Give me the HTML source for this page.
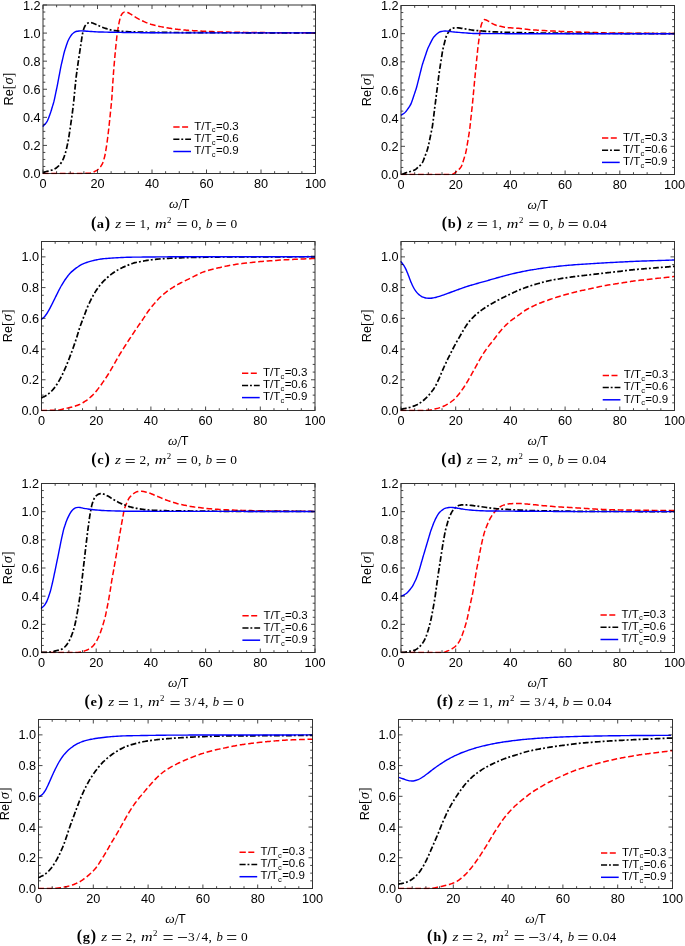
<!DOCTYPE html>
<html><head><meta charset="utf-8"><style>
html,body{margin:0;padding:0;background:#fff;}
body{width:685px;height:946px;overflow:hidden;}
svg{display:block;}
.t{font-family:"Liberation Sans",sans-serif;font-size:12.7px;fill:#000;}
.l{font-family:"Liberation Sans",sans-serif;font-size:11.5px;fill:#000;}
.cr{font-family:"Liberation Serif",serif;fill:#000;}
.ci{font-family:"Liberation Serif",serif;font-style:italic;fill:#000;}
.cb{font-family:"Liberation Serif",serif;font-weight:bold;fill:#000;}
</style></head><body>
<svg width="685" height="946" viewBox="0 0 685 946">
<text x="43" y="187.8" text-anchor="middle" class="t">0</text>
<text x="97.5" y="187.8" text-anchor="middle" class="t">20</text>
<text x="152" y="187.8" text-anchor="middle" class="t">40</text>
<text x="206.5" y="187.8" text-anchor="middle" class="t">60</text>
<text x="261" y="187.8" text-anchor="middle" class="t">80</text>
<text x="315.5" y="187.8" text-anchor="middle" class="t">100</text>
<text x="40.6" y="178" text-anchor="end" class="t">0.0</text>
<text x="40.6" y="149.92" text-anchor="end" class="t">0.2</text>
<text x="40.6" y="121.83" text-anchor="end" class="t">0.4</text>
<text x="40.6" y="93.75" text-anchor="end" class="t">0.6</text>
<text x="40.6" y="65.67" text-anchor="end" class="t">0.8</text>
<text x="40.6" y="37.58" text-anchor="end" class="t">1.0</text>
<text x="40.6" y="9.5" text-anchor="end" class="t">1.2</text>
<text x="179.25" y="208.1" text-anchor="middle" class="t"><tspan font-style="italic" font-family="Liberation Serif" font-size="13.4">ω</tspan><tspan font-family="Liberation Serif" font-size="14.5" dy="1.6" dx="-0.3">/</tspan><tspan dy="-1.6" dx="-0.6">T</tspan></text>
<text transform="translate(13.3 89.05) rotate(-90)" text-anchor="middle" class="t">Re<tspan font-family="Liberation Serif" font-size="14">[</tspan><tspan font-style="italic" font-family="Liberation Serif" font-size="14.5">σ</tspan><tspan font-family="Liberation Serif" font-size="14">]</tspan></text>
<clipPath id="cpa"><rect x="42.2" y="4.2" width="274.1" height="170.1"/></clipPath>
<g clip-path="url(#cpa)" fill="none">
<path d="M42.80,173.50C43.13,173.50 44.14,173.50 44.80,173.50C45.47,173.50 46.14,173.49 46.81,173.49C47.47,173.49 48.14,173.49 48.81,173.49C49.48,173.49 50.14,173.49 50.81,173.49C51.48,173.48 52.15,173.48 52.82,173.48C53.48,173.48 54.15,173.48 54.82,173.48C55.49,173.47 56.15,173.47 56.82,173.47C57.49,173.47 58.16,173.47 58.82,173.47C59.49,173.46 60.16,173.46 60.83,173.46C61.50,173.46 62.16,173.46 62.83,173.45C63.50,173.45 64.17,173.45 64.83,173.45C65.50,173.45 66.17,173.44 66.84,173.44C67.50,173.44 68.17,173.44 68.84,173.44C69.51,173.43 70.18,173.43 70.84,173.43C71.51,173.43 72.18,173.42 72.85,173.42C73.51,173.42 74.18,173.42 74.85,173.41C75.52,173.41 76.18,173.41 76.85,173.41C77.52,173.40 78.19,173.40 78.86,173.40C79.52,173.40 80.19,173.39 80.86,173.39C81.53,173.39 82.19,173.39 82.86,173.38C83.53,173.38 84.20,173.38 84.86,173.37C85.53,173.37 86.20,173.37 86.87,173.36C87.53,173.34 88.20,173.34 88.86,173.29C89.52,173.24 90.18,173.20 90.83,173.03C91.49,172.87 92.14,172.57 92.77,172.31C93.40,172.05 94.03,171.77 94.64,171.49C95.24,171.21 95.84,170.94 96.41,170.61C96.98,170.28 97.54,169.93 98.05,169.52C98.56,169.12 99.04,168.67 99.48,168.19C99.91,167.71 100.30,167.17 100.68,166.63C101.05,166.09 101.41,165.52 101.73,164.94C102.06,164.37 102.36,163.78 102.62,163.17C102.89,162.57 103.10,161.94 103.31,161.31C103.52,160.68 103.70,160.04 103.89,159.40C104.07,158.76 104.25,158.12 104.42,157.47C104.59,156.82 104.76,156.18 104.90,155.53C105.05,154.88 105.17,154.22 105.30,153.57C105.42,152.91 105.53,152.25 105.64,151.59C105.75,150.94 105.85,150.28 105.96,149.62C106.07,148.96 106.18,148.30 106.28,147.64C106.39,146.98 106.50,146.32 106.60,145.66C106.70,145.00 106.80,144.34 106.89,143.68C106.98,143.02 107.07,142.36 107.16,141.70C107.25,141.03 107.33,140.37 107.42,139.71C107.50,139.05 107.59,138.39 107.67,137.72C107.75,137.06 107.84,136.40 107.92,135.74C108.01,135.07 108.09,134.41 108.17,133.75C108.25,133.08 108.32,132.42 108.40,131.76C108.48,131.09 108.55,130.43 108.62,129.77C108.70,129.10 108.77,128.44 108.84,127.78C108.91,127.11 108.99,126.45 109.06,125.79C109.13,125.12 109.21,124.46 109.28,123.79C109.35,123.13 109.42,122.47 109.49,121.80C109.56,121.14 109.63,120.47 109.70,119.81C109.77,119.15 109.84,118.48 109.90,117.82C109.97,117.15 110.04,116.49 110.11,115.82C110.18,115.16 110.24,114.50 110.31,113.83C110.38,113.17 110.45,112.50 110.51,111.84C110.58,111.17 110.65,110.51 110.71,109.85C110.78,109.18 110.85,108.52 110.92,107.85C110.98,107.19 111.05,106.52 111.12,105.86C111.18,105.20 111.25,104.53 111.32,103.87C111.39,103.20 111.45,102.54 111.52,101.87C111.58,101.21 111.65,100.54 111.70,99.88C111.76,99.21 111.81,98.55 111.86,97.88C111.91,97.22 111.95,96.55 112.00,95.88C112.04,95.22 112.08,94.55 112.12,93.89C112.16,93.22 112.20,92.55 112.24,91.89C112.29,91.22 112.33,90.55 112.37,89.89C112.41,89.22 112.45,88.55 112.49,87.89C112.53,87.22 112.57,86.55 112.62,85.89C112.66,85.22 112.70,84.56 112.75,83.89C112.79,83.22 112.84,82.56 112.88,81.89C112.93,81.23 112.97,80.56 113.02,79.89C113.07,79.23 113.11,78.56 113.16,77.89C113.21,77.23 113.25,76.56 113.30,75.90C113.35,75.23 113.39,74.56 113.44,73.90C113.48,73.23 113.53,72.57 113.58,71.90C113.63,71.23 113.67,70.57 113.72,69.90C113.77,69.24 113.83,68.57 113.88,67.91C113.93,67.24 113.99,66.57 114.05,65.91C114.11,65.24 114.17,64.58 114.23,63.91C114.28,63.25 114.34,62.58 114.40,61.92C114.46,61.25 114.52,60.59 114.58,59.92C114.64,59.26 114.70,58.59 114.76,57.93C114.82,57.26 114.88,56.60 114.93,55.93C114.99,55.27 115.05,54.60 115.11,53.94C115.17,53.27 115.23,52.61 115.29,51.94C115.36,51.28 115.42,50.61 115.48,49.95C115.55,49.28 115.61,48.62 115.68,47.96C115.75,47.29 115.81,46.63 115.88,45.96C115.95,45.30 116.01,44.63 116.08,43.97C116.15,43.31 116.22,42.64 116.28,41.98C116.35,41.31 116.42,40.65 116.49,39.98C116.56,39.32 116.62,38.66 116.70,37.99C116.77,37.33 116.84,36.66 116.93,36.00C117.01,35.34 117.10,34.68 117.20,34.02C117.29,33.36 117.39,32.70 117.49,32.04C117.59,31.38 117.69,30.72 117.79,30.06C117.89,29.40 117.99,28.74 118.10,28.08C118.20,27.42 118.31,26.76 118.43,26.10C118.54,25.44 118.67,24.79 118.80,24.13C118.93,23.48 119.07,22.83 119.21,22.17C119.35,21.52 119.49,20.87 119.64,20.22C119.79,19.57 119.92,18.91 120.10,18.28C120.27,17.64 120.45,17.00 120.69,16.39C120.93,15.78 121.21,15.18 121.54,14.63C121.88,14.09 122.26,13.54 122.69,13.13C123.13,12.72 123.63,12.35 124.16,12.15C124.70,11.96 125.30,11.91 125.89,11.96C126.47,12.02 127.09,12.25 127.67,12.49C128.26,12.73 128.85,13.07 129.43,13.39C130.00,13.71 130.57,14.07 131.13,14.43C131.70,14.78 132.25,15.16 132.81,15.52C133.37,15.89 133.92,16.26 134.48,16.62C135.04,16.99 135.60,17.35 136.18,17.68C136.75,18.02 137.33,18.35 137.92,18.66C138.51,18.97 139.11,19.27 139.70,19.57C140.30,19.87 140.90,20.16 141.50,20.44C142.11,20.73 142.71,21.01 143.32,21.28C143.93,21.55 144.55,21.82 145.16,22.08C145.77,22.34 146.39,22.60 147.01,22.85C147.63,23.10 148.25,23.35 148.87,23.58C149.50,23.81 150.13,24.02 150.76,24.22C151.40,24.41 152.04,24.59 152.69,24.76C153.33,24.93 153.98,25.09 154.63,25.26C155.28,25.42 155.92,25.58 156.57,25.74C157.22,25.90 157.87,26.06 158.52,26.20C159.17,26.35 159.82,26.49 160.48,26.62C161.13,26.75 161.79,26.86 162.45,26.98C163.10,27.10 163.76,27.21 164.42,27.33C165.08,27.44 165.74,27.55 166.39,27.66C167.05,27.78 167.71,27.89 168.37,28.00C169.03,28.11 169.68,28.23 170.34,28.34C171.00,28.45 171.66,28.56 172.32,28.66C172.98,28.77 173.64,28.87 174.30,28.95C174.96,29.04 175.62,29.12 176.29,29.19C176.95,29.26 177.62,29.32 178.28,29.39C178.95,29.46 179.61,29.52 180.27,29.58C180.94,29.65 181.60,29.71 182.27,29.77C182.93,29.84 183.60,29.90 184.26,29.96C184.93,30.03 185.59,30.09 186.26,30.15C186.92,30.21 187.59,30.27 188.25,30.32C188.92,30.38 189.58,30.42 190.25,30.47C190.92,30.51 191.58,30.55 192.25,30.59C192.92,30.63 193.58,30.66 194.25,30.70C194.92,30.74 195.58,30.77 196.25,30.81C196.92,30.84 197.58,30.88 198.25,30.92C198.92,30.95 199.58,30.99 200.25,31.03C200.92,31.06 201.58,31.10 202.25,31.13C202.92,31.17 203.58,31.20 204.25,31.24C204.92,31.27 205.58,31.30 206.25,31.34C206.92,31.37 207.58,31.40 208.25,31.43C208.92,31.46 209.59,31.50 210.25,31.53C210.92,31.56 211.59,31.59 212.25,31.62C212.92,31.66 213.59,31.69 214.25,31.72C214.92,31.75 215.59,31.78 216.26,31.81C216.92,31.84 217.59,31.86 218.26,31.88C218.92,31.91 219.59,31.92 220.26,31.94C220.93,31.95 221.59,31.97 222.26,31.98C222.93,31.99 223.60,32.00 224.26,32.02C224.93,32.03 225.60,32.04 226.27,32.05C226.93,32.07 227.60,32.08 228.27,32.09C228.94,32.10 229.61,32.11 230.27,32.13C230.94,32.14 231.61,32.15 232.28,32.16C232.94,32.18 233.61,32.19 234.28,32.20C234.95,32.21 235.61,32.23 236.28,32.24C236.95,32.25 237.62,32.26 238.28,32.28C238.95,32.29 239.62,32.30 240.29,32.31C240.95,32.32 241.62,32.34 242.29,32.35C242.96,32.36 243.62,32.37 244.29,32.38C244.96,32.39 245.63,32.40 246.29,32.41C246.96,32.42 247.63,32.43 248.30,32.44C248.97,32.45 249.63,32.45 250.30,32.46C250.97,32.47 251.64,32.48 252.30,32.48C252.97,32.49 253.64,32.50 254.31,32.51C254.97,32.51 255.64,32.52 256.31,32.53C256.98,32.54 257.65,32.54 258.31,32.55C258.98,32.56 259.65,32.57 260.32,32.58C260.98,32.58 261.65,32.59 262.32,32.60C262.99,32.61 263.65,32.61 264.32,32.62C264.99,32.63 265.66,32.64 266.32,32.64C266.99,32.65 267.66,32.66 268.33,32.67C269.00,32.67 269.66,32.68 270.33,32.69C271.00,32.70 271.67,32.70 272.33,32.71C273.00,32.72 273.67,32.73 274.34,32.74C275.00,32.74 275.67,32.75 276.34,32.76C277.01,32.77 277.67,32.77 278.34,32.78C279.01,32.79 279.68,32.79 280.35,32.80C281.01,32.80 281.68,32.80 282.35,32.81C283.02,32.81 283.68,32.81 284.35,32.81C285.02,32.81 285.69,32.82 286.35,32.82C287.02,32.82 287.69,32.82 288.36,32.82C289.03,32.83 289.69,32.83 290.36,32.83C291.03,32.83 291.70,32.83 292.36,32.83C293.03,32.84 293.70,32.84 294.37,32.84C295.04,32.84 295.70,32.84 296.37,32.85C297.04,32.85 297.71,32.85 298.37,32.85C299.04,32.85 299.71,32.86 300.38,32.86C301.04,32.86 301.71,32.86 302.38,32.86C303.05,32.87 303.72,32.87 304.38,32.87C305.05,32.87 305.72,32.87 306.39,32.87C307.05,32.88 307.72,32.88 308.39,32.88C309.06,32.88 309.72,32.88 310.39,32.89C311.06,32.89 311.73,32.89 312.40,32.89C313.06,32.89 313.90,32.90 314.40,32.90C314.90,32.90 315.23,32.90 315.40,32.90" stroke="#f00" stroke-width="1.5" stroke-dasharray="5.8 2.7"/>
<path d="M43.10,172.60C43.43,172.48 44.40,172.05 45.05,171.85C45.70,171.65 46.35,171.55 47.00,171.40C47.65,171.24 48.30,171.08 48.94,170.91C49.59,170.74 50.23,170.56 50.87,170.37C51.51,170.18 52.15,170.00 52.77,169.77C53.39,169.54 54.00,169.30 54.58,169.00C55.16,168.69 55.71,168.34 56.25,167.96C56.78,167.58 57.30,167.15 57.80,166.71C58.29,166.28 58.79,165.83 59.24,165.36C59.69,164.88 60.11,164.37 60.50,163.84C60.89,163.31 61.24,162.74 61.58,162.17C61.93,161.61 62.26,161.02 62.56,160.43C62.87,159.85 63.17,159.25 63.43,158.64C63.70,158.03 63.93,157.41 64.15,156.78C64.37,156.16 64.57,155.52 64.77,154.88C64.97,154.25 65.16,153.61 65.35,152.97C65.55,152.33 65.74,151.69 65.92,151.05C66.09,150.40 66.26,149.76 66.42,149.11C66.58,148.46 66.72,147.81 66.87,147.16C67.01,146.51 67.15,145.85 67.28,145.20C67.42,144.55 67.56,143.89 67.69,143.24C67.83,142.59 67.97,141.93 68.10,141.28C68.23,140.62 68.35,139.97 68.47,139.31C68.59,138.65 68.69,137.99 68.80,137.34C68.90,136.68 69.00,136.02 69.10,135.36C69.20,134.70 69.30,134.03 69.40,133.37C69.50,132.71 69.60,132.05 69.69,131.39C69.79,130.73 69.89,130.07 69.99,129.41C70.09,128.75 70.19,128.09 70.28,127.43C70.38,126.77 70.48,126.11 70.58,125.45C70.67,124.79 70.77,124.13 70.87,123.47C70.97,122.81 71.06,122.15 71.16,121.49C71.26,120.83 71.36,120.17 71.45,119.51C71.55,118.84 71.65,118.18 71.74,117.52C71.83,116.86 71.93,116.20 72.01,115.54C72.10,114.88 72.19,114.22 72.27,113.55C72.35,112.89 72.43,112.23 72.51,111.57C72.59,110.90 72.68,110.24 72.76,109.58C72.84,108.91 72.92,108.25 73.00,107.59C73.08,106.93 73.16,106.26 73.24,105.60C73.32,104.94 73.40,104.27 73.48,103.61C73.55,102.95 73.63,102.28 73.70,101.62C73.77,100.96 73.84,100.29 73.91,99.63C73.97,98.96 74.04,98.30 74.10,97.64C74.17,96.97 74.23,96.31 74.30,95.64C74.36,94.98 74.43,94.31 74.49,93.65C74.56,92.98 74.62,92.32 74.68,91.66C74.75,90.99 74.81,90.33 74.88,89.66C74.94,89.00 75.01,88.33 75.07,87.67C75.14,87.00 75.20,86.34 75.26,85.67C75.33,85.01 75.39,84.35 75.46,83.68C75.52,83.02 75.59,82.35 75.65,81.69C75.72,81.02 75.78,80.36 75.86,79.70C75.93,79.03 76.00,78.37 76.08,77.71C76.16,77.04 76.25,76.38 76.33,75.72C76.42,75.06 76.51,74.40 76.60,73.73C76.69,73.07 76.78,72.41 76.88,71.75C76.97,71.09 77.06,70.43 77.15,69.77C77.24,69.10 77.33,68.44 77.42,67.78C77.51,67.12 77.61,66.46 77.70,65.80C77.79,65.14 77.88,64.47 77.97,63.81C78.06,63.15 78.15,62.49 78.25,61.83C78.34,61.17 78.44,60.51 78.54,59.85C78.63,59.19 78.73,58.53 78.83,57.87C78.93,57.21 79.03,56.55 79.13,55.89C79.23,55.23 79.33,54.57 79.43,53.91C79.54,53.25 79.64,52.59 79.74,51.93C79.84,51.27 79.94,50.61 80.04,49.95C80.14,49.29 80.24,48.63 80.34,47.97C80.44,47.31 80.54,46.65 80.64,45.99C80.74,45.33 80.83,44.67 80.93,44.00C81.03,43.34 81.13,42.68 81.22,42.02C81.32,41.36 81.42,40.70 81.51,40.04C81.61,39.38 81.71,38.72 81.81,38.06C81.91,37.40 82.00,36.74 82.11,36.08C82.22,35.42 82.33,34.77 82.46,34.11C82.59,33.46 82.74,32.81 82.89,32.16C83.05,31.51 83.21,30.86 83.39,30.22C83.57,29.58 83.74,28.94 83.97,28.32C84.19,27.70 84.44,27.08 84.74,26.51C85.05,25.93 85.39,25.36 85.80,24.87C86.20,24.38 86.65,23.90 87.16,23.55C87.66,23.20 88.24,22.91 88.82,22.75C89.41,22.60 90.05,22.56 90.67,22.61C91.29,22.65 91.92,22.84 92.54,23.03C93.16,23.22 93.77,23.49 94.38,23.75C95.00,24.01 95.60,24.29 96.21,24.56C96.82,24.84 97.43,25.11 98.04,25.39C98.65,25.66 99.25,25.94 99.86,26.21C100.47,26.48 101.08,26.75 101.70,27.01C102.32,27.26 102.94,27.51 103.56,27.74C104.18,27.97 104.82,28.19 105.45,28.41C106.08,28.62 106.71,28.83 107.35,29.02C107.99,29.21 108.63,29.39 109.28,29.56C109.92,29.72 110.57,29.86 111.23,30.00C111.88,30.13 112.54,30.26 113.19,30.37C113.85,30.49 114.51,30.60 115.17,30.69C115.83,30.79 116.49,30.87 117.15,30.95C117.82,31.02 118.48,31.09 119.14,31.15C119.81,31.21 120.47,31.27 121.14,31.32C121.81,31.37 122.47,31.41 123.14,31.45C123.80,31.49 124.47,31.53 125.14,31.56C125.80,31.59 126.47,31.62 127.14,31.66C127.80,31.69 128.47,31.72 129.14,31.75C129.81,31.78 130.47,31.81 131.14,31.84C131.81,31.86 132.47,31.89 133.14,31.91C133.81,31.93 134.48,31.95 135.14,31.96C135.81,31.98 136.48,31.99 137.15,32.01C137.81,32.02 138.48,32.04 139.15,32.05C139.82,32.07 140.48,32.08 141.15,32.10C141.82,32.12 142.49,32.13 143.15,32.15C143.82,32.16 144.49,32.18 145.16,32.19C145.82,32.21 146.49,32.22 147.16,32.23C147.82,32.25 148.49,32.26 149.16,32.27C149.83,32.29 150.50,32.30 151.16,32.30C151.83,32.31 152.50,32.32 153.17,32.32C153.83,32.33 154.50,32.34 155.17,32.34C155.84,32.35 156.50,32.35 157.17,32.36C157.84,32.36 158.51,32.37 159.17,32.37C159.84,32.38 160.51,32.38 161.18,32.39C161.84,32.39 162.51,32.40 163.18,32.41C163.85,32.41 164.51,32.42 165.18,32.42C165.85,32.43 166.52,32.43 167.19,32.44C167.85,32.44 168.52,32.45 169.19,32.45C169.86,32.46 170.52,32.46 171.19,32.47C171.86,32.47 172.53,32.48 173.19,32.49C173.86,32.49 174.53,32.50 175.20,32.50C175.86,32.51 176.53,32.51 177.20,32.52C177.87,32.52 178.53,32.53 179.20,32.53C179.87,32.54 180.54,32.54 181.21,32.55C181.87,32.55 182.54,32.56 183.21,32.57C183.88,32.57 184.54,32.58 185.21,32.58C185.88,32.59 186.55,32.59 187.21,32.60C187.88,32.60 188.55,32.61 189.22,32.61C189.88,32.62 190.55,32.62 191.22,32.63C191.89,32.64 192.55,32.64 193.22,32.65C193.89,32.65 194.56,32.66 195.23,32.66C195.89,32.67 196.56,32.67 197.23,32.68C197.90,32.68 198.56,32.69 199.23,32.69C199.90,32.69 200.57,32.70 201.23,32.70C201.90,32.70 202.57,32.70 203.24,32.71C203.90,32.71 204.57,32.71 205.24,32.71C205.91,32.71 206.57,32.71 207.24,32.71C207.91,32.71 208.58,32.71 209.25,32.72C209.91,32.72 210.58,32.72 211.25,32.72C211.92,32.72 212.58,32.72 213.25,32.72C213.92,32.72 214.59,32.73 215.25,32.73C215.92,32.73 216.59,32.73 217.26,32.73C217.92,32.73 218.59,32.73 219.26,32.73C219.93,32.73 220.60,32.74 221.26,32.74C221.93,32.74 222.60,32.74 223.27,32.74C223.93,32.74 224.60,32.74 225.27,32.74C225.94,32.74 226.60,32.75 227.27,32.75C227.94,32.75 228.61,32.75 229.27,32.75C229.94,32.75 230.61,32.75 231.28,32.75C231.95,32.76 232.61,32.76 233.28,32.76C233.95,32.76 234.62,32.76 235.28,32.76C235.95,32.76 236.62,32.76 237.29,32.76C237.95,32.77 238.62,32.77 239.29,32.77C239.96,32.77 240.62,32.77 241.29,32.77C241.96,32.77 242.63,32.77 243.30,32.78C243.96,32.78 244.63,32.78 245.30,32.78C245.97,32.78 246.63,32.78 247.30,32.78C247.97,32.78 248.64,32.78 249.30,32.79C249.97,32.79 250.64,32.79 251.31,32.79C251.97,32.79 252.64,32.79 253.31,32.79C253.98,32.79 254.64,32.79 255.31,32.80C255.98,32.80 256.65,32.80 257.32,32.80C257.98,32.80 258.65,32.80 259.32,32.80C259.99,32.80 260.65,32.81 261.32,32.81C261.99,32.81 262.66,32.81 263.32,32.81C263.99,32.81 264.66,32.81 265.33,32.81C265.99,32.81 266.66,32.82 267.33,32.82C268.00,32.82 268.67,32.82 269.33,32.82C270.00,32.82 270.67,32.82 271.34,32.82C272.00,32.82 272.67,32.83 273.34,32.83C274.01,32.83 274.67,32.83 275.34,32.83C276.01,32.83 276.68,32.83 277.34,32.83C278.01,32.84 278.68,32.84 279.35,32.84C280.02,32.84 280.68,32.84 281.35,32.84C282.02,32.84 282.69,32.84 283.35,32.84C284.02,32.85 284.69,32.85 285.36,32.85C286.02,32.85 286.69,32.85 287.36,32.85C288.03,32.85 288.69,32.85 289.36,32.85C290.03,32.86 290.70,32.86 291.37,32.86C292.03,32.86 292.70,32.86 293.37,32.86C294.04,32.86 294.70,32.86 295.37,32.87C296.04,32.87 296.71,32.87 297.37,32.87C298.04,32.87 298.71,32.87 299.38,32.87C300.04,32.87 300.71,32.87 301.38,32.88C302.05,32.88 302.71,32.88 303.38,32.88C304.05,32.88 304.72,32.88 305.39,32.88C306.05,32.88 306.72,32.88 307.39,32.89C308.06,32.89 308.72,32.89 309.39,32.89C310.06,32.89 310.73,32.89 311.39,32.89C312.06,32.89 312.73,32.90 313.40,32.90C314.06,32.90 315.07,32.90 315.40,32.90" stroke="#000" stroke-width="1.7" stroke-dasharray="5.8 2.1 1.9 2.2"/>
<path d="M42.60,126.60C42.84,126.37 43.56,125.67 44.03,125.20C44.50,124.72 44.98,124.26 45.42,123.76C45.85,123.27 46.28,122.77 46.64,122.22C47.00,121.68 47.30,121.10 47.59,120.51C47.88,119.92 48.11,119.29 48.36,118.67C48.60,118.05 48.83,117.42 49.07,116.80C49.30,116.17 49.54,115.55 49.77,114.92C49.99,114.29 50.22,113.66 50.43,113.03C50.65,112.40 50.85,111.76 51.05,111.13C51.26,110.49 51.45,109.85 51.64,109.21C51.84,108.57 52.03,107.93 52.22,107.29C52.42,106.65 52.61,106.01 52.80,105.37C52.99,104.73 53.19,104.09 53.37,103.45C53.55,102.81 53.73,102.16 53.90,101.52C54.06,100.87 54.22,100.22 54.37,99.57C54.51,98.92 54.65,98.26 54.79,97.61C54.93,96.96 55.06,96.30 55.20,95.65C55.34,94.99 55.47,94.34 55.61,93.68C55.75,93.03 55.88,92.38 56.02,91.72C56.16,91.07 56.29,90.41 56.43,89.76C56.56,89.11 56.70,88.45 56.84,87.80C56.97,87.14 57.11,86.49 57.24,85.83C57.37,85.18 57.50,84.52 57.63,83.87C57.75,83.21 57.88,82.55 58.00,81.90C58.13,81.24 58.25,80.58 58.37,79.93C58.50,79.27 58.62,78.61 58.74,77.96C58.87,77.30 58.99,76.64 59.12,75.99C59.24,75.33 59.36,74.67 59.49,74.02C59.61,73.36 59.73,72.70 59.86,72.05C59.98,71.39 60.10,70.73 60.23,70.08C60.35,69.42 60.48,68.76 60.61,68.11C60.74,67.45 60.87,66.80 61.01,66.14C61.15,65.49 61.29,64.84 61.44,64.19C61.59,63.53 61.74,62.88 61.89,62.23C62.04,61.58 62.19,60.93 62.34,60.28C62.49,59.63 62.64,58.98 62.79,58.33C62.95,57.67 63.10,57.02 63.25,56.37C63.40,55.72 63.55,55.07 63.70,54.42C63.86,53.77 64.02,53.12 64.19,52.48C64.36,51.83 64.54,51.19 64.73,50.55C64.92,49.91 65.12,49.27 65.33,48.64C65.53,48.00 65.75,47.37 65.96,46.73C66.17,46.10 66.38,45.46 66.59,44.83C66.81,44.20 67.02,43.56 67.25,42.94C67.48,42.31 67.71,41.69 67.98,41.08C68.24,40.47 68.53,39.87 68.83,39.27C69.13,38.68 69.44,38.09 69.77,37.51C70.10,36.93 70.43,36.35 70.81,35.81C71.18,35.27 71.57,34.74 72.02,34.26C72.46,33.78 72.95,33.33 73.46,32.94C73.98,32.55 74.54,32.21 75.12,31.93C75.70,31.66 76.33,31.46 76.96,31.30C77.59,31.13 78.25,31.03 78.90,30.96C79.56,30.89 80.22,30.87 80.89,30.86C81.55,30.86 82.22,30.90 82.88,30.93C83.55,30.96 84.21,31.01 84.88,31.06C85.55,31.10 86.21,31.15 86.88,31.20C87.55,31.25 88.21,31.30 88.88,31.35C89.55,31.39 90.21,31.44 90.88,31.49C91.55,31.53 92.21,31.58 92.88,31.62C93.55,31.66 94.21,31.70 94.88,31.73C95.55,31.77 96.22,31.80 96.88,31.84C97.55,31.87 98.22,31.90 98.89,31.93C99.55,31.96 100.22,31.98 100.89,32.00C101.56,32.03 102.23,32.04 102.89,32.06C103.56,32.07 104.23,32.08 104.90,32.10C105.57,32.11 106.23,32.12 106.90,32.14C107.57,32.15 108.24,32.16 108.91,32.18C109.57,32.19 110.24,32.20 110.91,32.22C111.58,32.23 112.25,32.24 112.92,32.26C113.58,32.27 114.25,32.29 114.92,32.30C115.59,32.31 116.26,32.33 116.92,32.34C117.59,32.35 118.26,32.36 118.93,32.38C119.60,32.39 120.27,32.40 120.93,32.41C121.60,32.42 122.27,32.43 122.94,32.44C123.61,32.45 124.27,32.46 124.94,32.47C125.61,32.47 126.28,32.48 126.95,32.49C127.62,32.50 128.28,32.51 128.95,32.52C129.62,32.53 130.29,32.54 130.96,32.55C131.63,32.56 132.29,32.56 132.96,32.57C133.63,32.58 134.30,32.59 134.97,32.60C135.63,32.61 136.30,32.62 136.97,32.63C137.64,32.64 138.31,32.64 138.98,32.65C139.64,32.66 140.31,32.67 140.98,32.68C141.65,32.69 142.32,32.70 142.98,32.71C143.65,32.72 144.32,32.72 144.99,32.73C145.66,32.74 146.33,32.75 146.99,32.76C147.66,32.77 148.33,32.78 149.00,32.78C149.67,32.79 150.34,32.79 151.00,32.80C151.67,32.80 152.34,32.80 153.01,32.81C153.68,32.81 154.34,32.81 155.01,32.81C155.68,32.81 156.35,32.81 157.02,32.81C157.69,32.82 158.35,32.82 159.02,32.82C159.69,32.82 160.36,32.82 161.03,32.82C161.70,32.82 162.36,32.82 163.03,32.83C163.70,32.83 164.37,32.83 165.04,32.83C165.71,32.83 166.37,32.83 167.04,32.83C167.71,32.84 168.38,32.84 169.05,32.84C169.72,32.84 170.38,32.84 171.05,32.84C171.72,32.84 172.39,32.84 173.06,32.85C173.72,32.85 174.39,32.85 175.06,32.85C175.73,32.85 176.40,32.85 177.07,32.85C177.73,32.86 178.40,32.86 179.07,32.86C179.74,32.86 180.41,32.86 181.08,32.86C181.74,32.86 182.41,32.86 183.08,32.87C183.75,32.87 184.42,32.87 185.09,32.87C185.75,32.87 186.42,32.87 187.09,32.87C187.76,32.88 188.43,32.88 189.10,32.88C189.76,32.88 190.43,32.88 191.10,32.88C191.77,32.88 192.44,32.88 193.10,32.89C193.77,32.89 194.44,32.89 195.11,32.89C195.78,32.89 196.45,32.89 197.11,32.89C197.78,32.90 198.45,32.90 199.12,32.90C199.79,32.90 200.46,32.90 201.12,32.90C201.79,32.90 202.46,32.90 203.13,32.90C203.80,32.90 204.47,32.90 205.13,32.90C205.80,32.90 206.47,32.90 207.14,32.90C207.81,32.90 208.48,32.90 209.14,32.90C209.81,32.90 210.48,32.90 211.15,32.90C211.82,32.90 212.49,32.90 213.15,32.90C213.82,32.90 214.49,32.90 215.16,32.90C215.83,32.90 216.49,32.90 217.16,32.90C217.83,32.90 218.50,32.90 219.17,32.90C219.84,32.90 220.50,32.90 221.17,32.90C221.84,32.90 222.51,32.90 223.18,32.90C223.85,32.90 224.51,32.90 225.18,32.90C225.85,32.90 226.52,32.90 227.19,32.90C227.86,32.90 228.52,32.90 229.19,32.90C229.86,32.90 230.53,32.90 231.20,32.90C231.87,32.90 232.53,32.90 233.20,32.90C233.87,32.90 234.54,32.90 235.21,32.90C235.87,32.90 236.54,32.90 237.21,32.90C237.88,32.90 238.55,32.90 239.22,32.90C239.88,32.90 240.55,32.90 241.22,32.90C241.89,32.90 242.56,32.90 243.23,32.90C243.89,32.90 244.56,32.90 245.23,32.90C245.90,32.90 246.57,32.90 247.24,32.90C247.90,32.90 248.57,32.90 249.24,32.90C249.91,32.90 250.58,32.90 251.25,32.90C251.91,32.90 252.58,32.90 253.25,32.90C253.92,32.90 254.59,32.90 255.25,32.90C255.92,32.90 256.59,32.90 257.26,32.90C257.93,32.90 258.60,32.90 259.26,32.90C259.93,32.90 260.60,32.90 261.27,32.90C261.94,32.90 262.61,32.90 263.27,32.90C263.94,32.90 264.61,32.90 265.28,32.90C265.95,32.90 266.62,32.90 267.28,32.90C267.95,32.90 268.62,32.90 269.29,32.90C269.96,32.90 270.63,32.90 271.29,32.90C271.96,32.90 272.63,32.90 273.30,32.90C273.97,32.90 274.63,32.90 275.30,32.90C275.97,32.90 276.64,32.90 277.31,32.90C277.98,32.90 278.64,32.90 279.31,32.90C279.98,32.90 280.65,32.90 281.32,32.90C281.99,32.90 282.65,32.90 283.32,32.90C283.99,32.90 284.66,32.90 285.33,32.90C286.00,32.90 286.66,32.90 287.33,32.90C288.00,32.90 288.67,32.90 289.34,32.90C290.01,32.90 290.67,32.90 291.34,32.90C292.01,32.90 292.68,32.90 293.35,32.90C294.02,32.90 294.68,32.90 295.35,32.90C296.02,32.90 296.69,32.90 297.36,32.90C298.02,32.90 298.69,32.90 299.36,32.90C300.03,32.90 300.70,32.90 301.37,32.90C302.03,32.90 302.70,32.90 303.37,32.90C304.04,32.90 304.71,32.90 305.38,32.90C306.04,32.90 306.71,32.90 307.38,32.90C308.05,32.90 308.72,32.90 309.39,32.90C310.05,32.90 310.72,32.90 311.39,32.90C312.06,32.90 312.73,32.90 313.40,32.90C314.06,32.90 315.07,32.90 315.40,32.90" stroke="#00f" stroke-width="1.4" stroke-dasharray="none"/>
</g>
<g style="mix-blend-mode:multiply"><path d="M43 173.5v-4.0M43 5v4.0M56.62 173.5v-2.3M56.62 5v2.3M70.25 173.5v-2.3M70.25 5v2.3M83.88 173.5v-2.3M83.88 5v2.3M97.5 173.5v-4.0M97.5 5v4.0M111.12 173.5v-2.3M111.12 5v2.3M124.75 173.5v-2.3M124.75 5v2.3M138.38 173.5v-2.3M138.38 5v2.3M152 173.5v-4.0M152 5v4.0M165.62 173.5v-2.3M165.62 5v2.3M179.25 173.5v-2.3M179.25 5v2.3M192.88 173.5v-2.3M192.88 5v2.3M206.5 173.5v-4.0M206.5 5v4.0M220.12 173.5v-2.3M220.12 5v2.3M233.75 173.5v-2.3M233.75 5v2.3M247.38 173.5v-2.3M247.38 5v2.3M261 173.5v-4.0M261 5v4.0M274.62 173.5v-2.3M274.62 5v2.3M288.25 173.5v-2.3M288.25 5v2.3M301.88 173.5v-2.3M301.88 5v2.3M315.5 173.5v-4.0M315.5 5v4.0M43 173.5h4.0M315.5 173.5h-4.0M43 166.48h2.3M315.5 166.48h-2.3M43 159.46h2.3M315.5 159.46h-2.3M43 152.44h2.3M315.5 152.44h-2.3M43 145.42h4.0M315.5 145.42h-4.0M43 138.4h2.3M315.5 138.4h-2.3M43 131.38h2.3M315.5 131.38h-2.3M43 124.35h2.3M315.5 124.35h-2.3M43 117.33h4.0M315.5 117.33h-4.0M43 110.31h2.3M315.5 110.31h-2.3M43 103.29h2.3M315.5 103.29h-2.3M43 96.27h2.3M315.5 96.27h-2.3M43 89.25h4.0M315.5 89.25h-4.0M43 82.23h2.3M315.5 82.23h-2.3M43 75.21h2.3M315.5 75.21h-2.3M43 68.19h2.3M315.5 68.19h-2.3M43 61.17h4.0M315.5 61.17h-4.0M43 54.15h2.3M315.5 54.15h-2.3M43 47.12h2.3M315.5 47.12h-2.3M43 40.1h2.3M315.5 40.1h-2.3M43 33.08h4.0M315.5 33.08h-4.0M43 26.06h2.3M315.5 26.06h-2.3M43 19.04h2.3M315.5 19.04h-2.3M43 12.02h2.3M315.5 12.02h-2.3M43 5h4.0M315.5 5h-4.0" stroke="#333" stroke-width="0.9" fill="none"/>
<rect x="43" y="5" width="272.5" height="168.5" stroke="#333" stroke-width="1" fill="none"/></g>
<path d="M173.3 127.1h17.7" stroke="#f00" stroke-width="1.5" stroke-dasharray="6.3 2.5 6 20"/>
<text x="194.3" y="129.8" class="l">T/T<tspan font-size="7.6" dy="2.6" dx="0.3">c</tspan><tspan dy="-2.6" dx="0.3">=0.3</tspan></text>
<path d="M173.3 139.3h17.7" stroke="#000" stroke-width="1.5" stroke-dasharray="6.1 1.9 1.9 2"/>
<text x="194.3" y="142" class="l">T/T<tspan font-size="7.6" dy="2.6" dx="0.3">c</tspan><tspan dy="-2.6" dx="0.3">=0.6</tspan></text>
<path d="M173.3 151.5h17.7" stroke="#00f" stroke-width="1.5" stroke-dasharray="none"/>
<text x="194.3" y="154.2" class="l">T/T<tspan font-size="7.6" dy="2.6" dx="0.3">c</tspan><tspan dy="-2.6" dx="0.3">=0.9</tspan></text>
<text x="90.91" y="227.8" class="cb" font-size="16">(</text>
<text transform="translate(96.84 227.8) scale(1.08 1)" class="cb" font-size="13.4">a</text>
<text x="104.67" y="227.8" class="cb" font-size="16">)</text>
<text transform="translate(115.13 227.8) scale(1.15 1)" class="ci" font-size="13.4">z</text>
<path d="M125.88 222.5H134.99M125.88 225.5H134.99" stroke="#000" stroke-width="0.85"/>
<text x="139.62" y="227.8" class="cr" font-size="13.4">1</text>
<text x="146.62" y="227.8" class="cr" font-size="13.4">,</text>
<text transform="translate(154.95 227.8) scale(1.2 1)" class="ci" font-size="13.4">m</text>
<text x="166.98" y="222.5" class="cr" font-size="8.8">2</text>
<path d="M177.46 222.5H186.57M177.46 225.5H186.57" stroke="#000" stroke-width="0.85"/>
<text x="191.2" y="227.8" class="cr" font-size="13.4">0</text>
<text x="198.2" y="227.8" class="cr" font-size="13.4">,</text>
<text transform="translate(206.08 227.8) scale(0.95 1)" class="ci" font-size="13.4">b</text>
<path d="M216.77 222.5H225.88M216.77 225.5H225.88" stroke="#000" stroke-width="0.85"/>
<text x="230.51" y="227.8" class="cr" font-size="13.4">0</text>
<text x="401" y="188.8" text-anchor="middle" class="t">0</text>
<text x="455.7" y="188.8" text-anchor="middle" class="t">20</text>
<text x="510.4" y="188.8" text-anchor="middle" class="t">40</text>
<text x="565.1" y="188.8" text-anchor="middle" class="t">60</text>
<text x="619.8" y="188.8" text-anchor="middle" class="t">80</text>
<text x="674.5" y="188.8" text-anchor="middle" class="t">100</text>
<text x="398.6" y="179" text-anchor="end" class="t">0.0</text>
<text x="398.6" y="150.83" text-anchor="end" class="t">0.2</text>
<text x="398.6" y="122.67" text-anchor="end" class="t">0.4</text>
<text x="398.6" y="94.5" text-anchor="end" class="t">0.6</text>
<text x="398.6" y="66.33" text-anchor="end" class="t">0.8</text>
<text x="398.6" y="38.17" text-anchor="end" class="t">1.0</text>
<text x="398.6" y="10" text-anchor="end" class="t">1.2</text>
<text x="537.75" y="209.1" text-anchor="middle" class="t"><tspan font-style="italic" font-family="Liberation Serif" font-size="13.4">ω</tspan><tspan font-family="Liberation Serif" font-size="14.5" dy="1.6" dx="-0.3">/</tspan><tspan dy="-1.6" dx="-0.6">T</tspan></text>
<text transform="translate(371.3 89.8) rotate(-90)" text-anchor="middle" class="t">Re<tspan font-family="Liberation Serif" font-size="14">[</tspan><tspan font-style="italic" font-family="Liberation Serif" font-size="14.5">σ</tspan><tspan font-family="Liberation Serif" font-size="14">]</tspan></text>
<clipPath id="cpb"><rect x="400.2" y="4.7" width="275.1" height="170.6"/></clipPath>
<g clip-path="url(#cpb)" fill="none">
<path d="M401.00,174.50C401.33,174.50 402.34,174.50 403.00,174.50C403.67,174.50 404.34,174.50 405.01,174.50C405.68,174.50 406.34,174.50 407.01,174.50C407.68,174.50 408.35,174.50 409.02,174.50C409.68,174.50 410.35,174.50 411.02,174.50C411.69,174.50 412.36,174.50 413.02,174.50C413.69,174.50 414.36,174.50 415.03,174.50C415.70,174.50 416.36,174.50 417.03,174.50C417.70,174.50 418.37,174.50 419.04,174.50C419.70,174.50 420.37,174.50 421.04,174.50C421.71,174.50 422.38,174.50 423.04,174.50C423.71,174.50 424.38,174.50 425.05,174.50C425.72,174.50 426.38,174.50 427.05,174.50C427.72,174.50 428.39,174.50 429.06,174.50C429.72,174.50 430.39,174.50 431.06,174.50C431.73,174.50 432.40,174.50 433.06,174.50C433.73,174.50 434.40,174.50 435.07,174.50C435.74,174.50 436.40,174.50 437.07,174.50C437.74,174.50 438.41,174.50 439.08,174.50C439.74,174.50 440.41,174.50 441.08,174.50C441.75,174.50 442.42,174.50 443.08,174.50C443.75,174.50 444.42,174.50 445.09,174.50C445.76,174.50 446.42,174.50 447.09,174.50C447.76,174.50 448.43,174.49 449.09,174.48C449.76,174.47 450.43,174.48 451.07,174.42C451.72,174.37 452.37,174.39 452.98,174.14C453.58,173.89 454.15,173.31 454.70,172.91C455.26,172.51 455.77,172.17 456.28,171.76C456.80,171.35 457.30,170.90 457.79,170.46C458.29,170.02 458.80,169.58 459.26,169.12C459.73,168.65 460.19,168.18 460.57,167.67C460.95,167.15 461.27,166.59 461.55,166.00C461.83,165.42 462.04,164.79 462.26,164.16C462.48,163.54 462.67,162.90 462.87,162.26C463.08,161.63 463.27,160.99 463.47,160.35C463.67,159.71 463.87,159.07 464.07,158.44C464.27,157.80 464.47,157.16 464.67,156.52C464.86,155.89 465.06,155.25 465.25,154.61C465.43,153.97 465.61,153.32 465.77,152.68C465.92,152.03 466.06,151.37 466.19,150.72C466.32,150.07 466.43,149.41 466.54,148.75C466.65,148.09 466.76,147.43 466.87,146.77C466.98,146.11 467.09,145.45 467.20,144.80C467.31,144.14 467.42,143.48 467.53,142.82C467.64,142.16 467.75,141.50 467.86,140.84C467.97,140.18 468.08,139.52 468.19,138.87C468.30,138.21 468.41,137.55 468.52,136.89C468.63,136.23 468.74,135.57 468.85,134.91C468.96,134.25 469.07,133.59 469.17,132.94C469.28,132.28 469.38,131.62 469.48,130.96C469.57,130.29 469.66,129.63 469.74,128.97C469.83,128.31 469.90,127.64 469.97,126.98C470.05,126.32 470.12,125.65 470.19,124.99C470.26,124.32 470.33,123.66 470.40,122.99C470.47,122.33 470.55,121.67 470.62,121.00C470.69,120.34 470.76,119.67 470.83,119.01C470.90,118.35 470.97,117.68 471.04,117.02C471.12,116.35 471.19,115.69 471.26,115.02C471.33,114.36 471.40,113.70 471.47,113.03C471.54,112.37 471.61,111.70 471.68,111.04C471.76,110.37 471.83,109.71 471.90,109.05C471.97,108.38 472.04,107.72 472.11,107.05C472.18,106.39 472.25,105.72 472.32,105.06C472.39,104.40 472.45,103.73 472.52,103.07C472.58,102.40 472.65,101.74 472.71,101.07C472.77,100.41 472.84,99.74 472.90,99.08C472.96,98.41 473.02,97.75 473.08,97.08C473.15,96.42 473.21,95.75 473.27,95.09C473.33,94.42 473.40,93.76 473.46,93.09C473.52,92.43 473.58,91.76 473.65,91.10C473.71,90.43 473.77,89.77 473.83,89.10C473.90,88.44 473.96,87.77 474.02,87.10C474.08,86.44 474.14,85.77 474.21,85.11C474.27,84.44 474.33,83.78 474.39,83.11C474.46,82.45 474.52,81.78 474.58,81.12C474.64,80.45 474.71,79.79 474.77,79.12C474.83,78.46 474.89,77.79 474.96,77.13C475.02,76.46 475.08,75.80 475.15,75.13C475.21,74.47 475.27,73.80 475.34,73.14C475.40,72.47 475.47,71.81 475.54,71.14C475.60,70.48 475.67,69.82 475.74,69.15C475.80,68.49 475.87,67.82 475.94,67.16C476.00,66.49 476.07,65.83 476.13,65.16C476.20,64.50 476.27,63.83 476.33,63.17C476.40,62.50 476.47,61.84 476.53,61.17C476.60,60.51 476.67,59.85 476.73,59.18C476.80,58.52 476.87,57.85 476.93,57.19C477.00,56.52 477.07,55.86 477.13,55.19C477.20,54.53 477.26,53.86 477.33,53.20C477.40,52.53 477.46,51.87 477.53,51.20C477.60,50.54 477.66,49.88 477.73,49.21C477.80,48.55 477.87,47.88 477.95,47.22C478.02,46.55 478.10,45.89 478.19,45.23C478.27,44.57 478.36,43.90 478.45,43.24C478.54,42.58 478.63,41.92 478.72,41.26C478.81,40.59 478.90,39.93 478.99,39.27C479.08,38.61 479.17,37.95 479.26,37.29C479.35,36.62 479.44,35.96 479.53,35.30C479.62,34.64 479.71,33.98 479.80,33.31C479.89,32.65 479.98,31.99 480.07,31.33C480.16,30.67 480.25,30.00 480.35,29.34C480.45,28.69 480.55,28.03 480.68,27.37C480.81,26.72 480.96,26.08 481.14,25.44C481.32,24.80 481.53,24.16 481.75,23.54C481.97,22.92 482.20,22.27 482.46,21.72C482.72,21.16 482.98,20.58 483.32,20.23C483.66,19.88 484.05,19.65 484.51,19.61C484.97,19.57 485.53,19.77 486.07,19.97C486.62,20.17 487.22,20.52 487.79,20.83C488.36,21.15 488.93,21.51 489.50,21.85C490.07,22.20 490.64,22.56 491.21,22.90C491.78,23.25 492.34,23.61 492.92,23.92C493.51,24.24 494.09,24.55 494.70,24.80C495.31,25.06 495.93,25.26 496.57,25.44C497.20,25.63 497.86,25.77 498.51,25.92C499.15,26.08 499.81,26.21 500.46,26.35C501.11,26.50 501.77,26.64 502.42,26.77C503.07,26.91 503.73,27.05 504.38,27.17C505.04,27.28 505.70,27.39 506.36,27.47C507.02,27.55 507.68,27.61 508.35,27.67C509.01,27.72 509.68,27.76 510.35,27.81C511.01,27.85 511.68,27.89 512.35,27.93C513.01,27.97 513.68,28.01 514.35,28.06C515.01,28.10 515.68,28.14 516.35,28.19C517.01,28.24 517.68,28.29 518.34,28.36C519.01,28.42 519.67,28.49 520.33,28.56C521.00,28.63 521.66,28.71 522.33,28.79C522.99,28.87 523.65,28.95 524.32,29.02C524.98,29.10 525.64,29.18 526.31,29.26C526.97,29.33 527.63,29.41 528.30,29.47C528.96,29.54 529.63,29.60 530.29,29.66C530.96,29.71 531.62,29.76 532.29,29.81C532.96,29.86 533.62,29.90 534.29,29.95C534.96,29.99 535.62,30.04 536.29,30.09C536.96,30.13 537.62,30.18 538.29,30.22C538.96,30.27 539.62,30.31 540.29,30.36C540.95,30.40 541.62,30.45 542.29,30.49C542.95,30.53 543.62,30.57 544.29,30.61C544.95,30.65 545.62,30.68 546.29,30.72C546.96,30.75 547.62,30.78 548.29,30.82C548.96,30.85 549.63,30.88 550.29,30.91C550.96,30.94 551.63,30.98 552.29,31.01C552.96,31.04 553.63,31.07 554.30,31.10C554.96,31.13 555.63,31.17 556.30,31.20C556.96,31.23 557.63,31.26 558.30,31.29C558.97,31.32 559.63,31.35 560.30,31.38C560.97,31.41 561.64,31.43 562.30,31.46C562.97,31.49 563.64,31.52 564.31,31.54C564.97,31.57 565.64,31.60 566.31,31.63C566.98,31.65 567.64,31.68 568.31,31.71C568.98,31.73 569.65,31.76 570.31,31.79C570.98,31.81 571.65,31.84 572.32,31.86C572.98,31.89 573.65,31.91 574.32,31.93C574.99,31.95 575.65,31.97 576.32,31.99C576.99,32.01 577.66,32.03 578.32,32.05C578.99,32.06 579.66,32.08 580.33,32.10C581.00,32.12 581.66,32.14 582.33,32.16C583.00,32.17 583.67,32.19 584.33,32.21C585.00,32.23 585.67,32.25 586.34,32.27C587.01,32.29 587.67,32.31 588.34,32.33C589.01,32.35 589.68,32.37 590.34,32.40C591.01,32.42 591.68,32.44 592.35,32.46C593.01,32.49 593.68,32.51 594.35,32.53C595.02,32.56 595.68,32.58 596.35,32.60C597.02,32.62 597.69,32.65 598.35,32.67C599.02,32.69 599.69,32.72 600.36,32.74C601.03,32.76 601.69,32.79 602.36,32.81C603.03,32.83 603.70,32.85 604.36,32.87C605.03,32.88 605.70,32.90 606.37,32.91C607.03,32.92 607.70,32.93 608.37,32.94C609.04,32.95 609.71,32.95 610.37,32.96C611.04,32.97 611.71,32.98 612.38,32.98C613.05,32.99 613.71,33.00 614.38,33.01C615.05,33.01 615.72,33.02 616.39,33.03C617.05,33.04 617.72,33.05 618.39,33.05C619.06,33.06 619.73,33.07 620.39,33.08C621.06,33.08 621.73,33.09 622.40,33.10C623.07,33.11 623.73,33.11 624.40,33.12C625.07,33.13 625.74,33.14 626.41,33.14C627.07,33.15 627.74,33.16 628.41,33.17C629.08,33.18 629.75,33.18 630.41,33.19C631.08,33.20 631.75,33.21 632.42,33.21C633.09,33.22 633.75,33.23 634.42,33.24C635.09,33.24 635.76,33.25 636.42,33.26C637.09,33.27 637.76,33.27 638.43,33.28C639.10,33.29 639.76,33.29 640.43,33.30C641.10,33.30 641.77,33.31 642.44,33.31C643.10,33.32 643.77,33.32 644.44,33.33C645.11,33.33 645.78,33.33 646.44,33.34C647.11,33.34 647.78,33.35 648.45,33.35C649.12,33.35 649.78,33.36 650.45,33.36C651.12,33.36 651.79,33.37 652.46,33.37C653.12,33.38 653.79,33.38 654.46,33.38C655.13,33.39 655.80,33.39 656.46,33.40C657.13,33.40 657.80,33.40 658.47,33.41C659.14,33.41 659.80,33.41 660.47,33.42C661.14,33.42 661.81,33.43 662.48,33.43C663.14,33.43 663.81,33.44 664.48,33.44C665.15,33.45 665.82,33.45 666.48,33.45C667.15,33.46 667.82,33.46 668.49,33.47C669.16,33.47 669.82,33.47 670.49,33.48C671.16,33.48 671.83,33.48 672.50,33.49C673.16,33.49 674.17,33.50 674.50,33.50" stroke="#f00" stroke-width="1.5" stroke-dasharray="5.8 2.7"/>
<path d="M401.72,174.39C402.04,174.29 403.01,174.03 403.65,173.77C404.29,173.52 404.93,173.10 405.57,172.85C406.22,172.61 406.86,172.49 407.50,172.30C408.14,172.12 408.79,171.94 409.43,171.75C410.07,171.57 410.71,171.39 411.35,171.19C411.98,170.99 412.62,170.80 413.23,170.55C413.83,170.30 414.42,170.02 414.98,169.69C415.55,169.36 416.07,168.96 416.59,168.55C417.12,168.15 417.62,167.71 418.12,167.27C418.62,166.84 419.13,166.40 419.62,165.95C420.10,165.49 420.59,165.05 421.02,164.55C421.45,164.06 421.84,163.55 422.19,163.00C422.53,162.45 422.80,161.85 423.07,161.24C423.34,160.64 423.56,160.01 423.81,159.39C424.05,158.77 424.28,158.14 424.51,157.52C424.75,156.89 424.98,156.27 425.22,155.64C425.45,155.02 425.69,154.39 425.92,153.77C426.15,153.14 426.39,152.51 426.62,151.89C426.84,151.26 427.07,150.63 427.28,150.00C427.48,149.37 427.68,148.73 427.85,148.08C428.02,147.44 428.17,146.79 428.32,146.14C428.47,145.49 428.60,144.83 428.74,144.18C428.87,143.53 429.01,142.87 429.15,142.22C429.28,141.57 429.42,140.91 429.55,140.26C429.69,139.60 429.83,138.95 429.96,138.30C430.10,137.64 430.24,136.99 430.37,136.33C430.51,135.68 430.64,135.03 430.78,134.37C430.92,133.72 431.05,133.06 431.19,132.41C431.33,131.76 431.46,131.10 431.60,130.45C431.73,129.79 431.87,129.14 431.99,128.49C432.12,127.83 432.24,127.17 432.35,126.52C432.46,125.86 432.56,125.20 432.65,124.54C432.75,123.87 432.83,123.21 432.91,122.55C433.00,121.89 433.08,121.22 433.16,120.56C433.25,119.90 433.33,119.24 433.41,118.57C433.49,117.91 433.58,117.25 433.66,116.58C433.74,115.92 433.83,115.26 433.91,114.60C433.99,113.93 434.07,113.27 434.16,112.61C434.24,111.94 434.32,111.28 434.41,110.62C434.49,109.96 434.57,109.29 434.65,108.63C434.74,107.97 434.82,107.30 434.90,106.64C434.99,105.98 435.07,105.32 435.15,104.65C435.23,103.99 435.32,103.33 435.40,102.67C435.48,102.00 435.57,101.34 435.65,100.68C435.73,100.01 435.81,99.35 435.90,98.69C435.98,98.03 436.06,97.36 436.15,96.70C436.23,96.04 436.31,95.37 436.39,94.71C436.48,94.05 436.56,93.39 436.64,92.72C436.72,92.06 436.81,91.40 436.89,90.74C436.97,90.07 437.06,89.41 437.14,88.75C437.22,88.08 437.30,87.42 437.39,86.76C437.47,86.10 437.55,85.43 437.64,84.77C437.72,84.11 437.80,83.44 437.88,82.78C437.97,82.12 438.05,81.46 438.13,80.79C438.22,80.13 438.30,79.47 438.38,78.80C438.47,78.14 438.55,77.48 438.63,76.82C438.72,76.15 438.81,75.49 438.90,74.83C438.99,74.17 439.08,73.51 439.18,72.85C439.28,72.19 439.38,71.53 439.48,70.87C439.58,70.21 439.68,69.54 439.78,68.88C439.88,68.22 439.98,67.56 440.09,66.90C440.19,66.24 440.29,65.58 440.39,64.92C440.49,64.26 440.59,63.60 440.70,62.94C440.80,62.28 440.90,61.62 441.00,60.96C441.10,60.30 441.20,59.64 441.31,58.98C441.41,58.32 441.51,57.66 441.61,57.00C441.71,56.34 441.81,55.68 441.91,55.02C442.02,54.36 442.12,53.70 442.23,53.04C442.33,52.38 442.44,51.72 442.56,51.07C442.69,50.41 442.82,49.76 442.97,49.11C443.11,48.46 443.27,47.81 443.42,47.16C443.58,46.51 443.75,45.86 443.91,45.21C444.07,44.56 444.23,43.92 444.39,43.27C444.55,42.62 444.72,41.97 444.88,41.32C445.04,40.68 445.20,40.03 445.37,39.38C445.54,38.74 445.70,38.09 445.89,37.46C446.09,36.82 446.30,36.19 446.56,35.59C446.82,34.98 447.13,34.40 447.45,33.82C447.77,33.25 448.14,32.68 448.50,32.13C448.87,31.58 449.23,31.01 449.64,30.52C450.04,30.03 450.45,29.53 450.94,29.17C451.42,28.80 451.97,28.54 452.55,28.33C453.13,28.12 453.79,28.03 454.43,27.93C455.07,27.84 455.74,27.79 456.40,27.77C457.06,27.75 457.72,27.76 458.38,27.81C459.04,27.86 459.70,27.95 460.36,28.05C461.02,28.14 461.68,28.26 462.34,28.38C462.99,28.49 463.65,28.61 464.31,28.72C464.97,28.84 465.63,28.95 466.28,29.07C466.94,29.18 467.60,29.30 468.26,29.41C468.92,29.52 469.57,29.64 470.23,29.75C470.89,29.85 471.55,29.95 472.21,30.04C472.87,30.13 473.54,30.21 474.20,30.28C474.87,30.35 475.53,30.41 476.20,30.47C476.86,30.53 477.53,30.58 478.19,30.64C478.86,30.70 479.52,30.76 480.19,30.82C480.85,30.88 481.52,30.93 482.18,30.99C482.85,31.05 483.51,31.11 484.18,31.17C484.85,31.22 485.51,31.28 486.18,31.34C486.84,31.40 487.51,31.46 488.17,31.51C488.84,31.56 489.50,31.61 490.17,31.65C490.84,31.70 491.50,31.73 492.17,31.77C492.84,31.80 493.51,31.82 494.17,31.85C494.84,31.88 495.51,31.91 496.18,31.93C496.84,31.96 497.51,31.99 498.18,32.01C498.85,32.04 499.51,32.06 500.18,32.09C500.85,32.12 501.52,32.14 502.18,32.17C502.85,32.20 503.52,32.22 504.18,32.25C504.85,32.27 505.52,32.30 506.19,32.32C506.85,32.35 507.52,32.37 508.19,32.39C508.86,32.41 509.53,32.43 510.19,32.45C510.86,32.46 511.53,32.48 512.20,32.49C512.86,32.51 513.53,32.52 514.20,32.54C514.87,32.55 515.54,32.56 516.20,32.58C516.87,32.59 517.54,32.61 518.21,32.62C518.87,32.64 519.54,32.65 520.21,32.67C520.88,32.68 521.55,32.70 522.21,32.71C522.88,32.73 523.55,32.74 524.22,32.75C524.88,32.77 525.55,32.78 526.22,32.80C526.89,32.81 527.56,32.83 528.22,32.84C528.89,32.86 529.56,32.87 530.23,32.89C530.89,32.90 531.56,32.92 532.23,32.93C532.90,32.94 533.57,32.96 534.23,32.97C534.90,32.99 535.57,33.00 536.24,33.02C536.90,33.03 537.57,33.05 538.24,33.06C538.91,33.07 539.58,33.08 540.24,33.09C540.91,33.10 541.58,33.11 542.25,33.11C542.92,33.12 543.58,33.12 544.25,33.13C544.92,33.13 545.59,33.14 546.25,33.14C546.92,33.15 547.59,33.15 548.26,33.16C548.93,33.16 549.59,33.16 550.26,33.17C550.93,33.17 551.60,33.18 552.27,33.18C552.93,33.19 553.60,33.19 554.27,33.20C554.94,33.20 555.61,33.20 556.27,33.21C556.94,33.21 557.61,33.22 558.28,33.22C558.95,33.23 559.61,33.23 560.28,33.24C560.95,33.24 561.62,33.24 562.29,33.25C562.95,33.25 563.62,33.26 564.29,33.26C564.96,33.27 565.62,33.27 566.29,33.28C566.96,33.28 567.63,33.28 568.30,33.29C568.96,33.29 569.63,33.30 570.30,33.30C570.97,33.31 571.64,33.31 572.30,33.32C572.97,33.32 573.64,33.32 574.31,33.33C574.98,33.33 575.64,33.34 576.31,33.34C576.98,33.35 577.65,33.35 578.32,33.36C578.98,33.36 579.65,33.36 580.32,33.37C580.99,33.37 581.66,33.38 582.32,33.38C582.99,33.39 583.66,33.39 584.33,33.40C585.00,33.40 585.66,33.40 586.33,33.41C587.00,33.41 587.67,33.42 588.33,33.42C589.00,33.43 589.67,33.43 590.34,33.44C591.01,33.44 591.67,33.44 592.34,33.45C593.01,33.45 593.68,33.46 594.35,33.46C595.01,33.47 595.68,33.47 596.35,33.48C597.02,33.48 597.69,33.48 598.35,33.49C599.02,33.49 599.69,33.49 600.36,33.50C601.03,33.50 601.69,33.50 602.36,33.50C603.03,33.50 603.70,33.50 604.37,33.51C605.03,33.51 605.70,33.51 606.37,33.51C607.04,33.51 607.71,33.51 608.37,33.51C609.04,33.51 609.71,33.51 610.38,33.51C611.04,33.51 611.71,33.52 612.38,33.52C613.05,33.52 613.72,33.52 614.38,33.52C615.05,33.52 615.72,33.52 616.39,33.52C617.06,33.52 617.72,33.52 618.39,33.52C619.06,33.53 619.73,33.53 620.40,33.53C621.06,33.53 621.73,33.53 622.40,33.53C623.07,33.53 623.74,33.53 624.40,33.53C625.07,33.53 625.74,33.53 626.41,33.54C627.08,33.54 627.74,33.54 628.41,33.54C629.08,33.54 629.75,33.54 630.42,33.54C631.08,33.54 631.75,33.54 632.42,33.54C633.09,33.54 633.76,33.55 634.42,33.55C635.09,33.55 635.76,33.55 636.43,33.55C637.09,33.55 637.76,33.55 638.43,33.55C639.10,33.55 639.77,33.55 640.43,33.55C641.10,33.56 641.77,33.56 642.44,33.56C643.11,33.56 643.77,33.56 644.44,33.56C645.11,33.56 645.78,33.56 646.45,33.56C647.11,33.56 647.78,33.56 648.45,33.57C649.12,33.57 649.79,33.57 650.45,33.57C651.12,33.57 651.79,33.57 652.46,33.57C653.13,33.57 653.79,33.57 654.46,33.57C655.13,33.57 655.80,33.57 656.47,33.58C657.13,33.58 657.80,33.58 658.47,33.58C659.14,33.58 659.81,33.58 660.47,33.58C661.14,33.58 661.81,33.58 662.48,33.58C663.14,33.58 663.81,33.59 664.48,33.59C665.15,33.59 665.82,33.59 666.48,33.59C667.15,33.59 667.82,33.59 668.49,33.59C669.16,33.59 669.82,33.59 670.49,33.59C671.16,33.60 671.83,33.60 672.50,33.60C673.16,33.60 674.17,33.60 674.50,33.60" stroke="#000" stroke-width="1.7" stroke-dasharray="5.8 2.1 1.9 2.2"/>
<path d="M400.79,115.35C401.08,115.17 401.94,114.66 402.50,114.31C403.06,113.95 403.62,113.60 404.14,113.19C404.66,112.79 405.15,112.36 405.60,111.89C406.06,111.42 406.45,110.90 406.85,110.37C407.25,109.84 407.62,109.28 407.99,108.73C408.36,108.18 408.74,107.62 409.10,107.06C409.46,106.50 409.82,105.94 410.15,105.36C410.48,104.79 410.79,104.20 411.06,103.60C411.34,102.99 411.57,102.37 411.81,101.75C412.04,101.13 412.25,100.49 412.46,99.86C412.68,99.23 412.89,98.59 413.10,97.96C413.31,97.32 413.52,96.69 413.73,96.05C413.94,95.42 414.16,94.79 414.37,94.15C414.58,93.52 414.79,92.89 415.00,92.25C415.21,91.62 415.42,90.98 415.63,90.35C415.84,89.71 416.05,89.08 416.24,88.44C416.44,87.80 416.63,87.16 416.80,86.52C416.98,85.87 417.15,85.23 417.32,84.58C417.48,83.93 417.64,83.28 417.81,82.64C417.97,81.99 418.13,81.34 418.29,80.69C418.45,80.04 418.62,79.39 418.78,78.75C418.94,78.10 419.10,77.45 419.26,76.80C419.43,76.15 419.59,75.50 419.75,74.86C419.91,74.21 420.08,73.56 420.24,72.91C420.40,72.26 420.56,71.61 420.72,70.97C420.89,70.32 421.05,69.67 421.21,69.02C421.37,68.37 421.54,67.72 421.71,67.08C421.88,66.43 422.05,65.79 422.24,65.15C422.43,64.51 422.63,63.87 422.83,63.23C423.03,62.60 423.24,61.96 423.45,61.33C423.66,60.69 423.87,60.06 424.08,59.43C424.29,58.79 424.51,58.16 424.72,57.52C424.93,56.89 425.14,56.26 425.35,55.62C425.56,54.99 425.77,54.35 425.99,53.72C426.20,53.09 426.41,52.45 426.62,51.82C426.84,51.19 427.05,50.55 427.28,49.93C427.52,49.30 427.76,48.68 428.02,48.07C428.28,47.45 428.56,46.85 428.85,46.25C429.13,45.64 429.43,45.05 429.73,44.45C430.03,43.85 430.33,43.25 430.63,42.65C430.93,42.06 431.22,41.46 431.53,40.86C431.83,40.27 432.13,39.67 432.46,39.10C432.80,38.53 433.14,37.96 433.53,37.44C433.92,36.91 434.36,36.41 434.81,35.93C435.26,35.45 435.75,34.98 436.24,34.54C436.73,34.09 437.22,33.64 437.75,33.26C438.27,32.87 438.81,32.52 439.39,32.23C439.97,31.94 440.59,31.73 441.22,31.54C441.84,31.36 442.50,31.22 443.14,31.13C443.79,31.04 444.45,30.99 445.11,30.98C445.77,30.97 446.43,31.03 447.09,31.09C447.75,31.15 448.41,31.25 449.07,31.34C449.73,31.42 450.39,31.52 451.06,31.61C451.72,31.70 452.38,31.79 453.04,31.86C453.71,31.94 454.37,32.01 455.04,32.08C455.70,32.14 456.37,32.20 457.03,32.25C457.70,32.31 458.36,32.36 459.03,32.42C459.70,32.47 460.36,32.52 461.03,32.58C461.70,32.63 462.36,32.68 463.03,32.74C463.69,32.79 464.36,32.84 465.03,32.90C465.69,32.95 466.36,33.00 467.02,33.06C467.69,33.11 468.36,33.16 469.02,33.21C469.69,33.26 470.36,33.32 471.02,33.36C471.69,33.39 472.36,33.43 473.02,33.45C473.69,33.48 474.36,33.49 475.03,33.50C475.69,33.51 476.36,33.51 477.03,33.52C477.70,33.52 478.37,33.52 479.04,33.53C479.70,33.53 480.37,33.54 481.04,33.54C481.71,33.54 482.38,33.55 483.05,33.55C483.71,33.56 484.38,33.56 485.05,33.56C485.72,33.57 486.39,33.57 487.05,33.58C487.72,33.58 488.39,33.58 489.06,33.59C489.73,33.59 490.40,33.60 491.06,33.60C491.73,33.60 492.40,33.61 493.07,33.61C493.74,33.62 494.41,33.62 495.07,33.62C495.74,33.63 496.41,33.63 497.08,33.64C497.75,33.64 498.41,33.64 499.08,33.65C499.75,33.65 500.42,33.65 501.09,33.66C501.76,33.66 502.42,33.67 503.09,33.67C503.76,33.67 504.43,33.68 505.10,33.68C505.77,33.69 506.43,33.69 507.10,33.69C507.77,33.69 508.44,33.70 509.11,33.70C509.77,33.70 510.44,33.70 511.11,33.70C511.78,33.70 512.45,33.70 513.12,33.70C513.78,33.70 514.45,33.70 515.12,33.70C515.79,33.70 516.46,33.70 517.13,33.70C517.79,33.70 518.46,33.70 519.13,33.70C519.80,33.70 520.47,33.70 521.14,33.70C521.80,33.70 522.47,33.70 523.14,33.70C523.81,33.70 524.48,33.70 525.14,33.70C525.81,33.70 526.48,33.70 527.15,33.70C527.82,33.70 528.49,33.70 529.15,33.70C529.82,33.70 530.49,33.70 531.16,33.70C531.83,33.70 532.50,33.70 533.16,33.70C533.83,33.70 534.50,33.70 535.17,33.70C535.84,33.70 536.51,33.70 537.17,33.70C537.84,33.70 538.51,33.70 539.18,33.70C539.85,33.70 540.51,33.70 541.18,33.70C541.85,33.70 542.52,33.70 543.19,33.70C543.86,33.70 544.52,33.70 545.19,33.70C545.86,33.70 546.53,33.70 547.20,33.70C547.87,33.70 548.53,33.70 549.20,33.70C549.87,33.70 550.54,33.70 551.21,33.70C551.88,33.70 552.54,33.70 553.21,33.70C553.88,33.70 554.55,33.70 555.22,33.70C555.88,33.70 556.55,33.70 557.22,33.70C557.89,33.70 558.56,33.70 559.23,33.70C559.89,33.70 560.56,33.70 561.23,33.70C561.90,33.70 562.57,33.70 563.24,33.70C563.90,33.70 564.57,33.70 565.24,33.70C565.91,33.70 566.58,33.70 567.24,33.70C567.91,33.70 568.58,33.70 569.25,33.70C569.92,33.70 570.59,33.70 571.25,33.70C571.92,33.70 572.59,33.70 573.26,33.70C573.93,33.70 574.60,33.70 575.26,33.70C575.93,33.70 576.60,33.70 577.27,33.70C577.94,33.70 578.61,33.70 579.27,33.70C579.94,33.70 580.61,33.70 581.28,33.70C581.95,33.70 582.61,33.70 583.28,33.70C583.95,33.70 584.62,33.70 585.29,33.70C585.96,33.70 586.62,33.70 587.29,33.70C587.96,33.70 588.63,33.70 589.30,33.70C589.97,33.70 590.63,33.70 591.30,33.70C591.97,33.70 592.64,33.70 593.31,33.70C593.98,33.70 594.64,33.70 595.31,33.70C595.98,33.70 596.65,33.70 597.32,33.70C597.98,33.70 598.65,33.70 599.32,33.70C599.99,33.70 600.66,33.70 601.33,33.70C601.99,33.70 602.66,33.70 603.33,33.70C604.00,33.70 604.67,33.70 605.34,33.70C606.00,33.70 606.67,33.70 607.34,33.70C608.01,33.70 608.68,33.70 609.35,33.70C610.01,33.70 610.68,33.70 611.35,33.70C612.02,33.70 612.69,33.70 613.35,33.70C614.02,33.70 614.69,33.70 615.36,33.70C616.03,33.70 616.70,33.70 617.36,33.70C618.03,33.70 618.70,33.70 619.37,33.70C620.04,33.70 620.71,33.70 621.37,33.70C622.04,33.70 622.71,33.70 623.38,33.70C624.05,33.70 624.71,33.70 625.38,33.70C626.05,33.70 626.72,33.70 627.39,33.70C628.06,33.70 628.72,33.70 629.39,33.70C630.06,33.70 630.73,33.70 631.40,33.70C632.07,33.70 632.73,33.70 633.40,33.70C634.07,33.70 634.74,33.70 635.41,33.70C636.08,33.70 636.74,33.70 637.41,33.70C638.08,33.70 638.75,33.70 639.42,33.70C640.08,33.70 640.75,33.70 641.42,33.70C642.09,33.70 642.76,33.70 643.43,33.70C644.09,33.70 644.76,33.70 645.43,33.70C646.10,33.70 646.77,33.70 647.44,33.70C648.10,33.70 648.77,33.70 649.44,33.70C650.11,33.70 650.78,33.70 651.45,33.70C652.11,33.70 652.78,33.70 653.45,33.70C654.12,33.70 654.79,33.70 655.45,33.70C656.12,33.70 656.79,33.70 657.46,33.70C658.13,33.70 658.80,33.70 659.46,33.70C660.13,33.70 660.80,33.70 661.47,33.70C662.14,33.70 662.81,33.70 663.47,33.70C664.14,33.70 664.81,33.70 665.48,33.70C666.15,33.70 666.82,33.70 667.48,33.70C668.15,33.70 668.82,33.70 669.49,33.70C670.16,33.70 670.82,33.70 671.49,33.70C672.16,33.70 673.00,33.70 673.50,33.70C674.00,33.70 674.33,33.70 674.50,33.70" stroke="#00f" stroke-width="1.4" stroke-dasharray="none"/>
</g>
<g style="mix-blend-mode:multiply"><path d="M401 174.5v-4.0M401 5.5v4.0M414.68 174.5v-2.3M414.68 5.5v2.3M428.35 174.5v-2.3M428.35 5.5v2.3M442.02 174.5v-2.3M442.02 5.5v2.3M455.7 174.5v-4.0M455.7 5.5v4.0M469.38 174.5v-2.3M469.38 5.5v2.3M483.05 174.5v-2.3M483.05 5.5v2.3M496.73 174.5v-2.3M496.73 5.5v2.3M510.4 174.5v-4.0M510.4 5.5v4.0M524.08 174.5v-2.3M524.08 5.5v2.3M537.75 174.5v-2.3M537.75 5.5v2.3M551.42 174.5v-2.3M551.42 5.5v2.3M565.1 174.5v-4.0M565.1 5.5v4.0M578.77 174.5v-2.3M578.77 5.5v2.3M592.45 174.5v-2.3M592.45 5.5v2.3M606.12 174.5v-2.3M606.12 5.5v2.3M619.8 174.5v-4.0M619.8 5.5v4.0M633.48 174.5v-2.3M633.48 5.5v2.3M647.15 174.5v-2.3M647.15 5.5v2.3M660.83 174.5v-2.3M660.83 5.5v2.3M674.5 174.5v-4.0M674.5 5.5v4.0M401 174.5h4.0M674.5 174.5h-4.0M401 167.46h2.3M674.5 167.46h-2.3M401 160.42h2.3M674.5 160.42h-2.3M401 153.38h2.3M674.5 153.38h-2.3M401 146.33h4.0M674.5 146.33h-4.0M401 139.29h2.3M674.5 139.29h-2.3M401 132.25h2.3M674.5 132.25h-2.3M401 125.21h2.3M674.5 125.21h-2.3M401 118.17h4.0M674.5 118.17h-4.0M401 111.12h2.3M674.5 111.12h-2.3M401 104.08h2.3M674.5 104.08h-2.3M401 97.04h2.3M674.5 97.04h-2.3M401 90h4.0M674.5 90h-4.0M401 82.96h2.3M674.5 82.96h-2.3M401 75.92h2.3M674.5 75.92h-2.3M401 68.88h2.3M674.5 68.88h-2.3M401 61.83h4.0M674.5 61.83h-4.0M401 54.79h2.3M674.5 54.79h-2.3M401 47.75h2.3M674.5 47.75h-2.3M401 40.71h2.3M674.5 40.71h-2.3M401 33.67h4.0M674.5 33.67h-4.0M401 26.62h2.3M674.5 26.62h-2.3M401 19.58h2.3M674.5 19.58h-2.3M401 12.54h2.3M674.5 12.54h-2.3M401 5.5h4.0M674.5 5.5h-4.0" stroke="#333" stroke-width="0.9" fill="none"/>
<rect x="401" y="5.5" width="273.5" height="169" stroke="#333" stroke-width="1" fill="none"/></g>
<path d="M602 138h17.7" stroke="#f00" stroke-width="1.5" stroke-dasharray="6.3 2.5 6 20"/>
<text x="623" y="140.7" class="l">T/T<tspan font-size="7.6" dy="2.6" dx="0.3">c</tspan><tspan dy="-2.6" dx="0.3">=0.3</tspan></text>
<path d="M602 150.2h17.7" stroke="#000" stroke-width="1.5" stroke-dasharray="6.1 1.9 1.9 2"/>
<text x="623" y="152.9" class="l">T/T<tspan font-size="7.6" dy="2.6" dx="0.3">c</tspan><tspan dy="-2.6" dx="0.3">=0.6</tspan></text>
<path d="M602 162.4h17.7" stroke="#00f" stroke-width="1.5" stroke-dasharray="none"/>
<text x="623" y="165.1" class="l">T/T<tspan font-size="7.6" dy="2.6" dx="0.3">c</tspan><tspan dy="-2.6" dx="0.3">=0.9</tspan></text>
<text x="441.72" y="227.8" class="cb" font-size="16">(</text>
<text transform="translate(447.79 227.8) scale(1.08 1)" class="cb" font-size="13.4">b</text>
<text x="456.58" y="227.8" class="cb" font-size="16">)</text>
<text transform="translate(467.04 227.8) scale(1.15 1)" class="ci" font-size="13.4">z</text>
<path d="M477.78 222.5H486.89M477.78 225.5H486.89" stroke="#000" stroke-width="0.85"/>
<text x="491.53" y="227.8" class="cr" font-size="13.4">1</text>
<text x="498.52" y="227.8" class="cr" font-size="13.4">,</text>
<text transform="translate(506.86 227.8) scale(1.2 1)" class="ci" font-size="13.4">m</text>
<text x="518.89" y="222.5" class="cr" font-size="8.8">2</text>
<path d="M529.36 222.5H538.47M529.36 225.5H538.47" stroke="#000" stroke-width="0.85"/>
<text x="543.11" y="227.8" class="cr" font-size="13.4">0</text>
<text x="550.11" y="227.8" class="cr" font-size="13.4">,</text>
<text transform="translate(557.99 227.8) scale(0.95 1)" class="ci" font-size="13.4">b</text>
<path d="M568.67 222.5H577.78M568.67 225.5H577.78" stroke="#000" stroke-width="0.85"/>
<text x="582.42" y="227.8" class="cr" font-size="13.4">0</text>
<text x="589.42" y="227.8" class="cr" font-size="13.4">.</text>
<text x="593.06" y="227.8" class="cr" font-size="13.4">0</text>
<text x="599.9" y="227.8" class="cr" font-size="13.4">4</text>
<text x="41.5" y="424.8" text-anchor="middle" class="t">0</text>
<text x="96.2" y="424.8" text-anchor="middle" class="t">20</text>
<text x="150.9" y="424.8" text-anchor="middle" class="t">40</text>
<text x="205.6" y="424.8" text-anchor="middle" class="t">60</text>
<text x="260.3" y="424.8" text-anchor="middle" class="t">80</text>
<text x="315" y="424.8" text-anchor="middle" class="t">100</text>
<text x="39.1" y="415" text-anchor="end" class="t">0.0</text>
<text x="39.1" y="384.27" text-anchor="end" class="t">0.2</text>
<text x="39.1" y="353.55" text-anchor="end" class="t">0.4</text>
<text x="39.1" y="322.82" text-anchor="end" class="t">0.6</text>
<text x="39.1" y="292.09" text-anchor="end" class="t">0.8</text>
<text x="39.1" y="261.36" text-anchor="end" class="t">1.0</text>
<text x="178.25" y="445.1" text-anchor="middle" class="t"><tspan font-style="italic" font-family="Liberation Serif" font-size="13.4">ω</tspan><tspan font-family="Liberation Serif" font-size="14.5" dy="1.6" dx="-0.3">/</tspan><tspan dy="-1.6" dx="-0.6">T</tspan></text>
<text transform="translate(11.8 325.8) rotate(-90)" text-anchor="middle" class="t">Re<tspan font-family="Liberation Serif" font-size="14">[</tspan><tspan font-style="italic" font-family="Liberation Serif" font-size="14.5">σ</tspan><tspan font-family="Liberation Serif" font-size="14">]</tspan></text>
<clipPath id="cpc"><rect x="40.7" y="240.7" width="275.1" height="170.6"/></clipPath>
<g clip-path="url(#cpc)" fill="none">
<path d="M41.30,410.47C41.63,410.46 42.64,410.45 43.30,410.45C43.97,410.44 44.64,410.43 45.31,410.43C45.97,410.42 46.64,410.41 47.31,410.40C47.98,410.39 48.64,410.38 49.31,410.37C49.98,410.36 50.65,410.35 51.32,410.33C51.98,410.32 52.65,410.30 53.32,410.28C53.98,410.26 54.65,410.24 55.32,410.21C55.99,410.18 56.65,410.15 57.32,410.10C57.98,410.04 58.65,409.99 59.31,409.88C59.97,409.78 60.63,409.64 61.29,409.48C61.95,409.32 62.61,409.07 63.26,408.91C63.92,408.75 64.57,408.67 65.23,408.54C65.88,408.41 66.54,408.28 67.19,408.14C67.85,408.00 68.50,407.87 69.15,407.73C69.80,407.58 70.46,407.44 71.10,407.29C71.75,407.13 72.40,406.98 73.04,406.80C73.68,406.62 74.32,406.43 74.95,406.23C75.58,406.02 76.21,405.79 76.82,405.55C77.44,405.31 78.06,405.05 78.67,404.78C79.27,404.51 79.88,404.22 80.47,403.93C81.07,403.63 81.66,403.32 82.24,403.00C82.83,402.68 83.40,402.35 83.97,402.00C84.54,401.65 85.10,401.30 85.65,400.93C86.21,400.56 86.75,400.17 87.29,399.78C87.82,399.39 88.35,398.98 88.87,398.56C89.38,398.14 89.89,397.71 90.39,397.26C90.89,396.82 91.37,396.37 91.85,395.91C92.33,395.44 92.80,394.97 93.26,394.49C93.72,394.01 94.17,393.52 94.61,393.02C95.06,392.52 95.49,392.01 95.92,391.50C96.35,390.99 96.77,390.47 97.19,389.95C97.60,389.43 98.02,388.91 98.43,388.38C98.84,387.85 99.24,387.32 99.65,386.79C100.05,386.26 100.45,385.72 100.85,385.19C101.24,384.65 101.63,384.11 102.02,383.56C102.41,383.02 102.79,382.48 103.17,381.93C103.55,381.38 103.93,380.83 104.30,380.27C104.68,379.72 105.05,379.17 105.42,378.61C105.79,378.05 106.15,377.49 106.52,376.93C106.88,376.37 107.24,375.81 107.59,375.24C107.95,374.68 108.30,374.11 108.65,373.55C109.01,372.98 109.36,372.41 109.70,371.84C110.05,371.27 110.39,370.69 110.73,370.12C111.07,369.55 111.41,368.97 111.74,368.39C112.08,367.81 112.41,367.23 112.74,366.65C113.07,366.07 113.40,365.49 113.73,364.91C114.06,364.33 114.38,363.75 114.71,363.17C115.04,362.58 115.37,362.00 115.70,361.42C116.02,360.84 116.35,360.26 116.68,359.68C117.01,359.09 117.34,358.51 117.67,357.93C118.00,357.35 118.33,356.77 118.67,356.20C119.01,355.62 119.35,355.05 119.69,354.47C120.03,353.90 120.38,353.33 120.73,352.76C121.08,352.20 121.44,351.63 121.79,351.06C122.15,350.50 122.51,349.94 122.87,349.37C123.22,348.81 123.58,348.25 123.94,347.68C124.30,347.12 124.66,346.56 125.02,346.00C125.39,345.43 125.75,344.87 126.11,344.31C126.47,343.75 126.83,343.19 127.20,342.63C127.56,342.07 127.92,341.51 128.28,340.95C128.65,340.38 129.01,339.82 129.37,339.26C129.74,338.70 130.10,338.15 130.47,337.59C130.83,337.03 131.20,336.47 131.57,335.91C131.94,335.36 132.31,334.80 132.67,334.24C133.04,333.69 133.41,333.13 133.79,332.57C134.16,332.02 134.53,331.46 134.90,330.91C135.27,330.36 135.64,329.80 136.02,329.25C136.39,328.70 136.77,328.14 137.15,327.59C137.52,327.04 137.90,326.49 138.28,325.94C138.66,325.39 139.04,324.84 139.42,324.30C139.80,323.75 140.19,323.20 140.57,322.65C140.95,322.10 141.33,321.55 141.70,321.00C142.08,320.45 142.46,319.90 142.83,319.34C143.20,318.79 143.57,318.23 143.94,317.67C144.30,317.12 144.66,316.55 145.02,315.99C145.39,315.43 145.74,314.87 146.11,314.31C146.48,313.75 146.84,313.20 147.22,312.65C147.60,312.10 147.99,311.55 148.38,311.02C148.77,310.48 149.17,309.95 149.58,309.42C149.99,308.89 150.40,308.36 150.81,307.84C151.23,307.31 151.64,306.79 152.06,306.27C152.48,305.75 152.90,305.24 153.33,304.73C153.76,304.21 154.19,303.71 154.63,303.20C155.07,302.70 155.51,302.20 155.96,301.70C156.41,301.21 156.86,300.71 157.31,300.22C157.76,299.73 158.22,299.25 158.68,298.77C159.14,298.28 159.61,297.81 160.08,297.34C160.56,296.88 161.04,296.42 161.54,295.97C162.03,295.53 162.54,295.10 163.05,294.67C163.56,294.24 164.08,293.82 164.60,293.41C165.13,292.99 165.65,292.58 166.18,292.18C166.71,291.77 167.24,291.37 167.78,290.97C168.32,290.57 168.86,290.18 169.40,289.80C169.95,289.42 170.50,289.04 171.06,288.67C171.61,288.30 172.17,287.94 172.73,287.57C173.29,287.21 173.86,286.85 174.42,286.50C174.99,286.14 175.55,285.79 176.12,285.45C176.70,285.10 177.27,284.76 177.85,284.43C178.43,284.10 179.01,283.78 179.60,283.47C180.19,283.16 180.79,282.86 181.38,282.56C181.98,282.26 182.58,281.97 183.18,281.68C183.78,281.39 184.38,281.10 184.99,280.81C185.59,280.52 186.19,280.23 186.79,279.94C187.39,279.65 187.99,279.36 188.59,279.07C189.19,278.77 189.79,278.48 190.39,278.18C190.99,277.88 191.59,277.58 192.18,277.29C192.78,276.99 193.38,276.68 193.97,276.38C194.57,276.08 195.16,275.78 195.76,275.48C196.36,275.18 196.95,274.88 197.55,274.59C198.15,274.29 198.75,273.99 199.35,273.71C199.96,273.43 200.56,273.15 201.17,272.89C201.79,272.63 202.40,272.38 203.03,272.15C203.65,271.92 204.28,271.70 204.91,271.50C205.55,271.29 206.18,271.09 206.82,270.90C207.46,270.70 208.10,270.52 208.74,270.33C209.39,270.15 210.03,269.97 210.67,269.80C211.32,269.63 211.97,269.46 212.61,269.29C213.26,269.12 213.91,268.96 214.55,268.80C215.20,268.63 215.85,268.47 216.50,268.32C217.15,268.16 217.80,268.00 218.45,267.85C219.10,267.70 219.75,267.54 220.40,267.40C221.05,267.25 221.70,267.10 222.35,266.96C223.00,266.81 223.66,266.67 224.31,266.53C224.96,266.39 225.62,266.25 226.27,266.12C226.92,265.98 227.58,265.85 228.23,265.72C228.89,265.59 229.55,265.47 230.20,265.35C230.86,265.23 231.52,265.11 232.17,264.99C232.83,264.87 233.49,264.76 234.15,264.65C234.81,264.54 235.46,264.44 236.12,264.34C236.79,264.24 237.45,264.15 238.11,264.06C238.77,263.97 239.43,263.88 240.09,263.80C240.76,263.72 241.42,263.64 242.08,263.56C242.75,263.48 243.41,263.40 244.07,263.32C244.74,263.24 245.40,263.16 246.06,263.09C246.73,263.01 247.39,262.94 248.05,262.86C248.72,262.78 249.38,262.71 250.04,262.63C250.71,262.56 251.37,262.49 252.03,262.41C252.70,262.34 253.36,262.27 254.03,262.20C254.69,262.13 255.35,262.06 256.02,261.99C256.68,261.92 257.35,261.86 258.01,261.79C258.68,261.73 259.34,261.67 260.01,261.61C260.67,261.54 261.34,261.48 262.00,261.42C262.67,261.37 263.33,261.31 264.00,261.25C264.66,261.20 265.33,261.15 266.00,261.10C266.66,261.05 267.33,261.00 267.99,260.95C268.66,260.90 269.33,260.85 269.99,260.81C270.66,260.76 271.32,260.71 271.99,260.67C272.66,260.62 273.32,260.57 273.99,260.53C274.66,260.48 275.32,260.43 275.99,260.39C276.65,260.34 277.32,260.29 277.99,260.25C278.65,260.20 279.32,260.16 279.99,260.11C280.65,260.07 281.32,260.03 281.99,259.99C282.65,259.95 283.32,259.91 283.99,259.87C284.65,259.84 285.32,259.80 285.99,259.77C286.65,259.73 287.32,259.70 287.99,259.66C288.65,259.63 289.32,259.60 289.99,259.56C290.66,259.53 291.32,259.50 291.99,259.46C292.66,259.43 293.32,259.40 293.99,259.36C294.66,259.33 295.32,259.30 295.99,259.26C296.66,259.23 297.33,259.20 297.99,259.17C298.66,259.14 299.33,259.11 299.99,259.08C300.66,259.06 301.33,259.03 302.00,259.01C302.66,258.98 303.33,258.96 304.00,258.94C304.67,258.91 305.33,258.89 306.00,258.87C306.67,258.85 307.34,258.83 308.00,258.80C308.67,258.78 309.34,258.75 310.00,258.72C310.67,258.69 311.34,258.65 312.00,258.61C312.67,258.57 313.50,258.51 314.00,258.48C314.50,258.44 314.83,258.41 315.00,258.40" stroke="#f00" stroke-width="1.5" stroke-dasharray="5.8 2.7"/>
<path d="M41.30,397.90C41.60,397.76 42.52,397.36 43.12,397.08C43.72,396.80 44.32,396.51 44.90,396.20C45.48,395.88 46.06,395.55 46.61,395.20C47.17,394.84 47.71,394.46 48.24,394.07C48.77,393.67 49.29,393.25 49.79,392.82C50.29,392.38 50.77,391.93 51.24,391.46C51.70,390.99 52.15,390.50 52.59,390.00C53.03,389.51 53.46,388.99 53.88,388.48C54.30,387.96 54.70,387.43 55.10,386.90C55.50,386.37 55.89,385.82 56.26,385.28C56.64,384.73 57.00,384.17 57.36,383.60C57.71,383.04 58.05,382.47 58.40,381.90C58.74,381.32 59.07,380.74 59.40,380.17C59.73,379.59 60.06,379.01 60.38,378.42C60.70,377.84 61.02,377.25 61.32,376.66C61.63,376.06 61.92,375.47 62.21,374.87C62.51,374.27 62.79,373.66 63.06,373.05C63.34,372.45 63.61,371.84 63.89,371.23C64.16,370.62 64.43,370.01 64.70,369.40C64.96,368.79 65.23,368.17 65.50,367.56C65.76,366.95 66.03,366.34 66.29,365.72C66.55,365.11 66.81,364.49 67.06,363.88C67.31,363.26 67.56,362.64 67.81,362.02C68.06,361.40 68.31,360.78 68.55,360.16C68.79,359.54 69.04,358.91 69.28,358.29C69.52,357.67 69.76,357.05 70.00,356.43C70.24,355.80 70.48,355.18 70.72,354.56C70.96,353.93 71.19,353.31 71.43,352.68C71.66,352.06 71.89,351.43 72.11,350.80C72.34,350.17 72.57,349.54 72.79,348.92C73.01,348.29 73.23,347.66 73.46,347.03C73.68,346.40 73.90,345.77 74.12,345.14C74.34,344.51 74.56,343.88 74.78,343.25C75.00,342.62 75.21,341.98 75.43,341.35C75.64,340.72 75.85,340.09 76.06,339.45C76.26,338.82 76.47,338.18 76.67,337.54C76.87,336.91 77.06,336.27 77.26,335.63C77.45,334.99 77.64,334.35 77.84,333.71C78.03,333.07 78.22,332.43 78.41,331.80C78.61,331.16 78.80,330.52 79.00,329.88C79.20,329.24 79.40,328.61 79.61,327.97C79.82,327.34 80.03,326.71 80.25,326.08C80.47,325.45 80.70,324.82 80.93,324.20C81.17,323.57 81.41,322.95 81.64,322.33C81.88,321.70 82.13,321.08 82.37,320.46C82.61,319.84 82.85,319.22 83.09,318.59C83.34,317.97 83.58,317.35 83.81,316.72C84.05,316.10 84.29,315.48 84.53,314.85C84.76,314.23 85.00,313.60 85.23,312.98C85.47,312.35 85.70,311.73 85.93,311.10C86.17,310.48 86.40,309.85 86.65,309.23C86.89,308.61 87.13,307.99 87.38,307.37C87.64,306.75 87.90,306.14 88.16,305.53C88.43,304.92 88.71,304.32 89.00,303.71C89.28,303.11 89.58,302.51 89.87,301.91C90.17,301.32 90.47,300.72 90.77,300.12C91.07,299.53 91.38,298.93 91.68,298.34C91.99,297.75 92.30,297.16 92.62,296.57C92.93,295.98 93.25,295.40 93.58,294.82C93.91,294.24 94.25,293.66 94.59,293.09C94.93,292.51 95.27,291.94 95.62,291.37C95.97,290.80 96.32,290.24 96.68,289.68C97.04,289.12 97.41,288.56 97.79,288.01C98.17,287.47 98.56,286.93 98.96,286.40C99.37,285.87 99.78,285.35 100.21,284.84C100.63,284.33 101.07,283.83 101.51,283.33C101.96,282.83 102.41,282.34 102.87,281.86C103.33,281.38 103.80,280.90 104.27,280.43C104.74,279.97 105.23,279.51 105.71,279.05C106.20,278.60 106.70,278.15 107.19,277.70C107.69,277.26 108.19,276.82 108.70,276.39C109.21,275.96 109.72,275.53 110.25,275.12C110.77,274.70 111.29,274.29 111.83,273.89C112.36,273.49 112.90,273.10 113.44,272.72C113.99,272.33 114.54,271.96 115.09,271.59C115.65,271.23 116.21,270.87 116.78,270.53C117.35,270.19 117.93,269.86 118.52,269.54C119.10,269.22 119.69,268.91 120.29,268.61C120.88,268.31 121.48,268.01 122.08,267.72C122.68,267.44 123.29,267.15 123.90,266.88C124.50,266.60 125.11,266.34 125.73,266.08C126.34,265.82 126.96,265.57 127.58,265.32C128.20,265.07 128.82,264.83 129.44,264.59C130.07,264.35 130.69,264.12 131.32,263.90C131.95,263.67 132.58,263.45 133.21,263.25C133.84,263.05 134.48,262.87 135.12,262.69C135.77,262.52 136.41,262.37 137.06,262.23C137.71,262.08 138.37,261.96 139.02,261.83C139.68,261.70 140.33,261.58 140.99,261.47C141.65,261.35 142.30,261.23 142.96,261.11C143.62,261.00 144.28,260.88 144.93,260.77C145.59,260.65 146.25,260.54 146.91,260.44C147.57,260.33 148.23,260.23 148.89,260.13C149.55,260.04 150.21,259.95 150.87,259.87C151.53,259.79 152.20,259.71 152.86,259.64C153.52,259.56 154.19,259.49 154.85,259.42C155.51,259.35 156.18,259.28 156.84,259.22C157.51,259.15 158.17,259.08 158.84,259.01C159.50,258.95 160.16,258.88 160.83,258.82C161.49,258.76 162.16,258.70 162.82,258.65C163.49,258.59 164.15,258.55 164.82,258.50C165.49,258.46 166.15,258.43 166.82,258.39C167.48,258.36 168.15,258.33 168.82,258.30C169.49,258.27 170.15,258.24 170.82,258.21C171.49,258.18 172.15,258.16 172.82,258.13C173.49,258.10 174.15,258.07 174.82,258.05C175.49,258.02 176.16,257.99 176.82,257.96C177.49,257.94 178.16,257.91 178.82,257.88C179.49,257.86 180.16,257.83 180.82,257.80C181.49,257.78 182.16,257.75 182.83,257.72C183.49,257.70 184.16,257.68 184.83,257.65C185.49,257.63 186.16,257.61 186.83,257.60C187.50,257.58 188.16,257.56 188.83,257.55C189.50,257.54 190.17,257.52 190.83,257.51C191.50,257.50 192.17,257.49 192.84,257.48C193.50,257.46 194.17,257.45 194.84,257.44C195.51,257.43 196.17,257.42 196.84,257.41C197.51,257.39 198.18,257.38 198.84,257.37C199.51,257.36 200.18,257.35 200.85,257.34C201.51,257.32 202.18,257.31 202.85,257.30C203.52,257.29 204.18,257.28 204.85,257.26C205.52,257.25 206.19,257.24 206.85,257.23C207.52,257.22 208.19,257.21 208.86,257.19C209.52,257.18 210.19,257.17 210.86,257.16C211.53,257.15 212.19,257.14 212.86,257.12C213.53,257.11 214.20,257.10 214.86,257.09C215.53,257.08 216.20,257.07 216.87,257.06C217.53,257.05 218.20,257.04 218.87,257.03C219.54,257.02 220.20,257.01 220.87,257.01C221.54,257.00 222.21,257.00 222.87,256.99C223.54,256.99 224.21,256.99 224.88,256.99C225.54,256.98 226.21,256.98 226.88,256.98C227.55,256.98 228.21,256.97 228.88,256.97C229.55,256.97 230.22,256.97 230.88,256.97C231.55,256.96 232.22,256.96 232.89,256.96C233.55,256.96 234.22,256.96 234.89,256.95C235.56,256.95 236.23,256.95 236.89,256.95C237.56,256.94 238.23,256.94 238.90,256.94C239.56,256.94 240.23,256.94 240.90,256.93C241.57,256.93 242.23,256.93 242.90,256.93C243.57,256.93 244.24,256.92 244.90,256.92C245.57,256.92 246.24,256.92 246.91,256.92C247.57,256.91 248.24,256.91 248.91,256.91C249.58,256.91 250.24,256.90 250.91,256.90C251.58,256.90 252.25,256.90 252.91,256.90C253.58,256.89 254.25,256.89 254.92,256.89C255.59,256.89 256.25,256.89 256.92,256.88C257.59,256.88 258.26,256.88 258.92,256.88C259.59,256.87 260.26,256.87 260.93,256.87C261.59,256.87 262.26,256.87 262.93,256.86C263.60,256.86 264.26,256.86 264.93,256.86C265.60,256.86 266.27,256.85 266.93,256.85C267.60,256.85 268.27,256.85 268.94,256.85C269.60,256.84 270.27,256.84 270.94,256.84C271.61,256.84 272.27,256.83 272.94,256.83C273.61,256.83 274.28,256.83 274.94,256.83C275.61,256.82 276.28,256.82 276.95,256.82C277.62,256.82 278.28,256.82 278.95,256.81C279.62,256.81 280.29,256.81 280.95,256.81C281.62,256.81 282.29,256.80 282.96,256.80C283.62,256.80 284.29,256.80 284.96,256.79C285.63,256.79 286.29,256.79 286.96,256.79C287.63,256.79 288.30,256.78 288.96,256.78C289.63,256.78 290.30,256.78 290.97,256.78C291.63,256.77 292.30,256.77 292.97,256.77C293.64,256.77 294.30,256.77 294.97,256.76C295.64,256.76 296.31,256.76 296.98,256.76C297.64,256.75 298.31,256.75 298.98,256.75C299.65,256.75 300.31,256.75 300.98,256.74C301.65,256.74 302.32,256.74 302.98,256.74C303.65,256.74 304.32,256.73 304.99,256.73C305.65,256.73 306.32,256.73 306.99,256.73C307.66,256.72 308.32,256.72 308.99,256.72C309.66,256.72 310.33,256.71 310.99,256.71C311.66,256.71 312.33,256.71 313.00,256.71C313.66,256.70 314.67,256.70 315.00,256.70" stroke="#000" stroke-width="1.7" stroke-dasharray="5.8 2.1 1.9 2.2"/>
<path d="M40.90,319.60C41.17,319.40 41.99,318.83 42.51,318.42C43.03,318.01 43.55,317.61 44.02,317.15C44.49,316.70 44.93,316.20 45.34,315.69C45.76,315.18 46.13,314.63 46.51,314.08C46.88,313.54 47.25,312.97 47.60,312.41C47.95,311.85 48.30,311.27 48.63,310.70C48.96,310.12 49.27,309.53 49.58,308.94C49.89,308.35 50.19,307.75 50.49,307.16C50.80,306.57 51.10,305.97 51.40,305.37C51.70,304.78 52.00,304.18 52.30,303.59C52.60,302.99 52.89,302.39 53.19,301.80C53.49,301.20 53.78,300.60 54.08,300.00C54.37,299.40 54.67,298.81 54.96,298.21C55.26,297.61 55.55,297.01 55.85,296.41C56.15,295.82 56.44,295.22 56.74,294.62C57.03,294.02 57.33,293.42 57.62,292.82C57.92,292.23 58.21,291.63 58.51,291.03C58.81,290.43 59.10,289.84 59.41,289.24C59.71,288.65 60.02,288.06 60.34,287.47C60.66,286.89 60.99,286.31 61.33,285.73C61.66,285.16 62.01,284.59 62.35,284.02C62.70,283.45 63.05,282.88 63.40,282.31C63.76,281.75 64.12,281.19 64.49,280.63C64.86,280.08 65.24,279.53 65.62,278.99C66.01,278.44 66.40,277.90 66.79,277.36C67.18,276.82 67.57,276.28 67.97,275.75C68.38,275.22 68.78,274.70 69.22,274.20C69.65,273.70 70.11,273.22 70.58,272.75C71.05,272.28 71.55,271.84 72.05,271.40C72.55,270.96 73.06,270.53 73.57,270.10C74.08,269.68 74.60,269.26 75.13,268.85C75.66,268.45 76.20,268.05 76.74,267.66C77.28,267.28 77.83,266.89 78.38,266.52C78.93,266.14 79.48,265.76 80.04,265.42C80.61,265.07 81.18,264.74 81.77,264.45C82.37,264.15 82.98,263.90 83.59,263.65C84.21,263.40 84.84,263.18 85.46,262.95C86.09,262.72 86.72,262.49 87.35,262.27C87.98,262.05 88.60,261.83 89.24,261.63C89.87,261.43 90.51,261.24 91.15,261.06C91.80,260.89 92.45,260.74 93.10,260.59C93.75,260.44 94.40,260.31 95.05,260.17C95.70,260.03 96.36,259.89 97.01,259.76C97.66,259.62 98.32,259.49 98.97,259.36C99.63,259.24 100.28,259.12 100.94,259.03C101.60,258.93 102.26,258.86 102.92,258.79C103.59,258.72 104.25,258.67 104.91,258.61C105.58,258.56 106.24,258.51 106.91,258.46C107.58,258.41 108.24,258.35 108.91,258.30C109.57,258.25 110.24,258.20 110.90,258.15C111.57,258.10 112.23,258.05 112.90,258.01C113.56,257.96 114.23,257.92 114.89,257.88C115.56,257.84 116.23,257.80 116.89,257.77C117.56,257.73 118.22,257.70 118.89,257.66C119.56,257.63 120.22,257.59 120.89,257.56C121.56,257.53 122.22,257.49 122.89,257.46C123.55,257.43 124.22,257.39 124.89,257.36C125.55,257.33 126.22,257.30 126.89,257.27C127.55,257.25 128.22,257.23 128.89,257.21C129.55,257.19 130.22,257.18 130.89,257.18C131.55,257.17 132.22,257.16 132.89,257.15C133.55,257.15 134.22,257.14 134.89,257.13C135.56,257.13 136.22,257.12 136.89,257.12C137.56,257.11 138.22,257.10 138.89,257.10C139.56,257.09 140.22,257.08 140.89,257.08C141.56,257.07 142.23,257.06 142.89,257.06C143.56,257.05 144.23,257.05 144.89,257.04C145.56,257.03 146.23,257.03 146.90,257.02C147.56,257.01 148.23,257.01 148.90,257.00C149.56,256.99 150.23,256.99 150.90,256.98C151.56,256.98 152.23,256.97 152.90,256.96C153.57,256.96 154.23,256.95 154.90,256.94C155.57,256.94 156.23,256.93 156.90,256.92C157.57,256.92 158.24,256.91 158.90,256.91C159.57,256.90 160.24,256.89 160.90,256.89C161.57,256.88 162.24,256.87 162.90,256.87C163.57,256.86 164.24,256.85 164.91,256.85C165.57,256.84 166.24,256.84 166.91,256.83C167.57,256.82 168.24,256.82 168.91,256.81C169.58,256.81 170.24,256.81 170.91,256.80C171.58,256.80 172.24,256.80 172.91,256.80C173.58,256.80 174.24,256.80 174.91,256.80C175.58,256.80 176.25,256.80 176.91,256.80C177.58,256.79 178.25,256.79 178.91,256.79C179.58,256.79 180.25,256.79 180.92,256.79C181.58,256.79 182.25,256.79 182.92,256.79C183.58,256.79 184.25,256.79 184.92,256.79C185.59,256.79 186.25,256.79 186.92,256.79C187.59,256.79 188.25,256.79 188.92,256.79C189.59,256.79 190.25,256.79 190.92,256.79C191.59,256.79 192.26,256.78 192.92,256.78C193.59,256.78 194.26,256.78 194.92,256.78C195.59,256.78 196.26,256.78 196.93,256.78C197.59,256.78 198.26,256.78 198.93,256.78C199.59,256.78 200.26,256.78 200.93,256.78C201.60,256.78 202.26,256.78 202.93,256.78C203.60,256.78 204.26,256.78 204.93,256.78C205.60,256.78 206.26,256.77 206.93,256.77C207.60,256.77 208.27,256.77 208.93,256.77C209.60,256.77 210.27,256.77 210.93,256.77C211.60,256.77 212.27,256.77 212.94,256.77C213.60,256.77 214.27,256.77 214.94,256.77C215.60,256.77 216.27,256.77 216.94,256.77C217.61,256.77 218.27,256.77 218.94,256.77C219.61,256.77 220.27,256.77 220.94,256.76C221.61,256.76 222.28,256.76 222.94,256.76C223.61,256.76 224.28,256.76 224.94,256.76C225.61,256.76 226.28,256.76 226.94,256.76C227.61,256.76 228.28,256.76 228.95,256.76C229.61,256.76 230.28,256.76 230.95,256.76C231.61,256.76 232.28,256.76 232.95,256.76C233.62,256.76 234.28,256.76 234.95,256.76C235.62,256.75 236.28,256.75 236.95,256.75C237.62,256.75 238.29,256.75 238.95,256.75C239.62,256.75 240.29,256.75 240.95,256.75C241.62,256.75 242.29,256.75 242.95,256.75C243.62,256.75 244.29,256.75 244.96,256.75C245.62,256.75 246.29,256.75 246.96,256.75C247.62,256.75 248.29,256.75 248.96,256.75C249.63,256.75 250.29,256.74 250.96,256.74C251.63,256.74 252.29,256.74 252.96,256.74C253.63,256.74 254.30,256.74 254.96,256.74C255.63,256.74 256.30,256.74 256.96,256.74C257.63,256.74 258.30,256.74 258.96,256.74C259.63,256.74 260.30,256.74 260.97,256.74C261.63,256.74 262.30,256.74 262.97,256.74C263.63,256.74 264.30,256.73 264.97,256.73C265.64,256.73 266.30,256.73 266.97,256.73C267.64,256.73 268.30,256.73 268.97,256.73C269.64,256.73 270.31,256.73 270.97,256.73C271.64,256.73 272.31,256.73 272.97,256.73C273.64,256.73 274.31,256.73 274.97,256.73C275.64,256.73 276.31,256.73 276.98,256.73C277.64,256.73 278.31,256.73 278.98,256.72C279.64,256.72 280.31,256.72 280.98,256.72C281.65,256.72 282.31,256.72 282.98,256.72C283.65,256.72 284.31,256.72 284.98,256.72C285.65,256.72 286.32,256.72 286.98,256.72C287.65,256.72 288.32,256.72 288.98,256.72C289.65,256.72 290.32,256.72 290.98,256.72C291.65,256.72 292.32,256.72 292.99,256.72C293.65,256.71 294.32,256.71 294.99,256.71C295.65,256.71 296.32,256.71 296.99,256.71C297.66,256.71 298.32,256.71 298.99,256.71C299.66,256.71 300.32,256.71 300.99,256.71C301.66,256.71 302.33,256.71 302.99,256.71C303.66,256.71 304.33,256.71 304.99,256.71C305.66,256.71 306.33,256.71 306.99,256.71C307.66,256.71 308.33,256.70 309.00,256.70C309.66,256.70 310.33,256.70 311.00,256.70C311.66,256.70 312.33,256.70 313.00,256.70C313.67,256.70 314.67,256.70 315.00,256.70" stroke="#00f" stroke-width="1.4" stroke-dasharray="none"/>
</g>
<g style="mix-blend-mode:multiply"><path d="M41.5 410.5v-4.0M41.5 241.5v4.0M55.17 410.5v-2.3M55.17 241.5v2.3M68.85 410.5v-2.3M68.85 241.5v2.3M82.53 410.5v-2.3M82.53 241.5v2.3M96.2 410.5v-4.0M96.2 241.5v4.0M109.88 410.5v-2.3M109.88 241.5v2.3M123.55 410.5v-2.3M123.55 241.5v2.3M137.22 410.5v-2.3M137.22 241.5v2.3M150.9 410.5v-4.0M150.9 241.5v4.0M164.57 410.5v-2.3M164.57 241.5v2.3M178.25 410.5v-2.3M178.25 241.5v2.3M191.93 410.5v-2.3M191.93 241.5v2.3M205.6 410.5v-4.0M205.6 241.5v4.0M219.28 410.5v-2.3M219.28 241.5v2.3M232.95 410.5v-2.3M232.95 241.5v2.3M246.62 410.5v-2.3M246.62 241.5v2.3M260.3 410.5v-4.0M260.3 241.5v4.0M273.98 410.5v-2.3M273.98 241.5v2.3M287.65 410.5v-2.3M287.65 241.5v2.3M301.32 410.5v-2.3M301.32 241.5v2.3M315 410.5v-4.0M315 241.5v4.0M41.5 410.5h4.0M315 410.5h-4.0M41.5 402.82h2.3M315 402.82h-2.3M41.5 395.14h2.3M315 395.14h-2.3M41.5 387.45h2.3M315 387.45h-2.3M41.5 379.77h4.0M315 379.77h-4.0M41.5 372.09h2.3M315 372.09h-2.3M41.5 364.41h2.3M315 364.41h-2.3M41.5 356.73h2.3M315 356.73h-2.3M41.5 349.05h4.0M315 349.05h-4.0M41.5 341.36h2.3M315 341.36h-2.3M41.5 333.68h2.3M315 333.68h-2.3M41.5 326h2.3M315 326h-2.3M41.5 318.32h4.0M315 318.32h-4.0M41.5 310.64h2.3M315 310.64h-2.3M41.5 302.95h2.3M315 302.95h-2.3M41.5 295.27h2.3M315 295.27h-2.3M41.5 287.59h4.0M315 287.59h-4.0M41.5 279.91h2.3M315 279.91h-2.3M41.5 272.23h2.3M315 272.23h-2.3M41.5 264.55h2.3M315 264.55h-2.3M41.5 256.86h4.0M315 256.86h-4.0M41.5 249.18h2.3M315 249.18h-2.3M41.5 241.5h2.3M315 241.5h-2.3" stroke="#333" stroke-width="0.9" fill="none"/>
<rect x="41.5" y="241.5" width="273.5" height="169" stroke="#333" stroke-width="1" fill="none"/></g>
<path d="M242 373.2h17.7" stroke="#f00" stroke-width="1.5" stroke-dasharray="6.3 2.5 6 20"/>
<text x="263" y="375.9" class="l">T/T<tspan font-size="7.6" dy="2.6" dx="0.3">c</tspan><tspan dy="-2.6" dx="0.3">=0.3</tspan></text>
<path d="M242 385.4h17.7" stroke="#000" stroke-width="1.5" stroke-dasharray="6.1 1.9 1.9 2"/>
<text x="263" y="388.1" class="l">T/T<tspan font-size="7.6" dy="2.6" dx="0.3">c</tspan><tspan dy="-2.6" dx="0.3">=0.6</tspan></text>
<path d="M242 397.6h17.7" stroke="#00f" stroke-width="1.5" stroke-dasharray="none"/>
<text x="263" y="400.3" class="l">T/T<tspan font-size="7.6" dy="2.6" dx="0.3">c</tspan><tspan dy="-2.6" dx="0.3">=0.9</tspan></text>
<text x="91.34" y="464.3" class="cb" font-size="16">(</text>
<text transform="translate(97.34 464.3) scale(1.08 1)" class="cb" font-size="13.4">c</text>
<text x="104.44" y="464.3" class="cb" font-size="16">)</text>
<text transform="translate(114.9 464.3) scale(1.15 1)" class="ci" font-size="13.4">z</text>
<path d="M125.65 459.5H134.76M125.65 462.5H134.76" stroke="#000" stroke-width="0.85"/>
<text x="139.39" y="464.3" class="cr" font-size="13.4">2</text>
<text x="146.39" y="464.3" class="cr" font-size="13.4">,</text>
<text transform="translate(154.72 464.3) scale(1.2 1)" class="ci" font-size="13.4">m</text>
<text x="166.76" y="459" class="cr" font-size="8.8">2</text>
<path d="M177.23 459.5H186.34M177.23 462.5H186.34" stroke="#000" stroke-width="0.85"/>
<text x="190.98" y="464.3" class="cr" font-size="13.4">0</text>
<text x="197.97" y="464.3" class="cr" font-size="13.4">,</text>
<text transform="translate(205.86 464.3) scale(0.95 1)" class="ci" font-size="13.4">b</text>
<path d="M216.54 459.5H225.65M216.54 462.5H225.65" stroke="#000" stroke-width="0.85"/>
<text x="230.29" y="464.3" class="cr" font-size="13.4">0</text>
<text x="401" y="424.8" text-anchor="middle" class="t">0</text>
<text x="455.7" y="424.8" text-anchor="middle" class="t">20</text>
<text x="510.4" y="424.8" text-anchor="middle" class="t">40</text>
<text x="565.1" y="424.8" text-anchor="middle" class="t">60</text>
<text x="619.8" y="424.8" text-anchor="middle" class="t">80</text>
<text x="674.5" y="424.8" text-anchor="middle" class="t">100</text>
<text x="398.6" y="415" text-anchor="end" class="t">0.0</text>
<text x="398.6" y="384.27" text-anchor="end" class="t">0.2</text>
<text x="398.6" y="353.55" text-anchor="end" class="t">0.4</text>
<text x="398.6" y="322.82" text-anchor="end" class="t">0.6</text>
<text x="398.6" y="292.09" text-anchor="end" class="t">0.8</text>
<text x="398.6" y="261.36" text-anchor="end" class="t">1.0</text>
<text x="537.75" y="445.1" text-anchor="middle" class="t"><tspan font-style="italic" font-family="Liberation Serif" font-size="13.4">ω</tspan><tspan font-family="Liberation Serif" font-size="14.5" dy="1.6" dx="-0.3">/</tspan><tspan dy="-1.6" dx="-0.6">T</tspan></text>
<text transform="translate(371.3 325.8) rotate(-90)" text-anchor="middle" class="t">Re<tspan font-family="Liberation Serif" font-size="14">[</tspan><tspan font-style="italic" font-family="Liberation Serif" font-size="14.5">σ</tspan><tspan font-family="Liberation Serif" font-size="14">]</tspan></text>
<clipPath id="cpd"><rect x="400.2" y="240.7" width="275.1" height="170.6"/></clipPath>
<g clip-path="url(#cpd)" fill="none">
<path d="M400.60,410.50C400.93,410.50 401.94,410.50 402.60,410.50C403.27,410.50 403.94,410.50 404.61,410.50C405.28,410.50 405.94,410.50 406.61,410.50C407.28,410.50 407.95,410.50 408.61,410.50C409.28,410.50 409.95,410.50 410.62,410.50C411.29,410.50 411.95,410.50 412.62,410.50C413.29,410.50 413.96,410.50 414.62,410.50C415.29,410.50 415.96,410.50 416.63,410.50C417.30,410.50 417.96,410.50 418.63,410.50C419.30,410.50 419.96,410.50 420.63,410.50C421.30,410.50 421.97,410.49 422.63,410.48C423.30,410.47 423.97,410.45 424.63,410.43C425.30,410.41 425.97,410.39 426.63,410.36C427.30,410.33 427.97,410.30 428.63,410.25C429.30,410.20 429.96,410.14 430.62,410.05C431.29,409.96 431.95,409.86 432.61,409.70C433.27,409.54 433.93,409.27 434.58,409.09C435.24,408.91 435.89,408.79 436.54,408.63C437.18,408.47 437.83,408.31 438.47,408.13C439.11,407.95 439.75,407.75 440.37,407.53C441.00,407.32 441.63,407.09 442.24,406.84C442.86,406.59 443.47,406.33 444.08,406.05C444.68,405.77 445.28,405.47 445.87,405.16C446.46,404.86 447.04,404.53 447.61,404.20C448.19,403.86 448.75,403.51 449.31,403.14C449.86,402.77 450.41,402.39 450.94,401.99C451.47,401.60 452.00,401.19 452.51,400.76C453.02,400.34 453.53,399.90 454.02,399.46C454.51,399.01 454.98,398.54 455.45,398.07C455.91,397.59 456.37,397.11 456.81,396.61C457.25,396.11 457.68,395.60 458.11,395.09C458.53,394.58 458.95,394.05 459.36,393.53C459.77,393.00 460.17,392.47 460.57,391.93C460.97,391.40 461.36,390.86 461.75,390.32C462.14,389.77 462.52,389.23 462.90,388.68C463.28,388.13 463.65,387.57 464.02,387.02C464.39,386.46 464.75,385.90 465.11,385.34C465.47,384.77 465.82,384.21 466.18,383.64C466.53,383.07 466.88,382.51 467.22,381.93C467.57,381.36 467.91,380.79 468.25,380.21C468.58,379.64 468.92,379.06 469.25,378.48C469.58,377.90 469.90,377.31 470.23,376.73C470.56,376.15 470.88,375.56 471.21,374.98C471.53,374.40 471.85,373.81 472.18,373.23C472.50,372.65 472.83,372.06 473.15,371.48C473.48,370.89 473.80,370.31 474.13,369.73C474.45,369.14 474.77,368.56 475.10,367.98C475.42,367.39 475.75,366.81 476.07,366.22C476.40,365.64 476.72,365.06 477.04,364.47C477.37,363.89 477.69,363.30 478.02,362.72C478.34,362.14 478.67,361.55 479.00,360.97C479.32,360.39 479.65,359.81 479.98,359.23C480.31,358.65 480.64,358.07 480.98,357.49C481.32,356.91 481.65,356.34 482.00,355.77C482.34,355.19 482.69,354.62 483.04,354.06C483.39,353.49 483.75,352.93 484.12,352.37C484.48,351.81 484.86,351.26 485.24,350.71C485.62,350.16 486.01,349.62 486.40,349.08C486.79,348.55 487.20,348.01 487.60,347.48C488.00,346.94 488.41,346.41 488.81,345.89C489.22,345.36 489.64,344.83 490.05,344.31C490.47,343.79 490.89,343.27 491.30,342.75C491.72,342.23 492.14,341.71 492.56,341.19C492.98,340.67 493.39,340.15 493.80,339.62C494.21,339.09 494.62,338.56 495.02,338.03C495.42,337.50 495.82,336.96 496.22,336.42C496.61,335.89 497.01,335.35 497.41,334.82C497.81,334.28 498.22,333.75 498.63,333.23C499.04,332.70 499.46,332.18 499.88,331.67C500.31,331.15 500.74,330.64 501.17,330.14C501.61,329.63 502.05,329.13 502.50,328.64C502.94,328.14 503.40,327.65 503.86,327.17C504.32,326.69 504.79,326.22 505.27,325.75C505.74,325.28 506.23,324.82 506.71,324.37C507.20,323.91 507.69,323.46 508.19,323.02C508.69,322.57 509.19,322.13 509.70,321.70C510.21,321.27 510.73,320.85 511.25,320.44C511.77,320.02 512.30,319.61 512.83,319.21C513.37,318.81 513.91,318.42 514.45,318.03C514.99,317.64 515.54,317.26 516.09,316.88C516.64,316.50 517.19,316.13 517.73,315.75C518.28,315.37 518.83,314.98 519.37,314.59C519.90,314.20 520.44,313.80 520.97,313.41C521.50,313.01 522.03,312.60 522.57,312.22C523.11,311.83 523.65,311.44 524.21,311.08C524.76,310.71 525.32,310.36 525.89,310.01C526.46,309.66 527.04,309.33 527.62,309.00C528.20,308.67 528.78,308.35 529.37,308.03C529.96,307.72 530.55,307.41 531.14,307.10C531.74,306.80 532.34,306.51 532.94,306.22C533.54,305.93 534.14,305.65 534.75,305.37C535.36,305.09 535.97,304.82 536.58,304.55C537.19,304.28 537.80,304.01 538.41,303.75C539.03,303.49 539.64,303.23 540.26,302.98C540.88,302.73 541.50,302.49 542.13,302.25C542.75,302.01 543.38,301.78 544.00,301.55C544.63,301.32 545.26,301.10 545.89,300.87C546.52,300.65 547.15,300.43 547.78,300.21C548.41,299.99 549.04,299.77 549.67,299.55C550.30,299.34 550.94,299.12 551.57,298.91C552.20,298.70 552.84,298.49 553.47,298.28C554.10,298.07 554.74,297.86 555.37,297.66C556.01,297.45 556.65,297.24 557.28,297.04C557.92,296.84 558.55,296.64 559.19,296.44C559.83,296.24 560.47,296.04 561.11,295.85C561.75,295.66 562.39,295.48 563.03,295.29C563.67,295.11 564.32,294.93 564.96,294.75C565.60,294.57 566.25,294.39 566.89,294.21C567.53,294.04 568.18,293.86 568.82,293.69C569.47,293.52 570.11,293.35 570.76,293.18C571.41,293.01 572.05,292.84 572.70,292.68C573.35,292.52 574.00,292.36 574.65,292.20C575.29,292.04 575.94,291.88 576.59,291.73C577.24,291.57 577.89,291.42 578.54,291.27C579.19,291.12 579.84,290.97 580.50,290.82C581.15,290.67 581.80,290.53 582.45,290.38C583.10,290.24 583.76,290.10 584.41,289.95C585.06,289.81 585.71,289.67 586.37,289.53C587.02,289.39 587.67,289.25 588.33,289.11C588.98,288.97 589.63,288.83 590.28,288.69C590.94,288.55 591.59,288.41 592.24,288.27C592.90,288.13 593.55,287.99 594.20,287.84C594.85,287.70 595.51,287.56 596.16,287.42C596.81,287.28 597.47,287.14 598.12,287.00C598.77,286.86 599.43,286.72 600.08,286.58C600.73,286.44 601.39,286.31 602.04,286.17C602.69,286.04 603.35,285.90 604.00,285.78C604.66,285.65 605.31,285.53 605.97,285.41C606.63,285.29 607.29,285.18 607.95,285.07C608.60,284.96 609.26,284.86 609.92,284.75C610.58,284.65 611.24,284.54 611.90,284.44C612.56,284.33 613.22,284.23 613.88,284.13C614.54,284.03 615.20,283.92 615.86,283.82C616.52,283.72 617.18,283.61 617.84,283.51C618.50,283.41 619.16,283.30 619.82,283.20C620.48,283.10 621.14,283.00 621.80,282.89C622.46,282.79 623.12,282.69 623.78,282.58C624.44,282.48 625.10,282.38 625.76,282.27C626.42,282.17 627.08,282.07 627.74,281.97C628.40,281.86 629.06,281.76 629.72,281.66C630.38,281.56 631.04,281.45 631.70,281.35C632.36,281.26 633.02,281.16 633.68,281.06C634.34,280.97 635.00,280.88 635.67,280.79C636.33,280.71 636.99,280.63 637.65,280.55C638.32,280.47 638.98,280.39 639.65,280.32C640.31,280.24 640.97,280.17 641.64,280.10C642.30,280.02 642.96,279.95 643.63,279.88C644.29,279.81 644.96,279.73 645.62,279.66C646.28,279.59 646.95,279.51 647.61,279.44C648.28,279.37 648.94,279.30 649.60,279.22C650.27,279.15 650.93,279.08 651.59,279.01C652.26,278.93 652.92,278.86 653.59,278.79C654.25,278.72 654.91,278.64 655.58,278.57C656.24,278.50 656.91,278.43 657.57,278.35C658.23,278.28 658.90,278.21 659.56,278.13C660.23,278.06 660.89,277.99 661.55,277.92C662.22,277.84 662.88,277.77 663.55,277.70C664.21,277.63 664.87,277.55 665.54,277.48C666.20,277.41 666.86,277.34 667.53,277.26C668.19,277.19 668.86,277.12 669.52,277.04C670.18,276.97 670.85,276.90 671.51,276.83C672.18,276.75 673.01,276.66 673.50,276.61C674.00,276.55 674.33,276.52 674.50,276.50" stroke="#f00" stroke-width="1.5" stroke-dasharray="5.8 2.7"/>
<path d="M400.90,409.22C401.23,409.15 402.22,408.92 402.88,408.80C403.54,408.68 404.20,408.59 404.86,408.48C405.52,408.37 406.17,408.25 406.82,408.12C407.48,407.98 408.13,407.84 408.77,407.68C409.42,407.52 410.06,407.35 410.70,407.16C411.34,406.98 411.98,406.78 412.60,406.56C413.23,406.34 413.86,406.11 414.47,405.87C415.08,405.62 415.69,405.35 416.29,405.07C416.89,404.78 417.48,404.48 418.06,404.15C418.64,403.83 419.21,403.49 419.76,403.13C420.32,402.78 420.87,402.40 421.41,402.01C421.95,401.62 422.47,401.22 422.99,400.80C423.50,400.38 424.00,399.94 424.50,399.50C424.99,399.05 425.47,398.59 425.95,398.13C426.42,397.66 426.89,397.19 427.35,396.70C427.81,396.22 428.27,395.73 428.71,395.24C429.16,394.74 429.60,394.24 430.03,393.73C430.46,393.22 430.89,392.71 431.30,392.19C431.72,391.67 432.13,391.14 432.53,390.61C432.92,390.07 433.31,389.53 433.68,388.98C434.05,388.43 434.41,387.87 434.76,387.30C435.10,386.73 435.42,386.16 435.74,385.57C436.05,384.98 436.35,384.39 436.65,383.79C436.94,383.19 437.22,382.59 437.50,381.98C437.78,381.38 438.06,380.77 438.33,380.16C438.60,379.55 438.87,378.94 439.14,378.32C439.41,377.71 439.67,377.10 439.93,376.48C440.20,375.87 440.46,375.25 440.72,374.64C440.98,374.02 441.24,373.41 441.50,372.79C441.76,372.18 442.02,371.56 442.28,370.95C442.54,370.33 442.81,369.72 443.08,369.11C443.35,368.49 443.62,367.88 443.89,367.27C444.17,366.67 444.45,366.06 444.73,365.45C445.01,364.85 445.30,364.24 445.58,363.64C445.87,363.03 446.15,362.43 446.44,361.83C446.73,361.22 447.02,360.62 447.31,360.02C447.61,359.42 447.90,358.82 448.19,358.22C448.49,357.62 448.78,357.02 449.08,356.42C449.38,355.82 449.68,355.23 449.98,354.63C450.28,354.03 450.58,353.43 450.88,352.84C451.18,352.24 451.48,351.64 451.79,351.05C452.09,350.45 452.40,349.86 452.71,349.27C453.01,348.67 453.32,348.08 453.63,347.49C453.95,346.90 454.26,346.31 454.57,345.72C454.89,345.13 455.20,344.54 455.52,343.95C455.84,343.37 456.17,342.78 456.49,342.20C456.82,341.61 457.14,341.03 457.47,340.45C457.80,339.87 458.14,339.29 458.47,338.71C458.80,338.13 459.14,337.55 459.47,336.97C459.80,336.39 460.14,335.82 460.47,335.24C460.81,334.66 461.15,334.08 461.48,333.50C461.82,332.92 462.15,332.35 462.49,331.77C462.82,331.19 463.16,330.61 463.50,330.04C463.84,329.46 464.17,328.88 464.52,328.31C464.86,327.74 465.20,327.17 465.56,326.60C465.91,326.04 466.27,325.47 466.64,324.92C467.02,324.37 467.40,323.83 467.80,323.29C468.19,322.76 468.60,322.23 469.02,321.71C469.44,321.19 469.87,320.69 470.31,320.19C470.75,319.69 471.20,319.20 471.66,318.72C472.12,318.23 472.59,317.76 473.07,317.30C473.55,316.83 474.03,316.37 474.52,315.92C475.01,315.47 475.51,315.03 476.02,314.59C476.52,314.15 477.03,313.72 477.54,313.29C478.06,312.86 478.57,312.44 479.10,312.03C479.62,311.61 480.15,311.20 480.68,310.80C481.21,310.40 481.75,310.00 482.29,309.61C482.83,309.22 483.38,308.84 483.93,308.47C484.49,308.09 485.04,307.73 485.61,307.36C486.17,307.00 486.73,306.64 487.30,306.29C487.87,305.94 488.44,305.59 489.01,305.25C489.58,304.90 490.15,304.56 490.73,304.22C491.31,303.89 491.89,303.55 492.47,303.22C493.05,302.89 493.63,302.56 494.22,302.24C494.80,301.92 495.39,301.60 495.97,301.28C496.56,300.96 497.15,300.65 497.74,300.34C498.34,300.03 498.93,299.72 499.53,299.42C500.12,299.11 500.72,298.81 501.31,298.51C501.91,298.21 502.51,297.91 503.10,297.61C503.70,297.31 504.30,297.01 504.90,296.71C505.50,296.41 506.09,296.11 506.69,295.82C507.29,295.52 507.89,295.22 508.49,294.92C509.09,294.63 509.69,294.33 510.29,294.04C510.89,293.75 511.49,293.46 512.09,293.17C512.70,292.88 513.30,292.60 513.91,292.32C514.51,292.04 515.12,291.76 515.73,291.49C516.34,291.22 516.95,290.95 517.57,290.68C518.18,290.42 518.80,290.16 519.41,289.90C520.03,289.65 520.65,289.40 521.27,289.16C521.90,288.92 522.52,288.68 523.15,288.44C523.77,288.21 524.40,287.98 525.03,287.75C525.66,287.52 526.28,287.30 526.91,287.08C527.55,286.86 528.18,286.64 528.81,286.42C529.44,286.21 530.08,286.00 530.71,285.79C531.35,285.59 531.98,285.39 532.62,285.19C533.26,284.99 533.90,284.80 534.54,284.61C535.18,284.42 535.82,284.23 536.47,284.04C537.11,283.86 537.75,283.67 538.39,283.49C539.04,283.31 539.68,283.13 540.32,282.95C540.97,282.78 541.61,282.60 542.26,282.43C542.90,282.26 543.55,282.09 544.20,281.92C544.85,281.75 545.49,281.59 546.14,281.43C546.79,281.27 547.44,281.11 548.09,280.95C548.74,280.80 549.39,280.65 550.04,280.50C550.69,280.36 551.35,280.22 552.00,280.09C552.66,279.96 553.31,279.84 553.97,279.72C554.63,279.60 555.29,279.48 555.94,279.37C556.60,279.26 557.26,279.15 557.92,279.04C558.58,278.93 559.24,278.82 559.90,278.72C560.56,278.61 561.22,278.51 561.88,278.41C562.54,278.30 563.20,278.20 563.86,278.10C564.52,278.00 565.19,277.90 565.85,277.81C566.51,277.71 567.17,277.61 567.83,277.52C568.49,277.42 569.15,277.33 569.82,277.23C570.48,277.14 571.14,277.05 571.80,276.96C572.46,276.87 573.13,276.78 573.79,276.70C574.45,276.61 575.12,276.52 575.78,276.44C576.44,276.35 577.10,276.27 577.77,276.19C578.43,276.11 579.09,276.03 579.76,275.94C580.42,275.86 581.09,275.78 581.75,275.71C582.41,275.63 583.08,275.55 583.74,275.47C584.40,275.39 585.07,275.32 585.73,275.24C586.40,275.16 587.06,275.08 587.72,275.01C588.39,274.93 589.05,274.85 589.72,274.78C590.38,274.70 591.04,274.62 591.71,274.55C592.37,274.47 593.04,274.39 593.70,274.32C594.36,274.24 595.03,274.16 595.69,274.09C596.36,274.01 597.02,273.93 597.68,273.86C598.35,273.78 599.01,273.70 599.68,273.63C600.34,273.55 601.00,273.47 601.67,273.40C602.33,273.32 602.99,273.24 603.66,273.17C604.32,273.09 604.99,273.01 605.65,272.94C606.31,272.86 606.98,272.78 607.64,272.70C608.31,272.63 608.97,272.55 609.63,272.47C610.30,272.40 610.96,272.32 611.63,272.24C612.29,272.16 612.95,272.09 613.62,272.01C614.28,271.93 614.95,271.86 615.61,271.78C616.27,271.70 616.94,271.62 617.60,271.55C618.27,271.47 618.93,271.39 619.59,271.31C620.26,271.24 620.92,271.16 621.58,271.08C622.25,271.01 622.91,270.93 623.58,270.85C624.24,270.77 624.90,270.70 625.57,270.62C626.23,270.54 626.90,270.47 627.56,270.39C628.22,270.31 628.89,270.24 629.55,270.16C630.22,270.08 630.88,270.01 631.54,269.93C632.21,269.86 632.87,269.79 633.54,269.72C634.20,269.65 634.87,269.58 635.53,269.52C636.20,269.45 636.86,269.39 637.53,269.33C638.19,269.27 638.86,269.21 639.53,269.15C640.19,269.10 640.86,269.04 641.52,268.99C642.19,268.93 642.86,268.88 643.52,268.82C644.19,268.77 644.85,268.71 645.52,268.66C646.19,268.61 646.85,268.55 647.52,268.50C648.19,268.44 648.85,268.39 649.52,268.33C650.18,268.28 650.85,268.23 651.52,268.17C652.18,268.12 652.85,268.06 653.52,268.01C654.18,267.95 654.85,267.90 655.51,267.85C656.18,267.79 656.85,267.74 657.51,267.68C658.18,267.63 658.84,267.57 659.51,267.52C660.18,267.47 660.84,267.41 661.51,267.36C662.18,267.30 662.84,267.25 663.51,267.20C664.17,267.14 664.84,267.09 665.51,267.03C666.17,266.98 666.84,266.92 667.51,266.87C668.17,266.82 668.84,266.76 669.50,266.71C670.17,266.65 670.84,266.60 671.50,266.54C672.17,266.49 673.00,266.42 673.50,266.38C674.00,266.34 674.33,266.31 674.50,266.30" stroke="#000" stroke-width="1.7" stroke-dasharray="5.8 2.1 1.9 2.2"/>
<path d="M400.60,261.20C400.80,261.45 401.43,262.21 401.83,262.72C402.23,263.24 402.63,263.76 403.00,264.29C403.38,264.82 403.75,265.36 404.09,265.91C404.43,266.47 404.76,267.04 405.07,267.61C405.38,268.19 405.67,268.78 405.96,269.38C406.24,269.97 406.50,270.58 406.76,271.19C407.02,271.80 407.27,272.42 407.51,273.04C407.76,273.66 407.99,274.28 408.23,274.91C408.47,275.53 408.70,276.16 408.94,276.78C409.17,277.41 409.41,278.03 409.65,278.66C409.89,279.28 410.12,279.90 410.37,280.52C410.62,281.14 410.86,281.76 411.12,282.38C411.38,282.99 411.64,283.61 411.91,284.22C412.18,284.82 412.46,285.43 412.75,286.02C413.05,286.62 413.35,287.21 413.66,287.79C413.98,288.37 414.31,288.94 414.66,289.50C415.01,290.05 415.37,290.60 415.75,291.13C416.14,291.66 416.54,292.17 416.96,292.66C417.38,293.15 417.82,293.62 418.29,294.07C418.75,294.51 419.24,294.92 419.74,295.31C420.25,295.69 420.78,296.04 421.32,296.35C421.86,296.67 422.43,296.94 423.01,297.18C423.59,297.42 424.19,297.61 424.80,297.77C425.41,297.93 426.03,298.05 426.66,298.13C427.29,298.21 427.93,298.26 428.57,298.27C429.21,298.29 429.86,298.26 430.51,298.22C431.16,298.17 431.81,298.10 432.46,298.00C433.11,297.91 433.76,297.79 434.40,297.66C435.05,297.52 435.69,297.37 436.34,297.20C436.98,297.04 437.62,296.86 438.26,296.67C438.89,296.48 439.53,296.28 440.16,296.08C440.80,295.87 441.43,295.66 442.06,295.45C442.69,295.23 443.32,295.01 443.95,294.79C444.58,294.56 445.21,294.34 445.84,294.11C446.47,293.88 447.10,293.65 447.72,293.42C448.35,293.19 448.98,292.96 449.60,292.73C450.23,292.49 450.86,292.26 451.48,292.03C452.11,291.79 452.74,291.56 453.36,291.32C453.99,291.09 454.61,290.85 455.24,290.62C455.86,290.38 456.49,290.15 457.12,289.92C457.74,289.68 458.37,289.45 459.00,289.22C459.62,288.99 460.25,288.76 460.88,288.54C461.51,288.31 462.14,288.09 462.77,287.87C463.40,287.66 464.04,287.44 464.67,287.23C465.30,287.02 465.94,286.81 466.58,286.61C467.21,286.41 467.85,286.21 468.49,286.01C469.13,285.81 469.77,285.62 470.40,285.43C471.04,285.23 471.69,285.04 472.33,284.85C472.97,284.67 473.61,284.48 474.25,284.30C474.89,284.11 475.54,283.93 476.18,283.75C476.82,283.57 477.47,283.39 478.11,283.21C478.76,283.03 479.40,282.86 480.05,282.68C480.69,282.51 481.34,282.33 481.98,282.16C482.63,281.98 483.27,281.81 483.92,281.63C484.56,281.46 485.20,281.28 485.85,281.10C486.49,280.92 487.14,280.74 487.78,280.56C488.42,280.38 489.06,280.19 489.70,280.00C490.35,279.82 490.99,279.63 491.63,279.44C492.27,279.26 492.91,279.07 493.55,278.88C494.19,278.69 494.84,278.50 495.48,278.32C496.12,278.13 496.76,277.95 497.40,277.77C498.05,277.58 498.69,277.40 499.33,277.22C499.98,277.04 500.62,276.86 501.27,276.69C501.91,276.51 502.56,276.33 503.20,276.16C503.85,275.98 504.49,275.81 505.14,275.64C505.78,275.47 506.43,275.30 507.08,275.13C507.72,274.97 508.37,274.80 509.02,274.64C509.67,274.48 510.32,274.32 510.97,274.16C511.62,274.00 512.27,273.84 512.92,273.69C513.57,273.54 514.22,273.39 514.87,273.24C515.52,273.09 516.17,272.94 516.82,272.79C517.48,272.65 518.13,272.50 518.78,272.36C519.43,272.21 520.09,272.07 520.74,271.94C521.39,271.80 522.05,271.66 522.70,271.53C523.36,271.39 524.01,271.26 524.67,271.14C525.32,271.01 525.98,270.88 526.64,270.76C527.29,270.64 527.95,270.52 528.61,270.40C529.27,270.28 529.93,270.17 530.58,270.05C531.24,269.94 531.90,269.83 532.56,269.72C533.22,269.60 533.88,269.49 534.54,269.39C535.20,269.28 535.86,269.17 536.52,269.07C537.18,268.97 537.84,268.87 538.50,268.77C539.16,268.67 539.82,268.57 540.48,268.47C541.14,268.38 541.81,268.29 542.47,268.19C543.13,268.10 543.79,268.01 544.46,267.92C545.12,267.84 545.78,267.75 546.44,267.66C547.11,267.58 547.77,267.49 548.43,267.41C549.09,267.33 549.76,267.24 550.42,267.16C551.09,267.08 551.75,267.00 552.41,266.92C553.08,266.85 553.74,266.77 554.40,266.69C555.07,266.62 555.73,266.54 556.40,266.47C557.06,266.40 557.73,266.33 558.39,266.26C559.06,266.19 559.72,266.12 560.38,266.05C561.05,265.98 561.71,265.91 562.38,265.85C563.04,265.78 563.71,265.72 564.38,265.66C565.04,265.59 565.71,265.53 566.37,265.47C567.04,265.41 567.70,265.35 568.37,265.29C569.03,265.24 569.70,265.18 570.37,265.13C571.03,265.07 571.70,265.02 572.37,264.97C573.03,264.92 573.70,264.87 574.37,264.82C575.03,264.77 575.70,264.72 576.37,264.67C577.03,264.62 577.70,264.58 578.37,264.53C579.03,264.48 579.70,264.44 580.37,264.39C581.03,264.35 581.70,264.30 582.37,264.26C583.03,264.21 583.70,264.17 584.37,264.13C585.03,264.08 585.70,264.04 586.37,264.00C587.04,263.95 587.70,263.91 588.37,263.87C589.04,263.82 589.70,263.78 590.37,263.74C591.04,263.70 591.70,263.65 592.37,263.61C593.04,263.57 593.71,263.53 594.37,263.48C595.04,263.44 595.71,263.40 596.37,263.36C597.04,263.32 597.71,263.27 598.38,263.23C599.04,263.19 599.71,263.15 600.38,263.11C601.04,263.07 601.71,263.03 602.38,262.99C603.05,262.95 603.71,262.91 604.38,262.87C605.05,262.83 605.71,262.79 606.38,262.76C607.05,262.72 607.72,262.68 608.38,262.65C609.05,262.61 609.72,262.58 610.39,262.54C611.05,262.51 611.72,262.47 612.39,262.44C613.06,262.40 613.72,262.37 614.39,262.34C615.06,262.30 615.73,262.27 616.39,262.24C617.06,262.20 617.73,262.17 618.40,262.14C619.06,262.10 619.73,262.07 620.40,262.04C621.07,262.00 621.73,261.97 622.40,261.94C623.07,261.90 623.74,261.87 624.40,261.84C625.07,261.81 625.74,261.77 626.41,261.74C627.08,261.71 627.74,261.67 628.41,261.64C629.08,261.61 629.75,261.58 630.41,261.55C631.08,261.51 631.75,261.48 632.42,261.45C633.08,261.42 633.75,261.39 634.42,261.37C635.09,261.34 635.76,261.31 636.42,261.28C637.09,261.26 637.76,261.23 638.43,261.21C639.09,261.18 639.76,261.16 640.43,261.13C641.10,261.11 641.77,261.09 642.43,261.06C643.10,261.04 643.77,261.02 644.44,261.00C645.11,260.97 645.77,260.95 646.44,260.93C647.11,260.91 647.78,260.88 648.45,260.86C649.11,260.84 649.78,260.82 650.45,260.80C651.12,260.77 651.79,260.75 652.45,260.73C653.12,260.71 653.79,260.69 654.46,260.66C655.13,260.64 655.80,260.62 656.46,260.60C657.13,260.57 657.80,260.55 658.47,260.53C659.14,260.51 659.80,260.49 660.47,260.46C661.14,260.44 661.81,260.42 662.48,260.40C663.14,260.38 663.81,260.35 664.48,260.33C665.15,260.31 665.82,260.29 666.48,260.27C667.15,260.24 667.82,260.22 668.49,260.20C669.16,260.18 669.82,260.15 670.49,260.13C671.16,260.11 671.83,260.09 672.50,260.07C673.16,260.04 674.17,260.01 674.50,260.00" stroke="#00f" stroke-width="1.4" stroke-dasharray="none"/>
</g>
<g style="mix-blend-mode:multiply"><path d="M401 410.5v-4.0M401 241.5v4.0M414.68 410.5v-2.3M414.68 241.5v2.3M428.35 410.5v-2.3M428.35 241.5v2.3M442.02 410.5v-2.3M442.02 241.5v2.3M455.7 410.5v-4.0M455.7 241.5v4.0M469.38 410.5v-2.3M469.38 241.5v2.3M483.05 410.5v-2.3M483.05 241.5v2.3M496.73 410.5v-2.3M496.73 241.5v2.3M510.4 410.5v-4.0M510.4 241.5v4.0M524.08 410.5v-2.3M524.08 241.5v2.3M537.75 410.5v-2.3M537.75 241.5v2.3M551.42 410.5v-2.3M551.42 241.5v2.3M565.1 410.5v-4.0M565.1 241.5v4.0M578.77 410.5v-2.3M578.77 241.5v2.3M592.45 410.5v-2.3M592.45 241.5v2.3M606.12 410.5v-2.3M606.12 241.5v2.3M619.8 410.5v-4.0M619.8 241.5v4.0M633.48 410.5v-2.3M633.48 241.5v2.3M647.15 410.5v-2.3M647.15 241.5v2.3M660.83 410.5v-2.3M660.83 241.5v2.3M674.5 410.5v-4.0M674.5 241.5v4.0M401 410.5h4.0M674.5 410.5h-4.0M401 402.82h2.3M674.5 402.82h-2.3M401 395.14h2.3M674.5 395.14h-2.3M401 387.45h2.3M674.5 387.45h-2.3M401 379.77h4.0M674.5 379.77h-4.0M401 372.09h2.3M674.5 372.09h-2.3M401 364.41h2.3M674.5 364.41h-2.3M401 356.73h2.3M674.5 356.73h-2.3M401 349.05h4.0M674.5 349.05h-4.0M401 341.36h2.3M674.5 341.36h-2.3M401 333.68h2.3M674.5 333.68h-2.3M401 326h2.3M674.5 326h-2.3M401 318.32h4.0M674.5 318.32h-4.0M401 310.64h2.3M674.5 310.64h-2.3M401 302.95h2.3M674.5 302.95h-2.3M401 295.27h2.3M674.5 295.27h-2.3M401 287.59h4.0M674.5 287.59h-4.0M401 279.91h2.3M674.5 279.91h-2.3M401 272.23h2.3M674.5 272.23h-2.3M401 264.55h2.3M674.5 264.55h-2.3M401 256.86h4.0M674.5 256.86h-4.0M401 249.18h2.3M674.5 249.18h-2.3M401 241.5h2.3M674.5 241.5h-2.3" stroke="#333" stroke-width="0.9" fill="none"/>
<rect x="401" y="241.5" width="273.5" height="169" stroke="#333" stroke-width="1" fill="none"/></g>
<path d="M602.7 375.4h17.7" stroke="#f00" stroke-width="1.5" stroke-dasharray="6.3 2.5 6 20"/>
<text x="623.7" y="378.1" class="l">T/T<tspan font-size="7.6" dy="2.6" dx="0.3">c</tspan><tspan dy="-2.6" dx="0.3">=0.3</tspan></text>
<path d="M602.7 387.6h17.7" stroke="#000" stroke-width="1.5" stroke-dasharray="6.1 1.9 1.9 2"/>
<text x="623.7" y="390.3" class="l">T/T<tspan font-size="7.6" dy="2.6" dx="0.3">c</tspan><tspan dy="-2.6" dx="0.3">=0.6</tspan></text>
<path d="M602.7 399.8h17.7" stroke="#00f" stroke-width="1.5" stroke-dasharray="none"/>
<text x="623.7" y="402.5" class="l">T/T<tspan font-size="7.6" dy="2.6" dx="0.3">c</tspan><tspan dy="-2.6" dx="0.3">=0.9</tspan></text>
<text x="441.32" y="464.3" class="cb" font-size="16">(</text>
<text transform="translate(447.39 464.3) scale(1.08 1)" class="cb" font-size="13.4">d</text>
<text x="456.18" y="464.3" class="cb" font-size="16">)</text>
<text transform="translate(466.64 464.3) scale(1.15 1)" class="ci" font-size="13.4">z</text>
<path d="M477.38 459.5H486.49M477.38 462.5H486.49" stroke="#000" stroke-width="0.85"/>
<text x="491.13" y="464.3" class="cr" font-size="13.4">2</text>
<text x="498.12" y="464.3" class="cr" font-size="13.4">,</text>
<text transform="translate(506.46 464.3) scale(1.2 1)" class="ci" font-size="13.4">m</text>
<text x="518.49" y="459" class="cr" font-size="8.8">2</text>
<path d="M528.96 459.5H538.07M528.96 462.5H538.07" stroke="#000" stroke-width="0.85"/>
<text x="542.71" y="464.3" class="cr" font-size="13.4">0</text>
<text x="549.71" y="464.3" class="cr" font-size="13.4">,</text>
<text transform="translate(557.59 464.3) scale(0.95 1)" class="ci" font-size="13.4">b</text>
<path d="M568.27 459.5H577.38M568.27 462.5H577.38" stroke="#000" stroke-width="0.85"/>
<text x="582.02" y="464.3" class="cr" font-size="13.4">0</text>
<text x="589.02" y="464.3" class="cr" font-size="13.4">.</text>
<text x="592.66" y="464.3" class="cr" font-size="13.4">0</text>
<text x="599.5" y="464.3" class="cr" font-size="13.4">4</text>
<text x="41.5" y="666.8" text-anchor="middle" class="t">0</text>
<text x="96.2" y="666.8" text-anchor="middle" class="t">20</text>
<text x="150.9" y="666.8" text-anchor="middle" class="t">40</text>
<text x="205.6" y="666.8" text-anchor="middle" class="t">60</text>
<text x="260.3" y="666.8" text-anchor="middle" class="t">80</text>
<text x="315" y="666.8" text-anchor="middle" class="t">100</text>
<text x="39.1" y="657" text-anchor="end" class="t">0.0</text>
<text x="39.1" y="628.83" text-anchor="end" class="t">0.2</text>
<text x="39.1" y="600.67" text-anchor="end" class="t">0.4</text>
<text x="39.1" y="572.5" text-anchor="end" class="t">0.6</text>
<text x="39.1" y="544.33" text-anchor="end" class="t">0.8</text>
<text x="39.1" y="516.17" text-anchor="end" class="t">1.0</text>
<text x="39.1" y="488" text-anchor="end" class="t">1.2</text>
<text x="178.25" y="687.1" text-anchor="middle" class="t"><tspan font-style="italic" font-family="Liberation Serif" font-size="13.4">ω</tspan><tspan font-family="Liberation Serif" font-size="14.5" dy="1.6" dx="-0.3">/</tspan><tspan dy="-1.6" dx="-0.6">T</tspan></text>
<text transform="translate(11.8 567.8) rotate(-90)" text-anchor="middle" class="t">Re<tspan font-family="Liberation Serif" font-size="14">[</tspan><tspan font-style="italic" font-family="Liberation Serif" font-size="14.5">σ</tspan><tspan font-family="Liberation Serif" font-size="14">]</tspan></text>
<clipPath id="cpe"><rect x="40.7" y="482.7" width="275.1" height="170.6"/></clipPath>
<g clip-path="url(#cpe)" fill="none">
<path d="M41.30,652.50C41.63,652.50 42.63,652.50 43.30,652.50C43.97,652.50 44.63,652.50 45.30,652.50C45.97,652.50 46.64,652.50 47.30,652.50C47.97,652.50 48.64,652.50 49.30,652.50C49.97,652.50 50.64,652.50 51.30,652.50C51.97,652.50 52.64,652.50 53.30,652.50C53.97,652.50 54.64,652.50 55.31,652.50C55.97,652.50 56.64,652.50 57.31,652.50C57.97,652.50 58.64,652.50 59.31,652.50C59.97,652.50 60.64,652.50 61.31,652.50C61.97,652.50 62.64,652.50 63.31,652.49C63.97,652.49 64.64,652.49 65.31,652.49C65.98,652.49 66.64,652.49 67.31,652.49C67.98,652.49 68.64,652.48 69.31,652.48C69.98,652.48 70.64,652.48 71.31,652.48C71.98,652.48 72.64,652.48 73.31,652.48C73.98,652.47 74.65,652.47 75.31,652.46C75.98,652.46 76.64,652.45 77.31,652.43C77.97,652.40 78.64,652.38 79.30,652.31C79.96,652.24 80.62,652.17 81.27,652.01C81.93,651.85 82.58,651.57 83.23,651.34C83.87,651.12 84.52,650.86 85.15,650.64C85.78,650.41 86.41,650.23 87.02,649.97C87.63,649.72 88.22,649.43 88.79,649.11C89.37,648.79 89.93,648.43 90.47,648.05C91.01,647.67 91.54,647.27 92.04,646.84C92.54,646.41 93.01,645.94 93.45,645.45C93.90,644.97 94.31,644.45 94.71,643.92C95.11,643.39 95.48,642.84 95.83,642.28C96.18,641.71 96.50,641.13 96.81,640.54C97.13,639.96 97.43,639.36 97.72,638.76C98.01,638.17 98.30,637.57 98.58,636.96C98.85,636.35 99.12,635.74 99.37,635.12C99.62,634.51 99.86,633.89 100.10,633.26C100.34,632.64 100.57,632.01 100.79,631.39C101.02,630.76 101.24,630.13 101.46,629.50C101.67,628.87 101.88,628.23 102.08,627.60C102.29,626.97 102.48,626.33 102.68,625.69C102.88,625.05 103.07,624.42 103.26,623.78C103.45,623.14 103.64,622.50 103.82,621.86C104.00,621.22 104.18,620.57 104.36,619.93C104.54,619.29 104.72,618.64 104.89,618.00C105.06,617.36 105.22,616.71 105.38,616.06C105.53,615.41 105.67,614.76 105.81,614.11C105.95,613.46 106.08,612.80 106.21,612.15C106.34,611.50 106.47,610.84 106.61,610.19C106.74,609.53 106.87,608.88 107.00,608.23C107.13,607.57 107.26,606.92 107.39,606.26C107.52,605.61 107.65,604.96 107.78,604.30C107.91,603.65 108.04,602.99 108.17,602.34C108.30,601.69 108.43,601.03 108.55,600.37C108.67,599.72 108.78,599.06 108.90,598.41C109.01,597.75 109.12,597.09 109.23,596.43C109.34,595.78 109.45,595.12 109.56,594.46C109.67,593.80 109.78,593.14 109.89,592.49C110.00,591.83 110.10,591.17 110.21,590.51C110.31,589.85 110.42,589.19 110.52,588.53C110.62,587.87 110.72,587.21 110.82,586.56C110.92,585.90 111.01,585.24 111.12,584.58C111.22,583.92 111.32,583.26 111.43,582.60C111.54,581.94 111.65,581.29 111.76,580.63C111.87,579.97 111.99,579.31 112.11,578.66C112.22,578.00 112.34,577.34 112.46,576.69C112.57,576.03 112.69,575.37 112.81,574.72C112.92,574.06 113.04,573.41 113.16,572.75C113.28,572.09 113.39,571.44 113.51,570.78C113.63,570.12 113.74,569.47 113.86,568.81C113.98,568.15 114.09,567.50 114.21,566.84C114.33,566.18 114.44,565.53 114.56,564.87C114.68,564.21 114.80,563.56 114.91,562.90C115.03,562.24 115.15,561.59 115.26,560.93C115.38,560.27 115.49,559.62 115.60,558.96C115.71,558.30 115.83,557.64 115.94,556.99C116.05,556.33 116.16,555.67 116.27,555.01C116.38,554.35 116.49,553.70 116.60,553.04C116.71,552.38 116.82,551.72 116.93,551.07C117.04,550.41 117.15,549.75 117.26,549.09C117.37,548.44 117.48,547.78 117.59,547.12C117.70,546.46 117.81,545.80 117.92,545.15C118.03,544.49 118.14,543.83 118.25,543.17C118.36,542.52 118.47,541.86 118.58,541.20C118.70,540.54 118.81,539.89 118.92,539.23C119.03,538.57 119.15,537.91 119.26,537.26C119.37,536.60 119.49,535.94 119.60,535.29C119.72,534.63 119.83,533.97 119.95,533.31C120.06,532.66 120.18,532.00 120.29,531.34C120.41,530.69 120.52,530.03 120.63,529.37C120.75,528.72 120.86,528.06 120.98,527.40C121.09,526.74 121.21,526.09 121.32,525.43C121.44,524.77 121.56,524.12 121.67,523.46C121.79,522.80 121.91,522.15 122.03,521.49C122.15,520.84 122.27,520.18 122.38,519.52C122.50,518.87 122.62,518.21 122.74,517.55C122.86,516.90 122.98,516.24 123.10,515.59C123.22,514.93 123.33,514.27 123.45,513.62C123.58,512.96 123.69,512.30 123.82,511.65C123.95,511.00 124.07,510.34 124.24,509.70C124.40,509.06 124.58,508.42 124.78,507.79C124.99,507.16 125.23,506.54 125.48,505.92C125.72,505.30 125.99,504.69 126.25,504.08C126.51,503.46 126.77,502.85 127.04,502.24C127.30,501.63 127.56,501.01 127.85,500.42C128.14,499.83 128.44,499.23 128.79,498.68C129.14,498.13 129.53,497.60 129.95,497.09C130.37,496.58 130.83,496.11 131.29,495.63C131.75,495.16 132.22,494.68 132.72,494.25C133.21,493.81 133.70,493.38 134.24,493.02C134.78,492.67 135.35,492.37 135.95,492.12C136.54,491.87 137.18,491.68 137.81,491.53C138.45,491.38 139.10,491.26 139.74,491.20C140.39,491.15 141.04,491.16 141.69,491.20C142.34,491.25 143.00,491.37 143.65,491.49C144.30,491.60 144.95,491.74 145.60,491.90C146.25,492.05 146.89,492.22 147.53,492.41C148.16,492.60 148.79,492.83 149.41,493.06C150.03,493.29 150.65,493.55 151.26,493.80C151.88,494.06 152.49,494.32 153.11,494.57C153.72,494.83 154.34,495.09 154.95,495.35C155.57,495.61 156.18,495.87 156.80,496.13C157.41,496.39 158.03,496.64 158.64,496.90C159.26,497.16 159.87,497.42 160.49,497.68C161.10,497.94 161.71,498.20 162.33,498.46C162.94,498.71 163.56,498.98 164.18,499.23C164.79,499.48 165.41,499.73 166.03,499.97C166.65,500.21 167.28,500.43 167.91,500.65C168.54,500.87 169.18,501.07 169.81,501.28C170.44,501.48 171.08,501.68 171.72,501.89C172.35,502.09 172.99,502.29 173.62,502.49C174.26,502.69 174.89,502.89 175.53,503.09C176.17,503.28 176.81,503.48 177.45,503.66C178.09,503.83 178.74,504.00 179.38,504.15C180.03,504.31 180.69,504.44 181.34,504.58C181.99,504.71 182.64,504.84 183.30,504.97C183.95,505.10 184.61,505.23 185.26,505.36C185.91,505.49 186.57,505.62 187.22,505.75C187.88,505.88 188.53,506.01 189.19,506.14C189.84,506.27 190.49,506.40 191.15,506.52C191.81,506.64 192.46,506.75 193.12,506.85C193.78,506.96 194.44,507.05 195.10,507.13C195.76,507.22 196.42,507.30 197.09,507.37C197.75,507.45 198.41,507.53 199.07,507.61C199.74,507.68 200.40,507.76 201.06,507.84C201.72,507.92 202.39,507.99 203.05,508.07C203.71,508.15 204.37,508.22 205.04,508.30C205.70,508.37 206.36,508.44 207.03,508.51C207.69,508.57 208.35,508.63 209.02,508.69C209.68,508.75 210.35,508.80 211.01,508.85C211.68,508.90 212.34,508.94 213.01,508.99C213.67,509.04 214.34,509.09 215.00,509.14C215.67,509.19 216.33,509.23 217.00,509.28C217.66,509.33 218.33,509.37 218.99,509.42C219.66,509.46 220.33,509.50 220.99,509.53C221.66,509.57 222.32,509.60 222.99,509.63C223.66,509.67 224.32,509.70 224.99,509.73C225.65,509.76 226.32,509.79 226.99,509.82C227.65,509.85 228.32,509.88 228.99,509.91C229.65,509.94 230.32,509.97 230.98,510.00C231.65,510.03 232.32,510.06 232.98,510.09C233.65,510.12 234.32,510.15 234.98,510.18C235.65,510.21 236.31,510.24 236.98,510.26C237.65,510.28 238.31,510.30 238.98,510.32C239.65,510.34 240.31,510.36 240.98,510.37C241.65,510.39 242.31,510.40 242.98,510.42C243.65,510.43 244.31,510.45 244.98,510.46C245.65,510.48 246.31,510.49 246.98,510.51C247.65,510.52 248.31,510.54 248.98,510.55C249.65,510.57 250.31,510.58 250.98,510.60C251.65,510.61 252.32,510.63 252.98,510.64C253.65,510.66 254.32,510.67 254.98,510.69C255.65,510.70 256.32,510.72 256.98,510.73C257.65,510.74 258.32,510.76 258.98,510.77C259.65,510.78 260.32,510.80 260.98,510.81C261.65,510.82 262.32,510.83 262.98,510.84C263.65,510.85 264.32,510.86 264.98,510.86C265.65,510.87 266.32,510.88 266.98,510.89C267.65,510.90 268.32,510.91 268.99,510.92C269.65,510.93 270.32,510.94 270.99,510.94C271.65,510.95 272.32,510.96 272.99,510.97C273.65,510.98 274.32,510.99 274.99,511.00C275.65,511.01 276.32,511.02 276.99,511.02C277.65,511.03 278.32,511.04 278.99,511.05C279.66,511.06 280.32,511.07 280.99,511.08C281.66,511.08 282.32,511.09 282.99,511.10C283.66,511.11 284.32,511.11 284.99,511.12C285.66,511.13 286.32,511.13 286.99,511.14C287.66,511.15 288.32,511.15 288.99,511.16C289.66,511.16 290.33,511.17 290.99,511.18C291.66,511.18 292.33,511.19 292.99,511.20C293.66,511.20 294.33,511.21 294.99,511.21C295.66,511.22 296.33,511.23 296.99,511.23C297.66,511.24 298.33,511.25 298.99,511.25C299.66,511.26 300.33,511.26 301.00,511.27C301.66,511.28 302.33,511.28 303.00,511.29C303.66,511.29 304.33,511.30 305.00,511.31C305.66,511.31 306.33,511.32 307.00,511.33C307.66,511.33 308.33,511.34 309.00,511.34C309.66,511.35 310.33,511.36 311.00,511.36C311.67,511.37 312.33,511.38 313.00,511.38C313.67,511.39 314.67,511.40 315.00,511.40" stroke="#f00" stroke-width="1.5" stroke-dasharray="5.8 2.7"/>
<path d="M41.30,652.47C41.63,652.46 42.63,652.44 43.30,652.43C43.97,652.41 44.63,652.40 45.30,652.38C45.96,652.36 46.63,652.34 47.30,652.31C47.96,652.28 48.63,652.27 49.29,652.21C49.96,652.16 50.62,652.10 51.28,651.99C51.94,651.87 52.59,651.68 53.25,651.50C53.91,651.31 54.56,651.04 55.21,650.86C55.87,650.69 56.52,650.60 57.17,650.46C57.82,650.32 58.48,650.19 59.12,650.02C59.76,649.86 60.41,649.70 61.02,649.47C61.63,649.24 62.22,648.99 62.77,648.66C63.32,648.33 63.83,647.92 64.32,647.49C64.80,647.06 65.25,646.56 65.68,646.06C66.12,645.56 66.52,645.03 66.91,644.50C67.30,643.96 67.67,643.41 68.03,642.85C68.39,642.29 68.73,641.72 69.05,641.13C69.37,640.55 69.66,639.95 69.94,639.35C70.23,638.75 70.49,638.14 70.75,637.53C71.01,636.91 71.27,636.30 71.51,635.68C71.76,635.06 71.99,634.43 72.22,633.81C72.45,633.18 72.68,632.55 72.90,631.92C73.11,631.29 73.32,630.66 73.52,630.02C73.71,629.39 73.89,628.75 74.07,628.10C74.24,627.46 74.41,626.81 74.57,626.17C74.73,625.52 74.89,624.87 75.04,624.22C75.19,623.57 75.33,622.92 75.47,622.27C75.62,621.62 75.75,620.96 75.88,620.31C76.01,619.66 76.14,619.00 76.27,618.35C76.40,617.69 76.53,617.04 76.66,616.39C76.78,615.73 76.90,615.07 77.02,614.42C77.13,613.76 77.25,613.10 77.36,612.45C77.47,611.79 77.58,611.13 77.69,610.47C77.80,609.82 77.91,609.16 78.02,608.50C78.13,607.84 78.24,607.18 78.35,606.53C78.45,605.87 78.56,605.21 78.67,604.55C78.78,603.89 78.89,603.24 79.00,602.58C79.10,601.92 79.21,601.26 79.30,600.60C79.40,599.94 79.50,599.28 79.59,598.62C79.68,597.96 79.77,597.30 79.86,596.64C79.95,595.98 80.04,595.32 80.13,594.66C80.22,594.00 80.31,593.33 80.40,592.67C80.49,592.01 80.57,591.35 80.66,590.69C80.74,590.03 80.82,589.37 80.91,588.70C80.99,588.04 81.07,587.38 81.16,586.72C81.24,586.06 81.32,585.40 81.40,584.73C81.48,584.07 81.57,583.41 81.65,582.75C81.73,582.09 81.81,581.42 81.88,580.76C81.96,580.10 82.04,579.44 82.12,578.77C82.19,578.11 82.27,577.45 82.35,576.79C82.42,576.12 82.50,575.46 82.58,574.80C82.65,574.14 82.73,573.47 82.81,572.81C82.88,572.15 82.96,571.49 83.04,570.82C83.11,570.16 83.19,569.50 83.27,568.84C83.34,568.17 83.42,567.51 83.50,566.85C83.57,566.19 83.65,565.52 83.73,564.86C83.80,564.20 83.88,563.54 83.96,562.87C84.03,562.21 84.11,561.55 84.19,560.89C84.26,560.22 84.34,559.56 84.42,558.90C84.49,558.24 84.57,557.57 84.65,556.91C84.72,556.25 84.80,555.59 84.88,554.92C84.95,554.26 85.03,553.60 85.11,552.94C85.18,552.27 85.26,551.61 85.33,550.95C85.41,550.29 85.49,549.62 85.57,548.96C85.64,548.30 85.72,547.64 85.80,546.97C85.87,546.31 85.95,545.65 86.03,544.99C86.11,544.32 86.19,543.66 86.27,543.00C86.34,542.34 86.42,541.67 86.50,541.01C86.58,540.35 86.66,539.69 86.74,539.03C86.82,538.36 86.90,537.70 86.98,537.04C87.06,536.38 87.14,535.71 87.22,535.05C87.30,534.39 87.38,533.73 87.46,533.07C87.54,532.40 87.62,531.74 87.70,531.08C87.78,530.42 87.87,529.76 87.95,529.10C88.04,528.43 88.13,527.77 88.22,527.11C88.31,526.45 88.40,525.79 88.49,525.13C88.58,524.47 88.68,523.81 88.77,523.15C88.86,522.49 88.95,521.83 89.04,521.17C89.14,520.51 89.23,519.85 89.32,519.18C89.41,518.52 89.50,517.86 89.60,517.20C89.70,516.54 89.80,515.89 89.90,515.23C90.01,514.57 90.13,513.91 90.24,513.26C90.36,512.60 90.48,511.94 90.61,511.29C90.73,510.63 90.86,509.98 90.98,509.32C91.11,508.67 91.23,508.01 91.36,507.36C91.50,506.71 91.63,506.05 91.79,505.41C91.95,504.76 92.13,504.12 92.32,503.49C92.51,502.85 92.73,502.22 92.95,501.59C93.17,500.96 93.39,500.33 93.65,499.73C93.90,499.12 94.16,498.51 94.49,497.96C94.82,497.40 95.20,496.87 95.63,496.39C96.06,495.91 96.54,495.46 97.05,495.08C97.56,494.70 98.11,494.35 98.69,494.12C99.27,493.88 99.90,493.73 100.52,493.67C101.14,493.61 101.79,493.65 102.41,493.76C103.03,493.86 103.65,494.08 104.25,494.32C104.86,494.55 105.46,494.86 106.05,495.15C106.64,495.45 107.23,495.77 107.81,496.09C108.39,496.42 108.97,496.75 109.54,497.09C110.12,497.43 110.69,497.78 111.26,498.12C111.83,498.46 112.40,498.81 112.98,499.15C113.55,499.49 114.12,499.83 114.70,500.17C115.27,500.50 115.85,500.84 116.43,501.16C117.01,501.49 117.59,501.82 118.18,502.14C118.76,502.45 119.35,502.76 119.95,503.05C120.55,503.33 121.16,503.60 121.78,503.86C122.39,504.12 123.01,504.36 123.63,504.60C124.25,504.84 124.88,505.09 125.50,505.32C126.12,505.56 126.75,505.79 127.38,506.01C128.01,506.23 128.64,506.43 129.28,506.62C129.91,506.81 130.56,506.97 131.21,507.14C131.85,507.30 132.50,507.45 133.15,507.60C133.80,507.75 134.45,507.90 135.10,508.04C135.75,508.18 136.41,508.32 137.06,508.44C137.72,508.56 138.37,508.67 139.03,508.77C139.69,508.87 140.35,508.96 141.01,509.05C141.67,509.14 142.34,509.22 143.00,509.30C143.66,509.39 144.32,509.48 144.98,509.56C145.64,509.64 146.30,509.73 146.97,509.80C147.63,509.88 148.29,509.95 148.96,510.01C149.62,510.07 150.28,510.11 150.95,510.15C151.61,510.19 152.28,510.22 152.95,510.25C153.61,510.28 154.28,510.31 154.95,510.34C155.61,510.36 156.28,510.39 156.95,510.42C157.61,510.45 158.28,510.47 158.94,510.50C159.61,510.53 160.28,510.56 160.94,510.58C161.61,510.61 162.28,510.63 162.94,510.65C163.61,510.67 164.28,510.69 164.94,510.70C165.61,510.72 166.28,510.72 166.94,510.73C167.61,510.74 168.28,510.75 168.94,510.75C169.61,510.76 170.28,510.77 170.94,510.78C171.61,510.78 172.28,510.79 172.95,510.80C173.61,510.80 174.28,510.81 174.95,510.82C175.61,510.83 176.28,510.83 176.95,510.84C177.61,510.85 178.28,510.85 178.95,510.86C179.61,510.87 180.28,510.88 180.95,510.88C181.62,510.89 182.28,510.90 182.95,510.90C183.62,510.91 184.28,510.92 184.95,510.93C185.62,510.93 186.28,510.94 186.95,510.95C187.62,510.95 188.28,510.96 188.95,510.97C189.62,510.98 190.28,510.98 190.95,510.99C191.62,511.00 192.29,511.00 192.95,511.01C193.62,511.02 194.29,511.03 194.95,511.03C195.62,511.04 196.29,511.05 196.95,511.05C197.62,511.06 198.29,511.07 198.95,511.08C199.62,511.08 200.29,511.09 200.96,511.10C201.62,511.10 202.29,511.11 202.96,511.12C203.62,511.13 204.29,511.13 204.96,511.14C205.62,511.15 206.29,511.15 206.96,511.16C207.62,511.17 208.29,511.17 208.96,511.18C209.62,511.19 210.29,511.20 210.96,511.20C211.63,511.21 212.29,511.22 212.96,511.22C213.63,511.23 214.29,511.24 214.96,511.25C215.63,511.25 216.29,511.26 216.96,511.27C217.63,511.27 218.29,511.28 218.96,511.29C219.63,511.29 220.30,511.30 220.96,511.30C221.63,511.30 222.30,511.30 222.96,511.31C223.63,511.31 224.30,511.31 224.96,511.31C225.63,511.31 226.30,511.31 226.96,511.31C227.63,511.32 228.30,511.32 228.97,511.32C229.63,511.32 230.30,511.32 230.97,511.32C231.63,511.32 232.30,511.33 232.97,511.33C233.63,511.33 234.30,511.33 234.97,511.33C235.63,511.33 236.30,511.33 236.97,511.34C237.64,511.34 238.30,511.34 238.97,511.34C239.64,511.34 240.30,511.34 240.97,511.34C241.64,511.35 242.30,511.35 242.97,511.35C243.64,511.35 244.30,511.35 244.97,511.35C245.64,511.35 246.31,511.36 246.97,511.36C247.64,511.36 248.31,511.36 248.97,511.36C249.64,511.36 250.31,511.36 250.97,511.37C251.64,511.37 252.31,511.37 252.98,511.37C253.64,511.37 254.31,511.37 254.98,511.37C255.64,511.38 256.31,511.38 256.98,511.38C257.64,511.38 258.31,511.38 258.98,511.38C259.64,511.38 260.31,511.38 260.98,511.39C261.65,511.39 262.31,511.39 262.98,511.39C263.65,511.39 264.31,511.39 264.98,511.39C265.65,511.40 266.31,511.40 266.98,511.40C267.65,511.40 268.31,511.40 268.98,511.40C269.65,511.40 270.32,511.41 270.98,511.41C271.65,511.41 272.32,511.41 272.98,511.41C273.65,511.41 274.32,511.41 274.98,511.42C275.65,511.42 276.32,511.42 276.98,511.42C277.65,511.42 278.32,511.42 278.99,511.42C279.65,511.43 280.32,511.43 280.99,511.43C281.65,511.43 282.32,511.43 282.99,511.43C283.65,511.43 284.32,511.44 284.99,511.44C285.65,511.44 286.32,511.44 286.99,511.44C287.66,511.44 288.32,511.44 288.99,511.45C289.66,511.45 290.32,511.45 290.99,511.45C291.66,511.45 292.32,511.45 292.99,511.45C293.66,511.46 294.33,511.46 294.99,511.46C295.66,511.46 296.33,511.46 296.99,511.46C297.66,511.46 298.33,511.46 298.99,511.47C299.66,511.47 300.33,511.47 300.99,511.47C301.66,511.47 302.33,511.47 303.00,511.47C303.66,511.48 304.33,511.48 305.00,511.48C305.66,511.48 306.33,511.48 307.00,511.48C307.66,511.48 308.33,511.49 309.00,511.49C309.66,511.49 310.33,511.49 311.00,511.49C311.67,511.49 312.33,511.49 313.00,511.50C313.67,511.50 314.67,511.50 315.00,511.50" stroke="#000" stroke-width="1.7" stroke-dasharray="5.8 2.1 1.9 2.2"/>
<path d="M40.60,608.50C40.87,608.32 41.73,607.79 42.25,607.40C42.77,607.00 43.27,606.59 43.72,606.13C44.17,605.66 44.56,605.14 44.94,604.60C45.31,604.07 45.65,603.49 45.98,602.91C46.30,602.34 46.61,601.75 46.90,601.15C47.18,600.55 47.43,599.94 47.68,599.32C47.92,598.70 48.13,598.07 48.35,597.44C48.57,596.81 48.77,596.18 48.99,595.54C49.20,594.91 49.41,594.28 49.61,593.64C49.82,593.01 50.02,592.37 50.21,591.74C50.40,591.10 50.58,590.45 50.75,589.81C50.92,589.17 51.08,588.52 51.24,587.87C51.39,587.22 51.55,586.57 51.70,585.92C51.85,585.28 52.01,584.63 52.16,583.98C52.31,583.33 52.47,582.68 52.62,582.03C52.77,581.38 52.92,580.73 53.06,580.08C53.21,579.43 53.35,578.78 53.49,578.12C53.62,577.47 53.76,576.82 53.90,576.17C54.03,575.51 54.17,574.86 54.30,574.21C54.44,573.55 54.58,572.90 54.71,572.25C54.85,571.60 54.98,570.94 55.12,570.29C55.26,569.64 55.39,568.98 55.53,568.33C55.66,567.68 55.80,567.02 55.93,566.37C56.07,565.72 56.20,565.07 56.34,564.41C56.47,563.76 56.61,563.11 56.74,562.45C56.87,561.80 57.01,561.15 57.14,560.49C57.28,559.84 57.41,559.19 57.55,558.53C57.68,557.88 57.82,557.23 57.95,556.57C58.08,555.92 58.22,555.27 58.35,554.61C58.48,553.96 58.61,553.31 58.74,552.65C58.87,552.00 59.00,551.34 59.13,550.69C59.26,550.03 59.39,549.38 59.52,548.73C59.65,548.07 59.78,547.42 59.90,546.76C60.03,546.11 60.16,545.45 60.29,544.80C60.42,544.15 60.55,543.49 60.68,542.84C60.82,542.18 60.95,541.53 61.09,540.88C61.22,540.23 61.36,539.57 61.50,538.92C61.65,538.27 61.79,537.62 61.93,536.97C62.08,536.32 62.22,535.66 62.36,535.01C62.51,534.36 62.65,533.71 62.80,533.06C62.94,532.41 63.09,531.76 63.25,531.11C63.41,530.47 63.57,529.82 63.75,529.18C63.93,528.54 64.13,527.90 64.33,527.27C64.53,526.63 64.75,526.00 64.96,525.37C65.17,524.74 65.38,524.10 65.60,523.47C65.81,522.84 66.03,522.21 66.25,521.58C66.48,520.96 66.71,520.33 66.97,519.72C67.22,519.10 67.49,518.49 67.77,517.89C68.05,517.28 68.34,516.69 68.64,516.09C68.93,515.49 69.22,514.89 69.54,514.30C69.85,513.72 70.16,513.13 70.52,512.58C70.88,512.03 71.26,511.49 71.68,510.99C72.10,510.48 72.56,510.00 73.04,509.56C73.52,509.13 74.03,508.72 74.57,508.40C75.12,508.09 75.71,507.84 76.32,507.67C76.92,507.51 77.57,507.44 78.22,507.42C78.86,507.40 79.51,507.48 80.16,507.56C80.81,507.65 81.46,507.80 82.11,507.93C82.76,508.06 83.42,508.21 84.07,508.33C84.72,508.46 85.38,508.57 86.04,508.67C86.70,508.78 87.36,508.87 88.02,508.97C88.68,509.06 89.34,509.15 90.00,509.25C90.66,509.34 91.32,509.43 91.98,509.51C92.64,509.59 93.30,509.67 93.97,509.74C94.63,509.81 95.29,509.87 95.96,509.93C96.62,509.99 97.29,510.05 97.95,510.11C98.62,510.16 99.28,510.22 99.95,510.28C100.61,510.33 101.27,510.39 101.94,510.44C102.60,510.49 103.27,510.53 103.94,510.57C104.60,510.60 105.27,510.63 105.93,510.66C106.60,510.68 107.27,510.70 107.93,510.72C108.60,510.74 109.27,510.76 109.93,510.78C110.60,510.80 111.27,510.82 111.93,510.84C112.60,510.86 113.27,510.88 113.93,510.89C114.60,510.91 115.27,510.93 115.93,510.95C116.60,510.97 117.27,510.99 117.93,511.01C118.60,511.03 119.27,511.05 119.93,511.07C120.60,511.09 121.27,511.11 121.93,511.13C122.60,511.14 123.27,511.16 123.93,511.18C124.60,511.20 125.27,511.22 125.93,511.24C126.60,511.25 127.27,511.27 127.93,511.28C128.60,511.29 129.27,511.29 129.93,511.30C130.60,511.30 131.27,511.30 131.93,511.30C132.60,511.31 133.27,511.31 133.93,511.31C134.60,511.31 135.27,511.31 135.93,511.31C136.60,511.31 137.27,511.31 137.94,511.31C138.60,511.31 139.27,511.31 139.94,511.31C140.60,511.31 141.27,511.31 141.94,511.31C142.60,511.32 143.27,511.32 143.94,511.32C144.60,511.32 145.27,511.32 145.94,511.32C146.61,511.32 147.27,511.32 147.94,511.32C148.61,511.32 149.27,511.32 149.94,511.32C150.61,511.32 151.27,511.32 151.94,511.33C152.61,511.33 153.27,511.33 153.94,511.33C154.61,511.33 155.27,511.33 155.94,511.33C156.61,511.33 157.28,511.33 157.94,511.33C158.61,511.33 159.28,511.33 159.94,511.33C160.61,511.33 161.28,511.34 161.94,511.34C162.61,511.34 163.28,511.34 163.94,511.34C164.61,511.34 165.28,511.34 165.95,511.34C166.61,511.34 167.28,511.34 167.95,511.34C168.61,511.34 169.28,511.34 169.95,511.34C170.61,511.35 171.28,511.35 171.95,511.35C172.61,511.35 173.28,511.35 173.95,511.35C174.62,511.35 175.28,511.35 175.95,511.35C176.62,511.35 177.28,511.35 177.95,511.35C178.62,511.35 179.28,511.35 179.95,511.36C180.62,511.36 181.28,511.36 181.95,511.36C182.62,511.36 183.29,511.36 183.95,511.36C184.62,511.36 185.29,511.36 185.95,511.36C186.62,511.36 187.29,511.36 187.95,511.36C188.62,511.36 189.29,511.37 189.95,511.37C190.62,511.37 191.29,511.37 191.96,511.37C192.62,511.37 193.29,511.37 193.96,511.37C194.62,511.37 195.29,511.37 195.96,511.37C196.62,511.37 197.29,511.37 197.96,511.37C198.62,511.38 199.29,511.38 199.96,511.38C200.62,511.38 201.29,511.38 201.96,511.38C202.63,511.38 203.29,511.38 203.96,511.38C204.63,511.38 205.29,511.38 205.96,511.38C206.63,511.38 207.29,511.38 207.96,511.39C208.63,511.39 209.29,511.39 209.96,511.39C210.63,511.39 211.30,511.39 211.96,511.39C212.63,511.39 213.30,511.39 213.96,511.39C214.63,511.39 215.30,511.39 215.96,511.39C216.63,511.39 217.30,511.40 217.96,511.40C218.63,511.40 219.30,511.40 219.97,511.40C220.63,511.40 221.30,511.40 221.97,511.40C222.63,511.40 223.30,511.40 223.97,511.40C224.63,511.40 225.30,511.40 225.97,511.40C226.63,511.41 227.30,511.41 227.97,511.41C228.64,511.41 229.30,511.41 229.97,511.41C230.64,511.41 231.30,511.41 231.97,511.41C232.64,511.41 233.30,511.41 233.97,511.41C234.64,511.41 235.30,511.41 235.97,511.42C236.64,511.42 237.30,511.42 237.97,511.42C238.64,511.42 239.31,511.42 239.97,511.42C240.64,511.42 241.31,511.42 241.97,511.42C242.64,511.42 243.31,511.42 243.97,511.42C244.64,511.42 245.31,511.43 245.97,511.43C246.64,511.43 247.31,511.43 247.98,511.43C248.64,511.43 249.31,511.43 249.98,511.43C250.64,511.43 251.31,511.43 251.98,511.43C252.64,511.43 253.31,511.43 253.98,511.43C254.64,511.44 255.31,511.44 255.98,511.44C256.65,511.44 257.31,511.44 257.98,511.44C258.65,511.44 259.31,511.44 259.98,511.44C260.65,511.44 261.31,511.44 261.98,511.44C262.65,511.44 263.31,511.44 263.98,511.45C264.65,511.45 265.32,511.45 265.98,511.45C266.65,511.45 267.32,511.45 267.98,511.45C268.65,511.45 269.32,511.45 269.98,511.45C270.65,511.45 271.32,511.45 271.98,511.45C272.65,511.45 273.32,511.46 273.99,511.46C274.65,511.46 275.32,511.46 275.99,511.46C276.65,511.46 277.32,511.46 277.99,511.46C278.65,511.46 279.32,511.46 279.99,511.46C280.65,511.46 281.32,511.46 281.99,511.46C282.65,511.47 283.32,511.47 283.99,511.47C284.66,511.47 285.32,511.47 285.99,511.47C286.66,511.47 287.32,511.47 287.99,511.47C288.66,511.47 289.32,511.47 289.99,511.47C290.66,511.47 291.32,511.47 291.99,511.48C292.66,511.48 293.33,511.48 293.99,511.48C294.66,511.48 295.33,511.48 295.99,511.48C296.66,511.48 297.33,511.48 297.99,511.48C298.66,511.48 299.33,511.48 299.99,511.48C300.66,511.48 301.33,511.49 302.00,511.49C302.66,511.49 303.33,511.49 304.00,511.49C304.66,511.49 305.33,511.49 306.00,511.49C306.66,511.49 307.33,511.49 308.00,511.49C308.66,511.49 309.33,511.49 310.00,511.49C310.67,511.50 311.33,511.50 312.00,511.50C312.67,511.50 313.50,511.50 314.00,511.50C314.50,511.50 314.83,511.50 315.00,511.50" stroke="#00f" stroke-width="1.4" stroke-dasharray="none"/>
</g>
<g style="mix-blend-mode:multiply"><path d="M41.5 652.5v-4.0M41.5 483.5v4.0M55.17 652.5v-2.3M55.17 483.5v2.3M68.85 652.5v-2.3M68.85 483.5v2.3M82.53 652.5v-2.3M82.53 483.5v2.3M96.2 652.5v-4.0M96.2 483.5v4.0M109.88 652.5v-2.3M109.88 483.5v2.3M123.55 652.5v-2.3M123.55 483.5v2.3M137.22 652.5v-2.3M137.22 483.5v2.3M150.9 652.5v-4.0M150.9 483.5v4.0M164.57 652.5v-2.3M164.57 483.5v2.3M178.25 652.5v-2.3M178.25 483.5v2.3M191.93 652.5v-2.3M191.93 483.5v2.3M205.6 652.5v-4.0M205.6 483.5v4.0M219.28 652.5v-2.3M219.28 483.5v2.3M232.95 652.5v-2.3M232.95 483.5v2.3M246.62 652.5v-2.3M246.62 483.5v2.3M260.3 652.5v-4.0M260.3 483.5v4.0M273.98 652.5v-2.3M273.98 483.5v2.3M287.65 652.5v-2.3M287.65 483.5v2.3M301.32 652.5v-2.3M301.32 483.5v2.3M315 652.5v-4.0M315 483.5v4.0M41.5 652.5h4.0M315 652.5h-4.0M41.5 645.46h2.3M315 645.46h-2.3M41.5 638.42h2.3M315 638.42h-2.3M41.5 631.38h2.3M315 631.38h-2.3M41.5 624.33h4.0M315 624.33h-4.0M41.5 617.29h2.3M315 617.29h-2.3M41.5 610.25h2.3M315 610.25h-2.3M41.5 603.21h2.3M315 603.21h-2.3M41.5 596.17h4.0M315 596.17h-4.0M41.5 589.12h2.3M315 589.12h-2.3M41.5 582.08h2.3M315 582.08h-2.3M41.5 575.04h2.3M315 575.04h-2.3M41.5 568h4.0M315 568h-4.0M41.5 560.96h2.3M315 560.96h-2.3M41.5 553.92h2.3M315 553.92h-2.3M41.5 546.88h2.3M315 546.88h-2.3M41.5 539.83h4.0M315 539.83h-4.0M41.5 532.79h2.3M315 532.79h-2.3M41.5 525.75h2.3M315 525.75h-2.3M41.5 518.71h2.3M315 518.71h-2.3M41.5 511.67h4.0M315 511.67h-4.0M41.5 504.62h2.3M315 504.62h-2.3M41.5 497.58h2.3M315 497.58h-2.3M41.5 490.54h2.3M315 490.54h-2.3M41.5 483.5h4.0M315 483.5h-4.0" stroke="#333" stroke-width="0.9" fill="none"/>
<rect x="41.5" y="483.5" width="273.5" height="169" stroke="#333" stroke-width="1" fill="none"/></g>
<path d="M242.4 615.8h17.7" stroke="#f00" stroke-width="1.5" stroke-dasharray="6.3 2.5 6 20"/>
<text x="263.4" y="618.5" class="l">T/T<tspan font-size="7.6" dy="2.6" dx="0.3">c</tspan><tspan dy="-2.6" dx="0.3">=0.3</tspan></text>
<path d="M242.4 628h17.7" stroke="#000" stroke-width="1.5" stroke-dasharray="6.1 1.9 1.9 2"/>
<text x="263.4" y="630.7" class="l">T/T<tspan font-size="7.6" dy="2.6" dx="0.3">c</tspan><tspan dy="-2.6" dx="0.3">=0.6</tspan></text>
<path d="M242.4 640.2h17.7" stroke="#00f" stroke-width="1.5" stroke-dasharray="none"/>
<text x="263.4" y="642.9" class="l">T/T<tspan font-size="7.6" dy="2.6" dx="0.3">c</tspan><tspan dy="-2.6" dx="0.3">=0.9</tspan></text>
<text x="84.39" y="706.4" class="cb" font-size="16">(</text>
<text transform="translate(90.5 706.4) scale(1.08 1)" class="cb" font-size="13.4">e</text>
<text x="97.71" y="706.4" class="cb" font-size="16">)</text>
<text transform="translate(108.17 706.4) scale(1.15 1)" class="ci" font-size="13.4">z</text>
<path d="M118.92 701.5H128.03M118.92 704.5H128.03" stroke="#000" stroke-width="0.85"/>
<text x="132.66" y="706.4" class="cr" font-size="13.4">1</text>
<text x="139.66" y="706.4" class="cr" font-size="13.4">,</text>
<text transform="translate(147.99 706.4) scale(1.2 1)" class="ci" font-size="13.4">m</text>
<text x="160.03" y="701.1" class="cr" font-size="8.8">2</text>
<path d="M170.5 701.5H179.61M170.5 704.5H179.61" stroke="#000" stroke-width="0.85"/>
<text x="184.25" y="706.4" class="cr" font-size="13.4">3</text>
<text x="192.57" y="706.4" class="cr" font-size="13.4">/</text>
<text x="197.93" y="706.4" class="cr" font-size="13.4">4</text>
<text x="204.92" y="706.4" class="cr" font-size="13.4">,</text>
<text transform="translate(212.81 706.4) scale(0.95 1)" class="ci" font-size="13.4">b</text>
<path d="M223.49 701.5H232.6M223.49 704.5H232.6" stroke="#000" stroke-width="0.85"/>
<text x="237.24" y="706.4" class="cr" font-size="13.4">0</text>
<text x="401" y="666.8" text-anchor="middle" class="t">0</text>
<text x="455.7" y="666.8" text-anchor="middle" class="t">20</text>
<text x="510.4" y="666.8" text-anchor="middle" class="t">40</text>
<text x="565.1" y="666.8" text-anchor="middle" class="t">60</text>
<text x="619.8" y="666.8" text-anchor="middle" class="t">80</text>
<text x="674.5" y="666.8" text-anchor="middle" class="t">100</text>
<text x="398.6" y="657" text-anchor="end" class="t">0.0</text>
<text x="398.6" y="628.83" text-anchor="end" class="t">0.2</text>
<text x="398.6" y="600.67" text-anchor="end" class="t">0.4</text>
<text x="398.6" y="572.5" text-anchor="end" class="t">0.6</text>
<text x="398.6" y="544.33" text-anchor="end" class="t">0.8</text>
<text x="398.6" y="516.17" text-anchor="end" class="t">1.0</text>
<text x="398.6" y="488" text-anchor="end" class="t">1.2</text>
<text x="537.75" y="687.1" text-anchor="middle" class="t"><tspan font-style="italic" font-family="Liberation Serif" font-size="13.4">ω</tspan><tspan font-family="Liberation Serif" font-size="14.5" dy="1.6" dx="-0.3">/</tspan><tspan dy="-1.6" dx="-0.6">T</tspan></text>
<text transform="translate(371.3 567.8) rotate(-90)" text-anchor="middle" class="t">Re<tspan font-family="Liberation Serif" font-size="14">[</tspan><tspan font-style="italic" font-family="Liberation Serif" font-size="14.5">σ</tspan><tspan font-family="Liberation Serif" font-size="14">]</tspan></text>
<clipPath id="cpf"><rect x="400.2" y="482.7" width="275.1" height="170.6"/></clipPath>
<g clip-path="url(#cpf)" fill="none">
<path d="M401.30,652.50C401.63,652.50 402.64,652.50 403.31,652.50C403.97,652.50 404.64,652.50 405.31,652.50C405.98,652.50 406.65,652.50 407.32,652.50C407.98,652.50 408.65,652.50 409.32,652.50C409.99,652.50 410.66,652.50 411.33,652.50C411.99,652.50 412.66,652.50 413.33,652.50C414.00,652.50 414.67,652.50 415.34,652.50C416.00,652.50 416.67,652.50 417.34,652.50C418.01,652.50 418.68,652.50 419.35,652.50C420.01,652.50 420.68,652.50 421.35,652.50C422.02,652.50 422.69,652.50 423.36,652.50C424.02,652.50 424.69,652.50 425.36,652.50C426.03,652.50 426.70,652.50 427.37,652.50C428.03,652.50 428.70,652.50 429.37,652.50C430.04,652.50 430.71,652.50 431.38,652.50C432.05,652.50 432.71,652.50 433.38,652.50C434.05,652.50 434.72,652.50 435.39,652.50C436.06,652.50 436.72,652.50 437.39,652.50C438.06,652.50 438.73,652.51 439.39,652.50C440.06,652.49 440.72,652.49 441.39,652.45C442.05,652.42 442.71,652.38 443.37,652.28C444.03,652.19 444.69,652.10 445.34,651.88C445.99,651.67 446.64,651.25 447.28,650.99C447.91,650.73 448.54,650.58 449.16,650.33C449.77,650.08 450.37,649.80 450.95,649.49C451.54,649.18 452.10,648.83 452.66,648.46C453.21,648.09 453.75,647.70 454.26,647.28C454.78,646.86 455.27,646.42 455.75,645.96C456.22,645.50 456.68,645.01 457.11,644.50C457.54,644.00 457.96,643.48 458.34,642.94C458.72,642.40 459.07,641.83 459.40,641.25C459.72,640.68 460.01,640.08 460.30,639.47C460.59,638.87 460.85,638.26 461.11,637.64C461.37,637.03 461.62,636.41 461.87,635.79C462.12,635.17 462.36,634.55 462.59,633.92C462.83,633.29 463.05,632.66 463.27,632.03C463.49,631.40 463.70,630.77 463.91,630.13C464.13,629.50 464.34,628.87 464.54,628.23C464.75,627.59 464.95,626.96 465.15,626.32C465.34,625.68 465.53,625.04 465.71,624.40C465.89,623.75 466.07,623.11 466.24,622.46C466.41,621.82 466.59,621.17 466.75,620.52C466.92,619.88 467.09,619.23 467.24,618.58C467.40,617.93 467.55,617.28 467.69,616.63C467.83,615.97 467.96,615.32 468.10,614.66C468.23,614.01 468.36,613.35 468.49,612.70C468.63,612.04 468.76,611.39 468.89,610.73C469.03,610.08 469.17,609.43 469.31,608.77C469.45,608.12 469.59,607.47 469.73,606.81C469.87,606.16 470.02,605.51 470.16,604.85C470.30,604.20 470.44,603.55 470.59,602.89C470.73,602.24 470.87,601.59 471.01,600.93C471.15,600.28 471.29,599.63 471.43,598.97C471.57,598.32 471.71,597.67 471.85,597.01C471.99,596.36 472.13,595.71 472.26,595.05C472.40,594.40 472.53,593.74 472.65,593.08C472.78,592.43 472.91,591.77 473.03,591.11C473.14,590.46 473.26,589.80 473.37,589.14C473.49,588.48 473.60,587.82 473.71,587.16C473.82,586.50 473.92,585.84 474.03,585.18C474.14,584.52 474.25,583.86 474.36,583.21C474.46,582.55 474.57,581.89 474.68,581.23C474.79,580.57 474.90,579.91 475.00,579.25C475.11,578.59 475.22,577.93 475.33,577.27C475.44,576.61 475.54,575.95 475.65,575.29C475.76,574.63 475.87,573.97 475.98,573.31C476.09,572.65 476.19,571.99 476.31,571.33C476.42,570.68 476.54,570.02 476.66,569.36C476.78,568.70 476.91,568.05 477.04,567.39C477.17,566.74 477.30,566.08 477.43,565.43C477.57,564.77 477.70,564.12 477.83,563.46C477.97,562.81 478.10,562.15 478.23,561.49C478.35,560.84 478.48,560.18 478.60,559.53C478.72,558.87 478.84,558.21 478.96,557.55C479.07,556.89 479.19,556.24 479.31,555.58C479.42,554.92 479.54,554.26 479.66,553.60C479.78,552.95 479.90,552.29 480.02,551.63C480.15,550.98 480.28,550.32 480.41,549.66C480.54,549.01 480.67,548.35 480.81,547.70C480.94,547.05 481.08,546.39 481.21,545.74C481.35,545.08 481.48,544.43 481.62,543.77C481.76,543.12 481.90,542.47 482.04,541.81C482.18,541.16 482.33,540.51 482.49,539.86C482.64,539.21 482.80,538.56 482.96,537.91C483.12,537.26 483.28,536.61 483.45,535.97C483.61,535.32 483.78,534.67 483.95,534.03C484.13,533.38 484.31,532.74 484.51,532.10C484.71,531.46 484.92,530.83 485.14,530.20C485.37,529.57 485.61,528.95 485.84,528.33C486.08,527.70 486.33,527.08 486.57,526.46C486.82,525.84 487.07,525.22 487.33,524.60C487.59,523.99 487.86,523.38 488.13,522.77C488.41,522.16 488.68,521.55 488.96,520.94C489.25,520.34 489.53,519.73 489.84,519.14C490.15,518.55 490.47,517.97 490.82,517.40C491.16,516.83 491.52,516.27 491.89,515.71C492.26,515.16 492.64,514.61 493.04,514.07C493.43,513.53 493.84,513.00 494.26,512.49C494.68,511.97 495.12,511.47 495.57,510.98C496.02,510.48 496.47,509.99 496.95,509.53C497.43,509.07 497.92,508.62 498.43,508.19C498.94,507.77 499.47,507.37 500.02,506.99C500.56,506.62 501.12,506.27 501.71,505.96C502.29,505.66 502.90,505.40 503.52,505.17C504.13,504.94 504.77,504.75 505.41,504.58C506.06,504.40 506.71,504.26 507.36,504.13C508.01,504.01 508.68,503.92 509.34,503.84C510.00,503.76 510.66,503.70 511.33,503.65C511.99,503.60 512.66,503.57 513.33,503.55C514.00,503.52 514.66,503.51 515.33,503.51C516.00,503.50 516.67,503.50 517.34,503.51C518.01,503.51 518.67,503.52 519.34,503.54C520.01,503.56 520.68,503.59 521.34,503.62C522.01,503.66 522.68,503.70 523.34,503.75C524.01,503.79 524.68,503.84 525.34,503.89C526.01,503.94 526.68,504.00 527.34,504.05C528.01,504.11 528.67,504.17 529.34,504.23C530.00,504.30 530.67,504.37 531.33,504.44C532.00,504.51 532.66,504.58 533.33,504.65C533.99,504.72 534.66,504.79 535.32,504.86C535.99,504.93 536.65,505.00 537.31,505.07C537.98,505.14 538.64,505.22 539.31,505.28C539.97,505.35 540.64,505.42 541.30,505.48C541.97,505.54 542.64,505.60 543.30,505.66C543.97,505.72 544.63,505.77 545.30,505.83C545.96,505.88 546.63,505.94 547.30,505.99C547.96,506.05 548.63,506.10 549.30,506.16C549.96,506.21 550.63,506.27 551.29,506.32C551.96,506.38 552.63,506.43 553.29,506.48C553.96,506.54 554.63,506.59 555.29,506.64C555.96,506.69 556.63,506.73 557.29,506.77C557.96,506.82 558.63,506.85 559.29,506.89C559.96,506.93 560.63,506.97 561.30,507.01C561.96,507.05 562.63,507.09 563.30,507.13C563.96,507.16 564.63,507.20 565.30,507.24C565.97,507.28 566.63,507.32 567.30,507.36C567.97,507.40 568.64,507.43 569.30,507.47C569.97,507.51 570.64,507.55 571.30,507.59C571.97,507.63 572.64,507.66 573.31,507.70C573.97,507.74 574.64,507.78 575.31,507.82C575.97,507.86 576.64,507.90 577.31,507.94C577.98,507.98 578.64,508.02 579.31,508.06C579.98,508.10 580.65,508.14 581.31,508.18C581.98,508.22 582.65,508.26 583.31,508.30C583.98,508.34 584.65,508.38 585.32,508.42C585.98,508.46 586.65,508.50 587.32,508.54C587.98,508.58 588.65,508.62 589.32,508.66C589.99,508.70 590.65,508.74 591.32,508.78C591.99,508.82 592.65,508.86 593.32,508.90C593.99,508.94 594.66,508.98 595.32,509.02C595.99,509.06 596.66,509.10 597.32,509.14C597.99,509.17 598.66,509.21 599.33,509.25C599.99,509.29 600.66,509.33 601.33,509.37C602.00,509.41 602.66,509.45 603.33,509.49C604.00,509.52 604.66,509.55 605.33,509.58C606.00,509.60 606.67,509.62 607.34,509.64C608.00,509.66 608.67,509.67 609.34,509.68C610.01,509.70 610.68,509.71 611.35,509.72C612.01,509.74 612.68,509.75 613.35,509.76C614.02,509.78 614.69,509.79 615.35,509.80C616.02,509.82 616.69,509.83 617.36,509.84C618.03,509.86 618.70,509.87 619.36,509.88C620.03,509.90 620.70,509.91 621.37,509.92C622.04,509.94 622.71,509.95 623.37,509.96C624.04,509.98 624.71,509.99 625.38,510.00C626.05,510.02 626.72,510.03 627.38,510.04C628.05,510.06 628.72,510.07 629.39,510.08C630.06,510.10 630.72,510.11 631.39,510.12C632.06,510.14 632.73,510.15 633.40,510.16C634.07,510.17 634.73,510.19 635.40,510.20C636.07,510.21 636.74,510.21 637.41,510.22C638.08,510.23 638.74,510.24 639.41,510.24C640.08,510.25 640.75,510.26 641.42,510.26C642.09,510.27 642.75,510.28 643.42,510.28C644.09,510.29 644.76,510.30 645.43,510.30C646.10,510.31 646.76,510.32 647.43,510.32C648.10,510.33 648.77,510.34 649.44,510.34C650.11,510.35 650.77,510.36 651.44,510.37C652.11,510.37 652.78,510.38 653.45,510.39C654.12,510.39 654.78,510.40 655.45,510.41C656.12,510.41 656.79,510.42 657.46,510.43C658.13,510.43 658.79,510.44 659.46,510.45C660.13,510.45 660.80,510.46 661.47,510.47C662.14,510.47 662.80,510.48 663.47,510.49C664.14,510.49 664.81,510.50 665.48,510.51C666.15,510.51 666.81,510.52 667.48,510.53C668.15,510.54 668.82,510.54 669.49,510.55C670.16,510.56 670.82,510.56 671.49,510.57C672.16,510.58 673.00,510.58 673.50,510.59C674.00,510.59 674.33,510.60 674.50,510.60" stroke="#f00" stroke-width="1.5" stroke-dasharray="5.8 2.7"/>
<path d="M401.30,652.47C401.63,652.44 402.63,652.38 403.29,652.31C403.95,652.24 404.61,652.16 405.28,652.06C405.94,651.96 406.60,651.84 407.27,651.72C407.93,651.60 408.60,651.47 409.26,651.34C409.92,651.22 410.59,651.08 411.25,650.97C411.91,650.86 412.57,650.84 413.20,650.70C413.83,650.55 414.45,650.38 415.03,650.12C415.62,649.86 416.17,649.51 416.70,649.14C417.24,648.78 417.76,648.35 418.26,647.91C418.76,647.48 419.25,647.02 419.72,646.55C420.19,646.08 420.64,645.59 421.08,645.09C421.51,644.59 421.93,644.07 422.33,643.54C422.72,643.01 423.09,642.45 423.43,641.89C423.78,641.32 424.11,640.74 424.42,640.15C424.72,639.56 425.02,638.96 425.29,638.35C425.56,637.74 425.81,637.13 426.05,636.50C426.29,635.88 426.52,635.25 426.74,634.62C426.96,633.99 427.18,633.36 427.38,632.73C427.59,632.09 427.79,631.46 427.98,630.82C428.18,630.18 428.36,629.54 428.55,628.89C428.73,628.25 428.91,627.61 429.09,626.96C429.26,626.32 429.43,625.67 429.60,625.03C429.77,624.38 429.93,623.73 430.10,623.09C430.26,622.44 430.42,621.79 430.58,621.14C430.73,620.49 430.88,619.84 431.03,619.19C431.17,618.54 431.30,617.88 431.43,617.23C431.56,616.57 431.69,615.92 431.81,615.26C431.94,614.60 432.06,613.95 432.18,613.29C432.30,612.63 432.43,611.98 432.55,611.32C432.67,610.66 432.80,610.01 432.92,609.35C433.04,608.70 433.17,608.04 433.29,607.38C433.41,606.73 433.53,606.07 433.65,605.41C433.76,604.75 433.88,604.09 433.99,603.44C434.10,602.78 434.21,602.12 434.32,601.46C434.43,600.80 434.54,600.14 434.65,599.48C434.75,598.82 434.86,598.16 434.96,597.50C435.06,596.84 435.16,596.18 435.25,595.52C435.35,594.86 435.44,594.20 435.53,593.54C435.62,592.88 435.71,592.21 435.80,591.55C435.89,590.89 435.98,590.23 436.07,589.57C436.16,588.90 436.25,588.24 436.34,587.58C436.43,586.92 436.52,586.26 436.61,585.60C436.70,584.93 436.79,584.27 436.88,583.61C436.97,582.95 437.06,582.29 437.16,581.62C437.25,580.96 437.34,580.30 437.43,579.64C437.52,578.98 437.62,578.32 437.71,577.66C437.81,576.99 437.91,576.33 438.01,575.67C438.11,575.01 438.21,574.35 438.31,573.69C438.41,573.03 438.52,572.37 438.62,571.71C438.72,571.05 438.82,570.39 438.92,569.73C439.02,569.07 439.13,568.41 439.23,567.75C439.33,567.09 439.43,566.43 439.53,565.77C439.63,565.11 439.74,564.45 439.84,563.79C439.94,563.13 440.04,562.47 440.14,561.81C440.24,561.15 440.35,560.49 440.45,559.83C440.55,559.17 440.65,558.51 440.75,557.85C440.85,557.19 440.96,556.53 441.06,555.87C441.16,555.21 441.26,554.55 441.36,553.89C441.46,553.23 441.57,552.57 441.67,551.91C441.77,551.25 441.87,550.59 441.97,549.93C442.07,549.27 442.18,548.61 442.28,547.95C442.38,547.29 442.49,546.63 442.59,545.97C442.70,545.31 442.81,544.65 442.92,543.99C443.04,543.33 443.16,542.68 443.27,542.02C443.39,541.36 443.51,540.70 443.62,540.05C443.74,539.39 443.86,538.73 443.98,538.07C444.10,537.42 444.21,536.76 444.33,536.10C444.45,535.44 444.57,534.79 444.69,534.13C444.81,533.47 444.93,532.81 445.06,532.16C445.20,531.51 445.34,530.86 445.49,530.21C445.65,529.56 445.82,528.91 445.99,528.27C446.16,527.62 446.34,526.98 446.52,526.33C446.70,525.69 446.88,525.05 447.06,524.40C447.24,523.76 447.42,523.12 447.60,522.48C447.79,521.83 447.97,521.19 448.17,520.56C448.38,519.92 448.59,519.29 448.82,518.67C449.06,518.04 449.31,517.43 449.58,516.82C449.84,516.20 450.12,515.60 450.40,514.99C450.67,514.38 450.95,513.77 451.24,513.18C451.54,512.58 451.83,511.98 452.17,511.41C452.51,510.85 452.87,510.30 453.27,509.78C453.68,509.26 454.12,508.76 454.58,508.29C455.04,507.82 455.52,507.36 456.04,506.97C456.56,506.58 457.11,506.23 457.69,505.94C458.27,505.65 458.89,505.42 459.51,505.24C460.14,505.06 460.79,504.94 461.43,504.87C462.08,504.79 462.74,504.80 463.41,504.80C464.07,504.80 464.73,504.85 465.40,504.89C466.07,504.93 466.73,504.98 467.40,505.03C468.06,505.08 468.73,505.14 469.39,505.21C470.06,505.28 470.72,505.35 471.38,505.43C472.05,505.51 472.71,505.60 473.37,505.68C474.03,505.76 474.70,505.85 475.36,505.93C476.02,506.02 476.68,506.10 477.35,506.19C478.01,506.27 478.67,506.36 479.33,506.45C480.00,506.54 480.66,506.63 481.32,506.72C481.98,506.81 482.64,506.90 483.30,506.99C483.97,507.08 484.63,507.17 485.29,507.26C485.95,507.35 486.61,507.44 487.28,507.54C487.94,507.63 488.60,507.72 489.26,507.81C489.92,507.90 490.58,507.99 491.25,508.08C491.91,508.17 492.57,508.26 493.23,508.34C493.89,508.43 494.56,508.51 495.22,508.58C495.89,508.65 496.55,508.71 497.22,508.77C497.88,508.83 498.55,508.88 499.21,508.93C499.88,508.99 500.54,509.04 501.21,509.09C501.88,509.14 502.54,509.19 503.21,509.24C503.87,509.28 504.54,509.32 505.21,509.36C505.88,509.40 506.54,509.43 507.21,509.47C507.88,509.50 508.54,509.53 509.21,509.57C509.88,509.60 510.55,509.63 511.21,509.67C511.88,509.70 512.55,509.73 513.21,509.76C513.88,509.80 514.55,509.83 515.22,509.86C515.88,509.90 516.55,509.93 517.22,509.96C517.88,509.99 518.55,510.03 519.22,510.06C519.89,510.09 520.55,510.12 521.22,510.15C521.89,510.18 522.55,510.21 523.22,510.24C523.89,510.28 524.56,510.31 525.22,510.34C525.89,510.37 526.56,510.40 527.23,510.42C527.89,510.45 528.56,510.48 529.23,510.51C529.89,510.54 530.56,510.56 531.23,510.58C531.90,510.60 532.56,510.62 533.23,510.63C533.90,510.65 534.57,510.66 535.24,510.67C535.90,510.68 536.57,510.69 537.24,510.70C537.91,510.71 538.58,510.72 539.24,510.73C539.91,510.74 540.58,510.76 541.25,510.77C541.91,510.78 542.58,510.79 543.25,510.80C543.92,510.81 544.59,510.82 545.25,510.83C545.92,510.84 546.59,510.85 547.26,510.86C547.93,510.88 548.59,510.89 549.26,510.90C549.93,510.91 550.60,510.92 551.27,510.93C551.93,510.94 552.60,510.95 553.27,510.96C553.94,510.97 554.60,510.98 555.27,511.00C555.94,511.01 556.61,511.02 557.28,511.03C557.94,511.04 558.61,511.05 559.28,511.06C559.95,511.07 560.62,511.08 561.28,511.09C561.95,511.10 562.62,511.12 563.29,511.13C563.95,511.14 564.62,511.15 565.29,511.16C565.96,511.17 566.63,511.18 567.29,511.19C567.96,511.20 568.63,511.21 569.30,511.22C569.97,511.24 570.63,511.25 571.30,511.26C571.97,511.27 572.64,511.28 573.30,511.29C573.97,511.30 574.64,511.31 575.31,511.32C575.98,511.33 576.64,511.35 577.31,511.35C577.98,511.36 578.65,511.37 579.32,511.38C579.98,511.39 580.65,511.39 581.32,511.40C581.99,511.40 582.66,511.40 583.32,511.41C583.99,511.41 584.66,511.41 585.33,511.41C586.00,511.41 586.66,511.41 587.33,511.42C588.00,511.42 588.67,511.42 589.34,511.42C590.00,511.42 590.67,511.42 591.34,511.42C592.01,511.43 592.67,511.43 593.34,511.43C594.01,511.43 594.68,511.43 595.35,511.43C596.01,511.43 596.68,511.44 597.35,511.44C598.02,511.44 598.69,511.44 599.35,511.44C600.02,511.44 600.69,511.44 601.36,511.45C602.03,511.45 602.69,511.45 603.36,511.45C604.03,511.45 604.70,511.45 605.37,511.45C606.03,511.46 606.70,511.46 607.37,511.46C608.04,511.46 608.71,511.46 609.37,511.46C610.04,511.46 610.71,511.46 611.38,511.47C612.05,511.47 612.71,511.47 613.38,511.47C614.05,511.47 614.72,511.47 615.39,511.47C616.05,511.48 616.72,511.48 617.39,511.48C618.06,511.48 618.73,511.48 619.39,511.48C620.06,511.48 620.73,511.49 621.40,511.49C622.07,511.49 622.73,511.49 623.40,511.49C624.07,511.49 624.74,511.49 625.40,511.50C626.07,511.50 626.74,511.50 627.41,511.50C628.08,511.50 628.74,511.50 629.41,511.50C630.08,511.51 630.75,511.51 631.42,511.51C632.08,511.51 632.75,511.51 633.42,511.51C634.09,511.51 634.76,511.52 635.42,511.52C636.09,511.52 636.76,511.52 637.43,511.52C638.10,511.52 638.76,511.52 639.43,511.53C640.10,511.53 640.77,511.53 641.44,511.53C642.10,511.53 642.77,511.53 643.44,511.53C644.11,511.54 644.78,511.54 645.44,511.54C646.11,511.54 646.78,511.54 647.45,511.54C648.12,511.54 648.78,511.55 649.45,511.55C650.12,511.55 650.79,511.55 651.46,511.55C652.12,511.55 652.79,511.55 653.46,511.56C654.13,511.56 654.80,511.56 655.46,511.56C656.13,511.56 656.80,511.56 657.47,511.56C658.13,511.57 658.80,511.57 659.47,511.57C660.14,511.57 660.81,511.57 661.47,511.57C662.14,511.57 662.81,511.58 663.48,511.58C664.15,511.58 664.81,511.58 665.48,511.58C666.15,511.58 666.82,511.58 667.49,511.59C668.15,511.59 668.82,511.59 669.49,511.59C670.16,511.59 670.83,511.59 671.49,511.59C672.16,511.60 673.00,511.60 673.50,511.60C674.00,511.60 674.33,511.60 674.50,511.60" stroke="#000" stroke-width="1.7" stroke-dasharray="5.8 2.1 1.9 2.2"/>
<path d="M400.60,596.30C400.91,596.19 401.86,595.88 402.48,595.64C403.09,595.39 403.70,595.14 404.27,594.83C404.85,594.52 405.40,594.16 405.93,593.77C406.45,593.38 406.96,592.94 407.44,592.49C407.93,592.05 408.39,591.57 408.83,591.07C409.27,590.58 409.69,590.06 410.10,589.54C410.51,589.02 410.91,588.49 411.30,587.94C411.68,587.40 412.05,586.85 412.40,586.28C412.75,585.72 413.07,585.14 413.38,584.55C413.70,583.96 413.99,583.37 414.29,582.77C414.59,582.17 414.88,581.58 415.17,580.97C415.45,580.37 415.74,579.77 416.01,579.16C416.27,578.55 416.52,577.93 416.76,577.31C417.00,576.69 417.22,576.06 417.44,575.43C417.66,574.81 417.88,574.17 418.09,573.54C418.30,572.91 418.52,572.28 418.73,571.65C418.93,571.01 419.14,570.38 419.34,569.74C419.53,569.11 419.72,568.47 419.91,567.83C420.10,567.19 420.28,566.55 420.46,565.91C420.65,565.26 420.83,564.62 421.01,563.98C421.20,563.34 421.38,562.70 421.56,562.06C421.74,561.42 421.93,560.78 422.11,560.13C422.29,559.49 422.47,558.85 422.66,558.21C422.84,557.57 423.03,556.93 423.22,556.29C423.40,555.65 423.59,555.01 423.78,554.37C423.97,553.73 424.16,553.09 424.35,552.46C424.54,551.82 424.73,551.18 424.92,550.54C425.11,549.90 425.30,549.26 425.49,548.62C425.68,547.98 425.87,547.34 426.06,546.70C426.26,546.07 426.45,545.43 426.63,544.79C426.82,544.15 427.01,543.51 427.20,542.87C427.39,542.23 427.58,541.59 427.77,540.95C427.96,540.31 428.15,539.67 428.34,539.03C428.53,538.39 428.72,537.75 428.90,537.12C429.09,536.48 429.28,535.84 429.47,535.20C429.66,534.56 429.85,533.92 430.04,533.28C430.24,532.64 430.43,532.01 430.64,531.37C430.85,530.74 431.07,530.11 431.29,529.48C431.51,528.85 431.75,528.23 431.98,527.61C432.22,526.98 432.45,526.36 432.69,525.74C432.93,525.11 433.16,524.49 433.41,523.87C433.65,523.25 433.88,522.62 434.14,522.01C434.39,521.39 434.65,520.78 434.93,520.17C435.20,519.57 435.50,518.98 435.81,518.38C436.11,517.79 436.43,517.20 436.75,516.62C437.07,516.04 437.38,515.45 437.73,514.89C438.09,514.33 438.44,513.78 438.85,513.26C439.26,512.75 439.71,512.27 440.18,511.80C440.64,511.34 441.14,510.89 441.65,510.48C442.16,510.06 442.68,509.64 443.23,509.30C443.78,508.96 444.35,508.67 444.95,508.43C445.55,508.19 446.19,508.03 446.83,507.88C447.47,507.73 448.13,507.61 448.78,507.53C449.43,507.44 450.09,507.38 450.75,507.37C451.40,507.36 452.06,507.41 452.72,507.48C453.38,507.54 454.04,507.64 454.70,507.74C455.35,507.83 456.01,507.94 456.67,508.05C457.33,508.15 457.99,508.26 458.64,508.37C459.30,508.48 459.96,508.60 460.62,508.71C461.27,508.83 461.93,508.94 462.59,509.05C463.24,509.16 463.90,509.28 464.56,509.38C465.22,509.48 465.88,509.58 466.54,509.66C467.20,509.74 467.86,509.81 468.52,509.88C469.19,509.95 469.85,510.00 470.52,510.06C471.18,510.12 471.84,510.18 472.51,510.23C473.17,510.29 473.84,510.35 474.50,510.40C475.17,510.45 475.83,510.50 476.50,510.54C477.16,510.58 477.83,510.62 478.49,510.65C479.16,510.68 479.83,510.70 480.49,510.73C481.16,510.76 481.82,510.78 482.49,510.80C483.16,510.83 483.82,510.85 484.49,510.87C485.16,510.90 485.82,510.92 486.49,510.94C487.15,510.96 487.82,510.97 488.49,510.99C489.15,511.00 489.82,511.01 490.49,511.01C491.15,511.02 491.82,511.02 492.49,511.03C493.15,511.03 493.82,511.04 494.49,511.04C495.15,511.05 495.82,511.05 496.49,511.06C497.15,511.06 497.82,511.06 498.49,511.07C499.15,511.07 499.82,511.08 500.49,511.08C501.15,511.09 501.82,511.09 502.49,511.09C503.15,511.10 503.82,511.10 504.49,511.11C505.15,511.11 505.82,511.12 506.49,511.12C507.16,511.12 507.82,511.13 508.49,511.13C509.16,511.14 509.82,511.14 510.49,511.15C511.16,511.15 511.82,511.16 512.49,511.16C513.16,511.16 513.82,511.17 514.49,511.17C515.16,511.18 515.82,511.18 516.49,511.19C517.16,511.19 517.82,511.19 518.49,511.20C519.16,511.20 519.82,511.21 520.49,511.21C521.16,511.22 521.82,511.22 522.49,511.22C523.16,511.23 523.82,511.23 524.49,511.24C525.16,511.24 525.82,511.25 526.49,511.25C527.16,511.26 527.82,511.26 528.49,511.26C529.16,511.27 529.82,511.27 530.49,511.28C531.16,511.28 531.82,511.29 532.49,511.29C533.16,511.29 533.82,511.30 534.49,511.30C535.16,511.31 535.82,511.31 536.49,511.32C537.16,511.32 537.82,511.32 538.49,511.33C539.16,511.33 539.82,511.34 540.49,511.34C541.16,511.35 541.82,511.35 542.49,511.36C543.16,511.36 543.82,511.36 544.49,511.37C545.16,511.37 545.82,511.38 546.49,511.38C547.16,511.39 547.82,511.39 548.49,511.39C549.16,511.40 549.82,511.40 550.49,511.41C551.16,511.41 551.82,511.42 552.49,511.42C553.16,511.42 553.82,511.43 554.49,511.43C555.16,511.44 555.82,511.44 556.49,511.45C557.16,511.45 557.82,511.46 558.49,511.46C559.16,511.46 559.82,511.47 560.49,511.47C561.16,511.48 561.82,511.48 562.49,511.49C563.16,511.49 563.83,511.49 564.49,511.50C565.16,511.50 565.83,511.51 566.49,511.51C567.16,511.52 567.83,511.52 568.49,511.52C569.16,511.53 569.83,511.53 570.49,511.54C571.16,511.54 571.83,511.55 572.49,511.55C573.16,511.56 573.83,511.56 574.49,511.56C575.16,511.57 575.83,511.57 576.49,511.58C577.16,511.58 577.83,511.59 578.49,511.59C579.16,511.59 579.83,511.59 580.49,511.60C581.16,511.60 581.83,511.60 582.49,511.60C583.16,511.60 583.83,511.60 584.49,511.60C585.16,511.60 585.83,511.60 586.49,511.60C587.16,511.60 587.83,511.60 588.49,511.60C589.16,511.60 589.83,511.60 590.49,511.60C591.16,511.60 591.83,511.60 592.49,511.60C593.16,511.60 593.83,511.60 594.49,511.60C595.16,511.60 595.83,511.60 596.49,511.60C597.16,511.60 597.83,511.60 598.49,511.60C599.16,511.60 599.83,511.60 600.49,511.60C601.16,511.60 601.83,511.60 602.49,511.60C603.16,511.60 603.83,511.60 604.49,511.60C605.16,511.60 605.83,511.60 606.49,511.60C607.16,511.60 607.83,511.60 608.49,511.60C609.16,511.60 609.83,511.60 610.49,511.60C611.16,511.60 611.83,511.60 612.50,511.60C613.16,511.60 613.83,511.60 614.50,511.60C615.16,511.60 615.83,511.60 616.50,511.60C617.16,511.60 617.83,511.60 618.50,511.60C619.16,511.60 619.83,511.60 620.50,511.60C621.16,511.60 621.83,511.60 622.50,511.60C623.16,511.60 623.83,511.60 624.50,511.60C625.16,511.60 625.83,511.60 626.50,511.60C627.16,511.60 627.83,511.60 628.50,511.60C629.16,511.60 629.83,511.60 630.50,511.60C631.16,511.60 631.83,511.60 632.50,511.60C633.16,511.60 633.83,511.60 634.50,511.60C635.16,511.60 635.83,511.60 636.50,511.60C637.16,511.60 637.83,511.60 638.50,511.60C639.16,511.60 639.83,511.60 640.50,511.60C641.16,511.60 641.83,511.60 642.50,511.60C643.16,511.60 643.83,511.60 644.50,511.60C645.16,511.60 645.83,511.60 646.50,511.60C647.16,511.60 647.83,511.60 648.50,511.60C649.16,511.60 649.83,511.60 650.50,511.60C651.16,511.60 651.83,511.60 652.50,511.60C653.16,511.60 653.83,511.60 654.50,511.60C655.17,511.60 655.83,511.60 656.50,511.60C657.17,511.60 657.83,511.60 658.50,511.60C659.17,511.60 659.83,511.60 660.50,511.60C661.17,511.60 661.83,511.60 662.50,511.60C663.17,511.60 663.83,511.60 664.50,511.60C665.17,511.60 665.83,511.60 666.50,511.60C667.17,511.60 667.83,511.60 668.50,511.60C669.17,511.60 669.83,511.60 670.50,511.60C671.17,511.60 671.83,511.60 672.50,511.60C673.17,511.60 674.17,511.60 674.50,511.60" stroke="#00f" stroke-width="1.4" stroke-dasharray="none"/>
</g>
<g style="mix-blend-mode:multiply"><path d="M401 652.5v-4.0M401 483.5v4.0M414.68 652.5v-2.3M414.68 483.5v2.3M428.35 652.5v-2.3M428.35 483.5v2.3M442.02 652.5v-2.3M442.02 483.5v2.3M455.7 652.5v-4.0M455.7 483.5v4.0M469.38 652.5v-2.3M469.38 483.5v2.3M483.05 652.5v-2.3M483.05 483.5v2.3M496.73 652.5v-2.3M496.73 483.5v2.3M510.4 652.5v-4.0M510.4 483.5v4.0M524.08 652.5v-2.3M524.08 483.5v2.3M537.75 652.5v-2.3M537.75 483.5v2.3M551.42 652.5v-2.3M551.42 483.5v2.3M565.1 652.5v-4.0M565.1 483.5v4.0M578.77 652.5v-2.3M578.77 483.5v2.3M592.45 652.5v-2.3M592.45 483.5v2.3M606.12 652.5v-2.3M606.12 483.5v2.3M619.8 652.5v-4.0M619.8 483.5v4.0M633.48 652.5v-2.3M633.48 483.5v2.3M647.15 652.5v-2.3M647.15 483.5v2.3M660.83 652.5v-2.3M660.83 483.5v2.3M674.5 652.5v-4.0M674.5 483.5v4.0M401 652.5h4.0M674.5 652.5h-4.0M401 645.46h2.3M674.5 645.46h-2.3M401 638.42h2.3M674.5 638.42h-2.3M401 631.38h2.3M674.5 631.38h-2.3M401 624.33h4.0M674.5 624.33h-4.0M401 617.29h2.3M674.5 617.29h-2.3M401 610.25h2.3M674.5 610.25h-2.3M401 603.21h2.3M674.5 603.21h-2.3M401 596.17h4.0M674.5 596.17h-4.0M401 589.12h2.3M674.5 589.12h-2.3M401 582.08h2.3M674.5 582.08h-2.3M401 575.04h2.3M674.5 575.04h-2.3M401 568h4.0M674.5 568h-4.0M401 560.96h2.3M674.5 560.96h-2.3M401 553.92h2.3M674.5 553.92h-2.3M401 546.88h2.3M674.5 546.88h-2.3M401 539.83h4.0M674.5 539.83h-4.0M401 532.79h2.3M674.5 532.79h-2.3M401 525.75h2.3M674.5 525.75h-2.3M401 518.71h2.3M674.5 518.71h-2.3M401 511.67h4.0M674.5 511.67h-4.0M401 504.62h2.3M674.5 504.62h-2.3M401 497.58h2.3M674.5 497.58h-2.3M401 490.54h2.3M674.5 490.54h-2.3M401 483.5h4.0M674.5 483.5h-4.0" stroke="#333" stroke-width="0.9" fill="none"/>
<rect x="401" y="483.5" width="273.5" height="169" stroke="#333" stroke-width="1" fill="none"/></g>
<path d="M600.5 615.1h17.7" stroke="#f00" stroke-width="1.5" stroke-dasharray="6.3 2.5 6 20"/>
<text x="621.5" y="617.8" class="l">T/T<tspan font-size="7.6" dy="2.6" dx="0.3">c</tspan><tspan dy="-2.6" dx="0.3">=0.3</tspan></text>
<path d="M600.5 627.3h17.7" stroke="#000" stroke-width="1.5" stroke-dasharray="6.1 1.9 1.9 2"/>
<text x="621.5" y="630" class="l">T/T<tspan font-size="7.6" dy="2.6" dx="0.3">c</tspan><tspan dy="-2.6" dx="0.3">=0.6</tspan></text>
<path d="M600.5 639.5h17.7" stroke="#00f" stroke-width="1.5" stroke-dasharray="none"/>
<text x="621.5" y="642.2" class="l">T/T<tspan font-size="7.6" dy="2.6" dx="0.3">c</tspan><tspan dy="-2.6" dx="0.3">=0.9</tspan></text>
<text x="436.75" y="706.4" class="cb" font-size="16">(</text>
<text transform="translate(442.46 706.4) scale(1.08 1)" class="cb" font-size="13.4">f</text>
<text x="447.67" y="706.4" class="cb" font-size="16">)</text>
<text transform="translate(458.13 706.4) scale(1.15 1)" class="ci" font-size="13.4">z</text>
<path d="M468.87 701.5H477.98M468.87 704.5H477.98" stroke="#000" stroke-width="0.85"/>
<text x="482.62" y="706.4" class="cr" font-size="13.4">1</text>
<text x="489.61" y="706.4" class="cr" font-size="13.4">,</text>
<text transform="translate(497.95 706.4) scale(1.2 1)" class="ci" font-size="13.4">m</text>
<text x="509.98" y="701.1" class="cr" font-size="8.8">2</text>
<path d="M520.45 701.5H529.56M520.45 704.5H529.56" stroke="#000" stroke-width="0.85"/>
<text x="534.2" y="706.4" class="cr" font-size="13.4">3</text>
<text x="542.53" y="706.4" class="cr" font-size="13.4">/</text>
<text x="547.88" y="706.4" class="cr" font-size="13.4">4</text>
<text x="554.88" y="706.4" class="cr" font-size="13.4">,</text>
<text transform="translate(562.76 706.4) scale(0.95 1)" class="ci" font-size="13.4">b</text>
<path d="M573.44 701.5H582.55M573.44 704.5H582.55" stroke="#000" stroke-width="0.85"/>
<text x="587.19" y="706.4" class="cr" font-size="13.4">0</text>
<text x="594.19" y="706.4" class="cr" font-size="13.4">.</text>
<text x="597.83" y="706.4" class="cr" font-size="13.4">0</text>
<text x="604.67" y="706.4" class="cr" font-size="13.4">4</text>
<text x="38.5" y="902.8" text-anchor="middle" class="t">0</text>
<text x="93.3" y="902.8" text-anchor="middle" class="t">20</text>
<text x="148.1" y="902.8" text-anchor="middle" class="t">40</text>
<text x="202.9" y="902.8" text-anchor="middle" class="t">60</text>
<text x="257.7" y="902.8" text-anchor="middle" class="t">80</text>
<text x="312.5" y="902.8" text-anchor="middle" class="t">100</text>
<text x="36.1" y="893" text-anchor="end" class="t">0.0</text>
<text x="36.1" y="862.27" text-anchor="end" class="t">0.2</text>
<text x="36.1" y="831.55" text-anchor="end" class="t">0.4</text>
<text x="36.1" y="800.82" text-anchor="end" class="t">0.6</text>
<text x="36.1" y="770.09" text-anchor="end" class="t">0.8</text>
<text x="36.1" y="739.36" text-anchor="end" class="t">1.0</text>
<text x="175.5" y="923.1" text-anchor="middle" class="t"><tspan font-style="italic" font-family="Liberation Serif" font-size="13.4">ω</tspan><tspan font-family="Liberation Serif" font-size="14.5" dy="1.6" dx="-0.3">/</tspan><tspan dy="-1.6" dx="-0.6">T</tspan></text>
<text transform="translate(8.8 803.8) rotate(-90)" text-anchor="middle" class="t">Re<tspan font-family="Liberation Serif" font-size="14">[</tspan><tspan font-style="italic" font-family="Liberation Serif" font-size="14.5">σ</tspan><tspan font-family="Liberation Serif" font-size="14">]</tspan></text>
<clipPath id="cpg"><rect x="37.7" y="718.7" width="275.6" height="170.6"/></clipPath>
<g clip-path="url(#cpg)" fill="none">
<path d="M38.30,888.50C38.63,888.50 39.64,888.49 40.30,888.49C40.97,888.49 41.64,888.48 42.31,888.48C42.97,888.47 43.64,888.47 44.31,888.46C44.98,888.46 45.65,888.45 46.31,888.45C46.98,888.44 47.65,888.43 48.32,888.43C48.98,888.42 49.65,888.41 50.32,888.40C50.99,888.39 51.65,888.38 52.32,888.37C52.99,888.35 53.66,888.33 54.32,888.31C54.99,888.28 55.66,888.25 56.32,888.21C56.99,888.17 57.66,888.13 58.32,888.07C58.99,888.01 59.65,887.94 60.32,887.85C60.98,887.77 61.65,887.68 62.31,887.54C62.97,887.40 63.63,887.17 64.29,887.02C64.94,886.88 65.60,886.79 66.25,886.66C66.90,886.52 67.55,886.37 68.19,886.20C68.84,886.04 69.48,885.86 70.12,885.68C70.76,885.50 71.40,885.30 72.03,885.10C72.67,884.89 73.29,884.67 73.92,884.44C74.54,884.20 75.15,883.95 75.76,883.68C76.37,883.42 76.98,883.14 77.57,882.84C78.17,882.55 78.77,882.25 79.35,881.93C79.94,881.62 80.52,881.29 81.09,880.95C81.65,880.61 82.21,880.25 82.76,879.87C83.31,879.50 83.85,879.11 84.38,878.71C84.91,878.31 85.43,877.89 85.95,877.47C86.47,877.05 86.98,876.63 87.50,876.20C88.01,875.77 88.52,875.34 89.02,874.90C89.52,874.46 90.02,874.02 90.51,873.57C91.01,873.12 91.49,872.66 91.97,872.20C92.45,871.74 92.93,871.27 93.39,870.79C93.86,870.32 94.31,869.84 94.75,869.34C95.19,868.84 95.62,868.33 96.03,867.81C96.44,867.29 96.83,866.76 97.22,866.21C97.60,865.67 97.97,865.11 98.33,864.55C98.69,864.00 99.05,863.43 99.41,862.87C99.76,862.30 100.12,861.74 100.47,861.17C100.83,860.60 101.18,860.04 101.53,859.47C101.89,858.91 102.24,858.34 102.60,857.77C102.95,857.21 103.30,856.64 103.66,856.07C104.01,855.51 104.36,854.94 104.71,854.37C105.06,853.80 105.41,853.23 105.76,852.66C106.10,852.09 106.44,851.52 106.78,850.94C107.12,850.36 107.45,849.78 107.78,849.20C108.11,848.63 108.44,848.04 108.77,847.46C109.09,846.88 109.42,846.30 109.75,845.71C110.07,845.13 110.40,844.55 110.73,843.97C111.06,843.39 111.40,842.81 111.73,842.23C112.07,841.66 112.41,841.09 112.76,840.51C113.10,839.94 113.45,839.37 113.80,838.80C114.15,838.23 114.50,837.67 114.85,837.10C115.20,836.53 115.55,835.96 115.90,835.39C116.25,834.82 116.59,834.25 116.93,833.68C117.27,833.10 117.61,832.52 117.94,831.95C118.28,831.37 118.61,830.79 118.94,830.21C119.26,829.62 119.59,829.04 119.91,828.46C120.24,827.87 120.56,827.29 120.89,826.71C121.21,826.12 121.54,825.54 121.86,824.96C122.19,824.37 122.51,823.79 122.83,823.20C123.16,822.62 123.48,822.04 123.81,821.45C124.13,820.87 124.46,820.28 124.78,819.70C125.11,819.12 125.43,818.53 125.76,817.95C126.09,817.37 126.41,816.79 126.75,816.21C127.08,815.63 127.41,815.05 127.75,814.48C128.09,813.90 128.43,813.33 128.78,812.76C129.12,812.19 129.47,811.62 129.83,811.05C130.18,810.48 130.53,809.92 130.89,809.35C131.25,808.79 131.61,808.23 131.97,807.67C132.34,807.11 132.71,806.56 133.09,806.01C133.46,805.45 133.85,804.91 134.24,804.37C134.62,803.82 135.02,803.29 135.42,802.75C135.81,802.21 136.21,801.68 136.61,801.14C137.02,800.61 137.42,800.08 137.83,799.55C138.24,799.02 138.65,798.50 139.07,797.98C139.48,797.46 139.91,796.94 140.33,796.43C140.76,795.91 141.19,795.41 141.63,794.90C142.06,794.39 142.50,793.89 142.94,793.38C143.37,792.88 143.81,792.38 144.25,791.87C144.69,791.37 145.12,790.86 145.56,790.35C145.99,789.84 146.42,789.33 146.85,788.82C147.28,788.31 147.71,787.80 148.14,787.29C148.57,786.78 148.99,786.26 149.42,785.75C149.86,785.24 150.29,784.74 150.73,784.23C151.17,783.73 151.61,783.23 152.05,782.73C152.50,782.23 152.95,781.74 153.40,781.25C153.85,780.76 154.31,780.27 154.77,779.79C155.23,779.31 155.70,778.83 156.17,778.36C156.65,777.89 157.13,777.43 157.61,776.97C158.09,776.51 158.58,776.05 159.07,775.60C159.56,775.15 160.06,774.70 160.56,774.27C161.06,773.83 161.57,773.39 162.09,772.98C162.61,772.56 163.13,772.15 163.67,771.75C164.20,771.36 164.75,770.97 165.30,770.60C165.85,770.22 166.40,769.85 166.96,769.49C167.52,769.13 168.09,768.77 168.65,768.42C169.22,768.07 169.79,767.72 170.37,767.39C170.94,767.05 171.52,766.72 172.11,766.40C172.69,766.08 173.28,765.77 173.88,765.46C174.47,765.15 175.06,764.85 175.66,764.55C176.26,764.25 176.85,763.95 177.45,763.66C178.05,763.36 178.65,763.07 179.25,762.78C179.86,762.50 180.46,762.21 181.07,761.93C181.67,761.65 182.28,761.38 182.89,761.10C183.50,760.83 184.11,760.56 184.72,760.29C185.33,760.02 185.94,759.76 186.56,759.49C187.17,759.23 187.79,758.97 188.40,758.71C189.02,758.45 189.64,758.20 190.26,757.95C190.88,757.70 191.50,757.46 192.12,757.22C192.74,756.98 193.37,756.74 193.99,756.50C194.62,756.27 195.24,756.03 195.87,755.80C196.50,755.57 197.12,755.35 197.75,755.12C198.38,754.90 199.01,754.68 199.64,754.47C200.28,754.25 200.91,754.04 201.55,753.84C202.18,753.63 202.82,753.43 203.45,753.23C204.09,753.03 204.73,752.83 205.37,752.64C206.01,752.45 206.65,752.26 207.29,752.07C207.93,751.89 208.57,751.71 209.22,751.53C209.86,751.36 210.51,751.19 211.15,751.02C211.80,750.86 212.45,750.69 213.10,750.53C213.75,750.37 214.39,750.22 215.04,750.06C215.69,749.90 216.34,749.75 216.99,749.59C217.64,749.44 218.29,749.29 218.94,749.14C219.59,748.99 220.25,748.85 220.90,748.70C221.55,748.56 222.20,748.42 222.86,748.28C223.51,748.14 224.16,748.00 224.82,747.87C225.47,747.73 226.12,747.59 226.78,747.46C227.43,747.32 228.09,747.19 228.74,747.05C229.40,746.92 230.05,746.79 230.71,746.66C231.36,746.53 232.02,746.40 232.67,746.28C233.33,746.15 233.98,746.03 234.64,745.90C235.30,745.78 235.95,745.66 236.61,745.53C237.27,745.41 237.92,745.29 238.58,745.17C239.24,745.05 239.89,744.94 240.55,744.83C241.21,744.71 241.87,744.61 242.53,744.51C243.19,744.40 243.85,744.31 244.51,744.22C245.17,744.12 245.83,744.04 246.50,743.95C247.16,743.86 247.82,743.78 248.48,743.69C249.15,743.61 249.81,743.52 250.47,743.44C251.13,743.36 251.80,743.27 252.46,743.19C253.12,743.11 253.78,743.02 254.45,742.94C255.11,742.86 255.77,742.78 256.44,742.71C257.10,742.63 257.76,742.56 258.43,742.49C259.09,742.41 259.76,742.34 260.42,742.28C261.08,742.21 261.75,742.14 262.41,742.07C263.08,742.01 263.74,741.94 264.41,741.87C265.07,741.81 265.74,741.74 266.40,741.68C267.06,741.61 267.73,741.55 268.39,741.48C269.06,741.42 269.72,741.35 270.39,741.29C271.05,741.23 271.72,741.17 272.38,741.12C273.05,741.06 273.72,741.00 274.38,740.95C275.05,740.90 275.71,740.85 276.38,740.80C277.04,740.75 277.71,740.70 278.38,740.65C279.04,740.60 279.71,740.55 280.37,740.50C281.04,740.45 281.71,740.40 282.37,740.36C283.04,740.31 283.70,740.26 284.37,740.22C285.04,740.18 285.70,740.13 286.37,740.10C287.04,740.06 287.70,740.02 288.37,739.99C289.04,739.96 289.71,739.93 290.37,739.91C291.04,739.88 291.71,739.86 292.37,739.84C293.04,739.82 293.71,739.79 294.38,739.77C295.04,739.75 295.71,739.73 296.38,739.71C297.05,739.69 297.71,739.67 298.38,739.65C299.05,739.62 299.72,739.60 300.38,739.58C301.05,739.56 301.72,739.54 302.39,739.52C303.05,739.50 303.72,739.48 304.39,739.45C305.06,739.43 305.72,739.41 306.39,739.39C307.06,739.37 307.73,739.35 308.39,739.33C309.06,739.31 309.73,739.28 310.40,739.26C311.06,739.24 312.07,739.21 312.40,739.20" stroke="#f00" stroke-width="1.5" stroke-dasharray="5.8 2.7"/>
<path d="M38.30,877.70C38.61,877.57 39.54,877.21 40.14,876.94C40.75,876.67 41.36,876.40 41.94,876.10C42.53,875.80 43.11,875.48 43.67,875.13C44.23,874.78 44.77,874.40 45.30,874.01C45.83,873.62 46.35,873.20 46.85,872.76C47.34,872.33 47.83,871.87 48.29,871.40C48.76,870.93 49.21,870.44 49.65,869.94C50.09,869.44 50.51,868.93 50.93,868.41C51.35,867.89 51.76,867.37 52.15,866.83C52.55,866.30 52.94,865.75 53.31,865.20C53.69,864.65 54.05,864.09 54.40,863.53C54.76,862.97 55.10,862.39 55.44,861.82C55.78,861.25 56.12,860.67 56.45,860.09C56.78,859.51 57.10,858.93 57.42,858.34C57.74,857.75 58.06,857.17 58.37,856.57C58.67,855.98 58.97,855.38 59.26,854.78C59.55,854.18 59.83,853.58 60.11,852.97C60.39,852.36 60.66,851.75 60.94,851.14C61.21,850.53 61.48,849.92 61.75,849.31C62.02,848.70 62.29,848.09 62.55,847.48C62.81,846.86 63.07,846.25 63.32,845.63C63.57,845.01 63.82,844.39 64.06,843.77C64.29,843.14 64.52,842.52 64.75,841.89C64.97,841.26 65.19,840.63 65.40,839.99C65.62,839.36 65.83,838.73 66.04,838.10C66.26,837.46 66.47,836.83 66.68,836.19C66.89,835.56 67.10,834.93 67.31,834.29C67.52,833.66 67.73,833.03 67.95,832.39C68.16,831.76 68.37,831.12 68.58,830.49C68.79,829.86 69.00,829.22 69.22,828.59C69.43,827.96 69.65,827.33 69.87,826.70C70.09,826.06 70.31,825.43 70.53,824.81C70.76,824.18 70.98,823.55 71.21,822.92C71.44,822.29 71.68,821.67 71.91,821.04C72.14,820.42 72.38,819.79 72.61,819.16C72.84,818.54 73.08,817.91 73.31,817.29C73.55,816.66 73.78,816.04 74.02,815.41C74.25,814.79 74.49,814.16 74.72,813.53C74.96,812.91 75.19,812.28 75.42,811.66C75.66,811.03 75.89,810.41 76.13,809.78C76.36,809.16 76.60,808.53 76.83,807.90C77.07,807.28 77.30,806.65 77.54,806.03C77.77,805.40 78.01,804.78 78.24,804.15C78.48,803.53 78.72,802.90 78.96,802.28C79.20,801.66 79.45,801.04 79.69,800.42C79.94,799.80 80.20,799.18 80.45,798.56C80.71,797.95 80.97,797.33 81.24,796.72C81.50,796.11 81.77,795.49 82.04,794.88C82.31,794.27 82.58,793.66 82.86,793.06C83.14,792.45 83.42,791.84 83.70,791.24C83.99,790.63 84.27,790.03 84.57,789.43C84.86,788.83 85.15,788.23 85.45,787.63C85.75,787.04 86.05,786.44 86.36,785.85C86.66,785.25 86.97,784.66 87.28,784.07C87.60,783.48 87.92,782.90 88.25,782.31C88.57,781.73 88.91,781.15 89.24,780.58C89.58,780.00 89.92,779.43 90.27,778.85C90.61,778.28 90.96,777.71 91.31,777.15C91.67,776.58 92.03,776.02 92.40,775.46C92.76,774.90 93.14,774.35 93.52,773.80C93.90,773.25 94.28,772.71 94.67,772.17C95.06,771.63 95.46,771.09 95.86,770.55C96.26,770.02 96.66,769.48 97.07,768.96C97.47,768.43 97.89,767.91 98.31,767.39C98.73,766.87 99.17,766.37 99.60,765.86C100.04,765.36 100.49,764.86 100.94,764.37C101.38,763.87 101.84,763.38 102.30,762.90C102.76,762.42 103.22,761.94 103.69,761.47C104.16,760.99 104.64,760.53 105.13,760.08C105.62,759.62 106.11,759.18 106.62,758.74C107.12,758.30 107.63,757.87 108.14,757.44C108.66,757.02 109.17,756.60 109.70,756.19C110.23,755.77 110.76,755.37 111.29,754.97C111.83,754.58 112.37,754.19 112.92,753.81C113.47,753.43 114.02,753.06 114.58,752.69C115.13,752.32 115.69,751.95 116.25,751.59C116.81,751.23 117.38,750.87 117.95,750.53C118.52,750.18 119.09,749.85 119.68,749.53C120.26,749.21 120.85,748.90 121.45,748.61C122.05,748.32 122.65,748.04 123.26,747.77C123.87,747.50 124.48,747.24 125.10,746.98C125.72,746.73 126.34,746.48 126.96,746.24C127.58,746.00 128.21,745.77 128.84,745.55C129.47,745.33 130.10,745.13 130.74,744.93C131.37,744.73 132.02,744.54 132.66,744.36C133.30,744.17 133.94,743.99 134.58,743.81C135.23,743.64 135.87,743.46 136.52,743.28C137.16,743.11 137.81,742.94 138.45,742.77C139.10,742.60 139.75,742.44 140.40,742.28C141.04,742.13 141.70,741.99 142.35,741.85C143.00,741.72 143.66,741.60 144.31,741.48C144.97,741.36 145.63,741.26 146.29,741.15C146.95,741.04 147.61,740.94 148.27,740.84C148.93,740.74 149.59,740.64 150.25,740.54C150.91,740.44 151.57,740.35 152.23,740.25C152.89,740.15 153.56,740.06 154.22,739.97C154.88,739.88 155.54,739.80 156.20,739.72C156.87,739.64 157.53,739.57 158.20,739.50C158.86,739.43 159.53,739.37 160.19,739.31C160.86,739.25 161.52,739.19 162.19,739.13C162.85,739.08 163.52,739.02 164.18,738.97C164.85,738.91 165.52,738.86 166.18,738.80C166.85,738.75 167.51,738.69 168.18,738.64C168.84,738.59 169.51,738.53 170.18,738.48C170.84,738.42 171.51,738.37 172.17,738.31C172.84,738.26 173.51,738.20 174.17,738.15C174.84,738.10 175.50,738.05 176.17,738.00C176.84,737.95 177.50,737.90 178.17,737.85C178.83,737.81 179.50,737.77 180.17,737.73C180.83,737.69 181.50,737.65 182.17,737.62C182.84,737.58 183.50,737.55 184.17,737.51C184.84,737.48 185.50,737.44 186.17,737.41C186.84,737.38 187.51,737.34 188.17,737.31C188.84,737.28 189.51,737.24 190.17,737.21C190.84,737.18 191.51,737.14 192.18,737.11C192.84,737.07 193.51,737.04 194.18,737.01C194.85,736.97 195.51,736.94 196.18,736.91C196.85,736.88 197.51,736.84 198.18,736.81C198.85,736.78 199.52,736.75 200.18,736.72C200.85,736.69 201.52,736.67 202.19,736.64C202.85,736.61 203.52,736.59 204.19,736.56C204.86,736.54 205.52,736.52 206.19,736.49C206.86,736.47 207.53,736.44 208.19,736.42C208.86,736.40 209.53,736.37 210.20,736.35C210.86,736.32 211.53,736.30 212.20,736.28C212.87,736.25 213.54,736.23 214.20,736.21C214.87,736.18 215.54,736.16 216.21,736.14C216.87,736.12 217.54,736.10 218.21,736.08C218.88,736.06 219.54,736.04 220.21,736.03C220.88,736.02 221.55,736.01 222.22,736.00C222.88,735.99 223.55,735.98 224.22,735.98C224.89,735.97 225.56,735.97 226.22,735.96C226.89,735.96 227.56,735.95 228.23,735.95C228.90,735.94 229.56,735.94 230.23,735.93C230.90,735.93 231.57,735.92 232.24,735.92C232.90,735.92 233.57,735.91 234.24,735.91C234.91,735.90 235.58,735.90 236.24,735.89C236.91,735.89 237.58,735.89 238.25,735.88C238.92,735.88 239.58,735.87 240.25,735.87C240.92,735.86 241.59,735.86 242.26,735.86C242.92,735.85 243.59,735.85 244.26,735.84C244.93,735.84 245.60,735.83 246.26,735.83C246.93,735.83 247.60,735.82 248.27,735.82C248.94,735.81 249.61,735.81 250.27,735.80C250.94,735.80 251.61,735.79 252.28,735.79C252.95,735.79 253.61,735.78 254.28,735.78C254.95,735.77 255.62,735.77 256.29,735.76C256.95,735.76 257.62,735.76 258.29,735.75C258.96,735.75 259.63,735.74 260.29,735.74C260.96,735.73 261.63,735.73 262.30,735.73C262.97,735.72 263.63,735.72 264.30,735.71C264.97,735.71 265.64,735.70 266.31,735.70C266.97,735.69 267.64,735.69 268.31,735.69C268.98,735.68 269.65,735.68 270.31,735.67C270.98,735.67 271.65,735.66 272.32,735.66C272.99,735.66 273.65,735.65 274.32,735.65C274.99,735.64 275.66,735.64 276.33,735.63C276.99,735.63 277.66,735.63 278.33,735.62C279.00,735.62 279.67,735.61 280.33,735.61C281.00,735.60 281.67,735.60 282.34,735.60C283.01,735.59 283.67,735.59 284.34,735.58C285.01,735.58 285.68,735.57 286.35,735.57C287.01,735.56 287.68,735.56 288.35,735.56C289.02,735.55 289.69,735.55 290.35,735.54C291.02,735.54 291.69,735.53 292.36,735.53C293.03,735.53 293.70,735.52 294.36,735.52C295.03,735.51 295.70,735.51 296.37,735.50C297.04,735.50 297.70,735.50 298.37,735.49C299.04,735.49 299.71,735.48 300.38,735.48C301.04,735.47 301.71,735.47 302.38,735.47C303.05,735.46 303.72,735.46 304.38,735.45C305.05,735.45 305.72,735.44 306.39,735.44C307.06,735.43 307.72,735.43 308.39,735.43C309.06,735.42 309.73,735.42 310.40,735.41C311.06,735.41 312.07,735.40 312.40,735.40" stroke="#000" stroke-width="1.7" stroke-dasharray="5.8 2.1 1.9 2.2"/>
<path d="M38.63,796.76C38.92,796.62 39.83,796.24 40.39,795.92C40.94,795.59 41.47,795.22 41.95,794.79C42.44,794.36 42.87,793.86 43.29,793.36C43.70,792.85 44.08,792.30 44.45,791.75C44.83,791.20 45.17,790.63 45.51,790.05C45.85,789.48 46.17,788.89 46.48,788.30C46.79,787.71 47.09,787.12 47.38,786.52C47.67,785.92 47.95,785.31 48.23,784.70C48.51,784.10 48.78,783.49 49.05,782.88C49.33,782.27 49.59,781.66 49.86,781.04C50.13,780.43 50.39,779.82 50.66,779.21C50.92,778.59 51.19,777.98 51.45,777.37C51.72,776.76 52.00,776.15 52.27,775.54C52.55,774.93 52.82,774.32 53.10,773.72C53.38,773.11 53.67,772.51 53.95,771.90C54.24,771.30 54.53,770.70 54.82,770.10C55.11,769.50 55.41,768.90 55.71,768.30C56.00,767.71 56.31,767.11 56.61,766.52C56.92,765.92 57.23,765.33 57.54,764.74C57.85,764.15 58.17,763.56 58.50,762.98C58.82,762.40 59.15,761.82 59.49,761.25C59.83,760.67 60.19,760.11 60.54,759.54C60.90,758.98 61.27,758.42 61.65,757.87C62.02,757.32 62.40,756.77 62.80,756.24C63.20,755.71 63.61,755.18 64.03,754.67C64.46,754.15 64.90,753.65 65.35,753.16C65.79,752.66 66.25,752.18 66.72,751.71C67.19,751.23 67.67,750.77 68.16,750.32C68.65,749.87 69.15,749.42 69.66,748.99C70.16,748.56 70.68,748.13 71.20,747.73C71.73,747.32 72.28,746.93 72.82,746.56C73.37,746.18 73.93,745.82 74.50,745.46C75.06,745.11 75.64,744.76 76.21,744.43C76.79,744.10 77.38,743.78 77.97,743.47C78.56,743.17 79.16,742.88 79.77,742.61C80.38,742.35 81.00,742.11 81.63,741.88C82.25,741.65 82.88,741.44 83.52,741.23C84.15,741.03 84.79,740.84 85.44,740.65C86.08,740.47 86.72,740.30 87.37,740.13C88.01,739.97 88.66,739.81 89.31,739.66C89.96,739.51 90.62,739.37 91.27,739.23C91.92,739.10 92.58,738.97 93.24,738.85C93.89,738.73 94.55,738.62 95.21,738.51C95.87,738.41 96.53,738.31 97.19,738.22C97.85,738.13 98.51,738.06 99.18,737.98C99.84,737.90 100.50,737.82 101.17,737.75C101.83,737.67 102.49,737.59 103.16,737.52C103.82,737.44 104.48,737.37 105.15,737.29C105.81,737.22 106.47,737.14 107.14,737.06C107.80,736.99 108.46,736.91 109.13,736.84C109.79,736.78 110.46,736.71 111.12,736.65C111.79,736.59 112.45,736.54 113.12,736.50C113.78,736.45 114.45,736.41 115.12,736.37C115.78,736.33 116.45,736.30 117.12,736.26C117.78,736.22 118.45,736.18 119.12,736.14C119.78,736.10 120.45,736.06 121.12,736.03C121.78,735.99 122.45,735.95 123.12,735.92C123.78,735.88 124.45,735.85 125.12,735.83C125.78,735.81 126.45,735.79 127.12,735.77C127.79,735.76 128.45,735.75 129.12,735.74C129.79,735.73 130.46,735.72 131.12,735.70C131.79,735.69 132.46,735.68 133.13,735.67C133.79,735.66 134.46,735.65 135.13,735.64C135.80,735.63 136.46,735.62 137.13,735.61C137.80,735.60 138.47,735.59 139.14,735.58C139.80,735.57 140.47,735.56 141.14,735.55C141.81,735.54 142.47,735.53 143.14,735.52C143.81,735.51 144.48,735.50 145.14,735.49C145.81,735.48 146.48,735.47 147.15,735.46C147.81,735.45 148.48,735.43 149.15,735.42C149.82,735.41 150.48,735.40 151.15,735.39C151.82,735.38 152.49,735.37 153.16,735.36C153.82,735.35 154.49,735.34 155.16,735.33C155.83,735.32 156.49,735.31 157.16,735.30C157.83,735.29 158.50,735.28 159.16,735.27C159.83,735.26 160.50,735.25 161.17,735.24C161.83,735.23 162.50,735.22 163.17,735.21C163.84,735.20 164.50,735.19 165.17,735.18C165.84,735.16 166.51,735.15 167.18,735.14C167.84,735.14 168.51,735.13 169.18,735.12C169.85,735.11 170.51,735.11 171.18,735.10C171.85,735.10 172.52,735.10 173.18,735.10C173.85,735.09 174.52,735.09 175.19,735.09C175.86,735.09 176.52,735.09 177.19,735.09C177.86,735.09 178.53,735.09 179.19,735.09C179.86,735.09 180.53,735.09 181.20,735.08C181.86,735.08 182.53,735.08 183.20,735.08C183.87,735.08 184.54,735.08 185.20,735.08C185.87,735.08 186.54,735.08 187.21,735.08C187.87,735.07 188.54,735.07 189.21,735.07C189.88,735.07 190.54,735.07 191.21,735.07C191.88,735.07 192.55,735.07 193.22,735.07C193.88,735.07 194.55,735.07 195.22,735.06C195.89,735.06 196.55,735.06 197.22,735.06C197.89,735.06 198.56,735.06 199.22,735.06C199.89,735.06 200.56,735.06 201.23,735.06C201.90,735.06 202.56,735.05 203.23,735.05C203.90,735.05 204.57,735.05 205.23,735.05C205.90,735.05 206.57,735.05 207.24,735.05C207.90,735.05 208.57,735.05 209.24,735.04C209.91,735.04 210.58,735.04 211.24,735.04C211.91,735.04 212.58,735.04 213.25,735.04C213.91,735.04 214.58,735.04 215.25,735.04C215.92,735.04 216.58,735.03 217.25,735.03C217.92,735.03 218.59,735.03 219.26,735.03C219.92,735.03 220.59,735.03 221.26,735.03C221.93,735.03 222.59,735.03 223.26,735.03C223.93,735.02 224.60,735.02 225.26,735.02C225.93,735.02 226.60,735.02 227.27,735.02C227.94,735.02 228.60,735.02 229.27,735.02C229.94,735.02 230.61,735.01 231.27,735.01C231.94,735.01 232.61,735.01 233.28,735.01C233.95,735.01 234.61,735.01 235.28,735.01C235.95,735.01 236.62,735.01 237.28,735.01C237.95,735.00 238.62,735.00 239.29,735.00C239.95,735.00 240.62,735.00 241.29,735.00C241.96,735.00 242.63,735.00 243.29,735.00C243.96,735.00 244.63,735.00 245.30,734.99C245.96,734.99 246.63,734.99 247.30,734.99C247.97,734.99 248.63,734.99 249.30,734.99C249.97,734.99 250.64,734.99 251.31,734.99C251.97,734.98 252.64,734.98 253.31,734.98C253.98,734.98 254.64,734.98 255.31,734.98C255.98,734.98 256.65,734.98 257.31,734.98C257.98,734.98 258.65,734.98 259.32,734.97C259.99,734.97 260.65,734.97 261.32,734.97C261.99,734.97 262.66,734.97 263.32,734.97C263.99,734.97 264.66,734.97 265.33,734.97C265.99,734.97 266.66,734.96 267.33,734.96C268.00,734.96 268.67,734.96 269.33,734.96C270.00,734.96 270.67,734.96 271.34,734.96C272.00,734.96 272.67,734.96 273.34,734.95C274.01,734.95 274.67,734.95 275.34,734.95C276.01,734.95 276.68,734.95 277.35,734.95C278.01,734.95 278.68,734.95 279.35,734.95C280.02,734.95 280.68,734.94 281.35,734.94C282.02,734.94 282.69,734.94 283.35,734.94C284.02,734.94 284.69,734.94 285.36,734.94C286.03,734.94 286.69,734.94 287.36,734.94C288.03,734.93 288.70,734.93 289.36,734.93C290.03,734.93 290.70,734.93 291.37,734.93C292.04,734.93 292.70,734.93 293.37,734.93C294.04,734.93 294.71,734.92 295.37,734.92C296.04,734.92 296.71,734.92 297.38,734.92C298.04,734.92 298.71,734.92 299.38,734.92C300.05,734.92 300.72,734.92 301.38,734.92C302.05,734.91 302.72,734.91 303.39,734.91C304.05,734.91 304.72,734.91 305.39,734.91C306.06,734.91 306.72,734.91 307.39,734.91C308.06,734.91 308.73,734.91 309.40,734.90C310.06,734.90 310.90,734.90 311.40,734.90C311.90,734.90 312.23,734.90 312.40,734.90" stroke="#00f" stroke-width="1.4" stroke-dasharray="none"/>
</g>
<g style="mix-blend-mode:multiply"><path d="M38.5 888.5v-4.0M38.5 719.5v4.0M52.2 888.5v-2.3M52.2 719.5v2.3M65.9 888.5v-2.3M65.9 719.5v2.3M79.6 888.5v-2.3M79.6 719.5v2.3M93.3 888.5v-4.0M93.3 719.5v4.0M107 888.5v-2.3M107 719.5v2.3M120.7 888.5v-2.3M120.7 719.5v2.3M134.4 888.5v-2.3M134.4 719.5v2.3M148.1 888.5v-4.0M148.1 719.5v4.0M161.8 888.5v-2.3M161.8 719.5v2.3M175.5 888.5v-2.3M175.5 719.5v2.3M189.2 888.5v-2.3M189.2 719.5v2.3M202.9 888.5v-4.0M202.9 719.5v4.0M216.6 888.5v-2.3M216.6 719.5v2.3M230.3 888.5v-2.3M230.3 719.5v2.3M244 888.5v-2.3M244 719.5v2.3M257.7 888.5v-4.0M257.7 719.5v4.0M271.4 888.5v-2.3M271.4 719.5v2.3M285.1 888.5v-2.3M285.1 719.5v2.3M298.8 888.5v-2.3M298.8 719.5v2.3M312.5 888.5v-4.0M312.5 719.5v4.0M38.5 888.5h4.0M312.5 888.5h-4.0M38.5 880.82h2.3M312.5 880.82h-2.3M38.5 873.14h2.3M312.5 873.14h-2.3M38.5 865.45h2.3M312.5 865.45h-2.3M38.5 857.77h4.0M312.5 857.77h-4.0M38.5 850.09h2.3M312.5 850.09h-2.3M38.5 842.41h2.3M312.5 842.41h-2.3M38.5 834.73h2.3M312.5 834.73h-2.3M38.5 827.05h4.0M312.5 827.05h-4.0M38.5 819.36h2.3M312.5 819.36h-2.3M38.5 811.68h2.3M312.5 811.68h-2.3M38.5 804h2.3M312.5 804h-2.3M38.5 796.32h4.0M312.5 796.32h-4.0M38.5 788.64h2.3M312.5 788.64h-2.3M38.5 780.95h2.3M312.5 780.95h-2.3M38.5 773.27h2.3M312.5 773.27h-2.3M38.5 765.59h4.0M312.5 765.59h-4.0M38.5 757.91h2.3M312.5 757.91h-2.3M38.5 750.23h2.3M312.5 750.23h-2.3M38.5 742.55h2.3M312.5 742.55h-2.3M38.5 734.86h4.0M312.5 734.86h-4.0M38.5 727.18h2.3M312.5 727.18h-2.3M38.5 719.5h2.3M312.5 719.5h-2.3" stroke="#333" stroke-width="0.9" fill="none"/>
<rect x="38.5" y="719.5" width="274" height="169" stroke="#333" stroke-width="1" fill="none"/></g>
<path d="M239.5 852.3h17.7" stroke="#f00" stroke-width="1.5" stroke-dasharray="6.3 2.5 6 20"/>
<text x="260.5" y="855" class="l">T/T<tspan font-size="7.6" dy="2.6" dx="0.3">c</tspan><tspan dy="-2.6" dx="0.3">=0.3</tspan></text>
<path d="M239.5 864.5h17.7" stroke="#000" stroke-width="1.5" stroke-dasharray="6.1 1.9 1.9 2"/>
<text x="260.5" y="867.2" class="l">T/T<tspan font-size="7.6" dy="2.6" dx="0.3">c</tspan><tspan dy="-2.6" dx="0.3">=0.6</tspan></text>
<path d="M239.5 876.7h17.7" stroke="#00f" stroke-width="1.5" stroke-dasharray="none"/>
<text x="260.5" y="879.4" class="l">T/T<tspan font-size="7.6" dy="2.6" dx="0.3">c</tspan><tspan dy="-2.6" dx="0.3">=0.9</tspan></text>
<text x="76.74" y="941" class="cb" font-size="16">(</text>
<text transform="translate(82.77 941) scale(1.08 1)" class="cb" font-size="13.4">g</text>
<text x="90.72" y="941" class="cb" font-size="16">)</text>
<text transform="translate(101.18 941) scale(1.15 1)" class="ci" font-size="13.4">z</text>
<path d="M111.92 935.5H121.03M111.92 939.5H121.03" stroke="#000" stroke-width="0.85"/>
<text x="125.67" y="941" class="cr" font-size="13.4">2</text>
<text x="132.67" y="941" class="cr" font-size="13.4">,</text>
<text transform="translate(141 941) scale(1.2 1)" class="ci" font-size="13.4">m</text>
<text x="153.03" y="935.7" class="cr" font-size="8.8">2</text>
<path d="M163.5 935.5H172.62M163.5 939.5H172.62" stroke="#000" stroke-width="0.85"/>
<path d="M177.95 937.5H187.06" stroke="#000" stroke-width="0.85"/>
<text x="187.9" y="941" class="cr" font-size="13.4">3</text>
<text x="196.22" y="941" class="cr" font-size="13.4">/</text>
<text x="201.58" y="941" class="cr" font-size="13.4">4</text>
<text x="208.57" y="941" class="cr" font-size="13.4">,</text>
<text transform="translate(216.46 941) scale(0.95 1)" class="ci" font-size="13.4">b</text>
<path d="M227.14 935.5H236.25M227.14 939.5H236.25" stroke="#000" stroke-width="0.85"/>
<text x="240.89" y="941" class="cr" font-size="13.4">0</text>
<text x="398.5" y="902.8" text-anchor="middle" class="t">0</text>
<text x="453.3" y="902.8" text-anchor="middle" class="t">20</text>
<text x="508.1" y="902.8" text-anchor="middle" class="t">40</text>
<text x="562.9" y="902.8" text-anchor="middle" class="t">60</text>
<text x="617.7" y="902.8" text-anchor="middle" class="t">80</text>
<text x="672.5" y="902.8" text-anchor="middle" class="t">100</text>
<text x="396.1" y="893" text-anchor="end" class="t">0.0</text>
<text x="396.1" y="862.27" text-anchor="end" class="t">0.2</text>
<text x="396.1" y="831.55" text-anchor="end" class="t">0.4</text>
<text x="396.1" y="800.82" text-anchor="end" class="t">0.6</text>
<text x="396.1" y="770.09" text-anchor="end" class="t">0.8</text>
<text x="396.1" y="739.36" text-anchor="end" class="t">1.0</text>
<text x="535.5" y="923.1" text-anchor="middle" class="t"><tspan font-style="italic" font-family="Liberation Serif" font-size="13.4">ω</tspan><tspan font-family="Liberation Serif" font-size="14.5" dy="1.6" dx="-0.3">/</tspan><tspan dy="-1.6" dx="-0.6">T</tspan></text>
<text transform="translate(368.8 803.8) rotate(-90)" text-anchor="middle" class="t">Re<tspan font-family="Liberation Serif" font-size="14">[</tspan><tspan font-style="italic" font-family="Liberation Serif" font-size="14.5">σ</tspan><tspan font-family="Liberation Serif" font-size="14">]</tspan></text>
<clipPath id="cph"><rect x="397.7" y="718.7" width="275.6" height="170.6"/></clipPath>
<g clip-path="url(#cph)" fill="none">
<path d="M398.30,888.50C398.63,888.50 399.63,888.50 400.30,888.50C400.97,888.50 401.64,888.50 402.30,888.50C402.97,888.50 403.64,888.50 404.31,888.50C404.97,888.50 405.64,888.50 406.31,888.50C406.97,888.50 407.64,888.50 408.31,888.50C408.98,888.50 409.64,888.50 410.31,888.50C410.98,888.50 411.65,888.50 412.31,888.50C412.98,888.50 413.65,888.50 414.31,888.50C414.98,888.50 415.65,888.50 416.32,888.50C416.98,888.50 417.65,888.50 418.32,888.50C418.99,888.50 419.65,888.50 420.32,888.49C420.99,888.49 421.65,888.49 422.32,888.49C422.99,888.48 423.66,888.48 424.32,888.48C424.99,888.47 425.66,888.47 426.32,888.45C426.99,888.44 427.66,888.43 428.32,888.41C428.99,888.39 429.66,888.37 430.32,888.33C430.99,888.29 431.65,888.25 432.32,888.19C432.98,888.13 433.64,888.06 434.31,887.96C434.97,887.86 435.63,887.75 436.29,887.58C436.95,887.42 437.61,887.14 438.26,886.98C438.92,886.82 439.57,886.74 440.23,886.61C440.88,886.49 441.54,886.35 442.19,886.21C442.84,886.07 443.49,885.93 444.14,885.78C444.79,885.63 445.44,885.48 446.09,885.32C446.74,885.16 447.39,885.00 448.03,884.83C448.67,884.65 449.31,884.47 449.94,884.27C450.58,884.07 451.21,883.86 451.83,883.63C452.45,883.40 453.07,883.15 453.67,882.88C454.28,882.61 454.88,882.33 455.47,882.03C456.06,881.73 456.65,881.41 457.22,881.07C457.79,880.74 458.35,880.38 458.89,880.01C459.44,879.63 459.97,879.24 460.50,878.83C461.02,878.42 461.54,878.00 462.04,877.57C462.55,877.14 463.05,876.69 463.54,876.24C464.03,875.79 464.51,875.33 464.98,874.86C465.46,874.39 465.93,873.92 466.39,873.44C466.85,872.96 467.30,872.47 467.75,871.98C468.20,871.49 468.64,870.99 469.08,870.48C469.52,869.98 469.95,869.47 470.37,868.96C470.80,868.44 471.22,867.93 471.64,867.41C472.05,866.88 472.46,866.36 472.87,865.83C473.27,865.30 473.67,864.76 474.07,864.23C474.46,863.69 474.85,863.15 475.24,862.61C475.63,862.06 476.01,861.52 476.40,860.97C476.78,860.43 477.16,859.88 477.54,859.33C477.92,858.78 478.30,858.23 478.67,857.68C479.04,857.13 479.42,856.57 479.79,856.02C480.16,855.46 480.53,854.91 480.89,854.35C481.26,853.79 481.63,853.23 481.99,852.67C482.35,852.11 482.71,851.55 483.07,850.99C483.43,850.43 483.79,849.86 484.14,849.30C484.50,848.73 484.85,848.17 485.20,847.60C485.56,847.03 485.91,846.47 486.26,845.90C486.61,845.33 486.95,844.76 487.30,844.19C487.65,843.62 487.99,843.05 488.33,842.47C488.67,841.90 489.01,841.33 489.35,840.75C489.69,840.18 490.03,839.60 490.37,839.03C490.71,838.46 491.06,837.88 491.40,837.31C491.74,836.74 492.09,836.17 492.44,835.60C492.78,835.03 493.13,834.46 493.48,833.89C493.84,833.33 494.19,832.76 494.54,832.19C494.90,831.63 495.25,831.06 495.61,830.50C495.97,829.94 496.32,829.37 496.68,828.81C497.05,828.25 497.41,827.69 497.77,827.13C498.14,826.57 498.51,826.02 498.88,825.46C499.25,824.91 499.62,824.35 499.99,823.80C500.37,823.25 500.75,822.70 501.13,822.15C501.51,821.61 501.90,821.06 502.29,820.52C502.68,819.99 503.08,819.45 503.48,818.92C503.89,818.39 504.29,817.86 504.71,817.33C505.12,816.81 505.53,816.29 505.96,815.77C506.38,815.26 506.81,814.75 507.24,814.24C507.68,813.73 508.12,813.23 508.56,812.74C509.01,812.24 509.46,811.75 509.91,811.26C510.36,810.77 510.82,810.28 511.28,809.80C511.74,809.32 512.20,808.84 512.67,808.36C513.14,807.89 513.61,807.41 514.08,806.95C514.56,806.48 515.04,806.01 515.52,805.56C516.01,805.10 516.49,804.64 516.99,804.19C517.48,803.75 517.98,803.31 518.49,802.87C518.99,802.44 519.51,802.01 520.02,801.59C520.54,801.16 521.06,800.75 521.58,800.33C522.10,799.92 522.63,799.50 523.15,799.09C523.67,798.68 524.20,798.27 524.72,797.85C525.25,797.44 525.77,797.03 526.30,796.62C526.82,796.21 527.35,795.80 527.88,795.39C528.40,794.98 528.93,794.57 529.46,794.17C530.00,793.77 530.53,793.37 531.07,792.98C531.62,792.60 532.16,792.22 532.72,791.85C533.27,791.47 533.83,791.11 534.39,790.75C534.95,790.40 535.52,790.05 536.09,789.70C536.66,789.34 537.23,789.00 537.80,788.65C538.37,788.30 538.94,787.95 539.51,787.61C540.08,787.26 540.65,786.92 541.22,786.57C541.79,786.23 542.36,785.89 542.94,785.55C543.51,785.21 544.09,784.88 544.67,784.55C545.25,784.23 545.84,783.91 546.43,783.59C547.02,783.28 547.61,782.97 548.20,782.67C548.79,782.36 549.39,782.06 549.99,781.76C550.58,781.46 551.18,781.16 551.78,780.86C552.37,780.56 552.97,780.27 553.57,779.97C554.16,779.67 554.76,779.37 555.36,779.07C555.96,778.78 556.55,778.48 557.15,778.19C557.75,777.90 558.35,777.60 558.96,777.32C559.56,777.03 560.16,776.75 560.77,776.47C561.38,776.20 561.99,775.93 562.60,775.66C563.21,775.39 563.82,775.12 564.43,774.85C565.04,774.59 565.65,774.32 566.27,774.06C566.88,773.80 567.49,773.53 568.11,773.27C568.72,773.00 569.33,772.74 569.95,772.48C570.56,772.22 571.17,771.96 571.79,771.70C572.41,771.45 573.02,771.19 573.64,770.95C574.27,770.71 574.89,770.47 575.52,770.25C576.14,770.02 576.77,769.81 577.40,769.59C578.04,769.38 578.67,769.18 579.31,768.98C579.94,768.77 580.58,768.57 581.22,768.38C581.85,768.18 582.49,767.98 583.13,767.78C583.77,767.58 584.40,767.39 585.04,767.19C585.68,766.99 586.32,766.79 586.95,766.60C587.59,766.40 588.23,766.20 588.87,766.01C589.50,765.81 590.14,765.61 590.78,765.41C591.42,765.22 592.05,765.02 592.69,764.82C593.33,764.63 593.97,764.43 594.61,764.24C595.25,764.05 595.89,763.87 596.53,763.69C597.17,763.51 597.81,763.33 598.46,763.16C599.10,762.99 599.75,762.83 600.40,762.67C601.05,762.51 601.70,762.36 602.35,762.21C603.00,762.05 603.65,761.90 604.30,761.75C604.95,761.60 605.60,761.45 606.25,761.30C606.90,761.15 607.55,761.00 608.20,760.85C608.85,760.70 609.50,760.55 610.15,760.40C610.80,760.25 611.45,760.10 612.10,759.95C612.75,759.80 613.40,759.65 614.05,759.50C614.70,759.35 615.35,759.20 616.00,759.05C616.65,758.91 617.30,758.76 617.95,758.62C618.61,758.48 619.26,758.34 619.91,758.21C620.57,758.08 621.22,757.95 621.88,757.83C622.53,757.71 623.19,757.59 623.85,757.48C624.51,757.36 625.16,757.25 625.82,757.14C626.48,757.03 627.14,756.92 627.79,756.81C628.45,756.70 629.11,756.58 629.77,756.47C630.43,756.36 631.09,756.25 631.74,756.14C632.40,756.03 633.06,755.92 633.72,755.81C634.38,755.70 635.03,755.59 635.69,755.48C636.35,755.37 637.01,755.26 637.67,755.15C638.32,755.04 638.98,754.93 639.64,754.82C640.30,754.72 640.96,754.61 641.62,754.51C642.28,754.41 642.94,754.32 643.60,754.22C644.26,754.13 644.92,754.04 645.58,753.95C646.24,753.86 646.91,753.78 647.57,753.70C648.23,753.61 648.89,753.53 649.55,753.45C650.22,753.36 650.88,753.28 651.54,753.20C652.20,753.12 652.87,753.03 653.53,752.95C654.19,752.87 654.85,752.79 655.51,752.70C656.18,752.62 656.84,752.54 657.50,752.46C658.16,752.37 658.82,752.29 659.49,752.21C660.15,752.13 660.81,752.04 661.47,751.96C662.14,751.88 662.80,751.80 663.46,751.71C664.12,751.63 664.78,751.55 665.45,751.47C666.11,751.38 666.77,751.30 667.43,751.22C668.10,751.14 668.76,751.05 669.42,750.97C670.08,750.89 670.91,750.79 671.41,750.72C671.90,750.66 672.23,750.62 672.40,750.60" stroke="#f00" stroke-width="1.5" stroke-dasharray="5.8 2.7"/>
<path d="M398.30,884.10C398.63,884.04 399.61,883.87 400.27,883.75C400.92,883.63 401.58,883.51 402.23,883.37C402.88,883.23 403.52,883.09 404.16,882.91C404.80,882.74 405.44,882.56 406.06,882.35C406.69,882.13 407.31,881.90 407.91,881.63C408.51,881.37 409.11,881.08 409.68,880.76C410.26,880.45 410.82,880.10 411.37,879.74C411.92,879.37 412.45,878.98 412.97,878.57C413.50,878.17 414.01,877.74 414.50,877.30C415.00,876.87 415.48,876.41 415.96,875.95C416.43,875.48 416.89,875.00 417.34,874.51C417.78,874.02 418.22,873.52 418.64,873.00C419.06,872.49 419.47,871.97 419.87,871.43C420.26,870.90 420.64,870.36 421.02,869.81C421.39,869.26 421.75,868.70 422.10,868.13C422.46,867.57 422.80,867.00 423.13,866.42C423.46,865.84 423.79,865.26 424.10,864.68C424.42,864.09 424.73,863.50 425.03,862.91C425.34,862.32 425.64,861.72 425.93,861.12C426.23,860.52 426.52,859.92 426.80,859.32C427.09,858.72 427.37,858.12 427.65,857.51C427.93,856.90 428.20,856.30 428.47,855.69C428.74,855.08 429.01,854.47 429.28,853.86C429.55,853.25 429.82,852.64 430.08,852.03C430.35,851.42 430.62,850.81 430.89,850.20C431.15,849.58 431.42,848.97 431.69,848.36C431.95,847.75 432.22,847.14 432.49,846.53C432.76,845.92 433.02,845.31 433.29,844.70C433.56,844.09 433.82,843.48 434.09,842.87C434.36,842.26 434.63,841.64 434.89,841.03C435.16,840.42 435.43,839.81 435.69,839.20C435.96,838.59 436.23,837.98 436.49,837.37C436.76,836.76 437.02,836.14 437.28,835.53C437.55,834.92 437.81,834.30 438.06,833.69C438.32,833.07 438.57,832.46 438.82,831.84C439.07,831.22 439.31,830.60 439.56,829.98C439.81,829.36 440.05,828.74 440.29,828.12C440.54,827.50 440.78,826.88 441.03,826.26C441.28,825.64 441.53,825.02 441.78,824.41C442.03,823.79 442.29,823.18 442.55,822.56C442.81,821.95 443.08,821.34 443.35,820.73C443.61,820.12 443.88,819.51 444.15,818.90C444.43,818.29 444.70,817.68 444.97,817.07C445.25,816.47 445.52,815.86 445.81,815.26C446.09,814.65 446.37,814.05 446.66,813.45C446.95,812.85 447.24,812.25 447.53,811.65C447.83,811.05 448.12,810.45 448.43,809.86C448.73,809.27 449.03,808.67 449.34,808.08C449.65,807.49 449.96,806.90 450.28,806.32C450.60,805.74 450.93,805.16 451.26,804.58C451.60,804.00 451.94,803.43 452.28,802.86C452.63,802.29 452.98,801.72 453.33,801.16C453.68,800.59 454.03,800.03 454.39,799.46C454.75,798.90 455.11,798.34 455.47,797.78C455.83,797.22 456.20,796.66 456.57,796.11C456.94,795.55 457.31,795.00 457.68,794.45C458.06,793.89 458.43,793.34 458.81,792.80C459.19,792.25 459.57,791.70 459.96,791.16C460.35,790.62 460.73,790.07 461.13,789.54C461.52,789.00 461.92,788.46 462.32,787.93C462.72,787.40 463.13,786.87 463.54,786.35C463.95,785.83 464.37,785.31 464.80,784.80C465.22,784.28 465.65,783.77 466.09,783.27C466.52,782.77 466.97,782.27 467.42,781.78C467.87,781.29 468.32,780.80 468.79,780.33C469.25,779.85 469.72,779.37 470.19,778.91C470.67,778.44 471.15,777.98 471.64,777.53C472.12,777.07 472.62,776.63 473.12,776.19C473.62,775.76 474.14,775.33 474.65,774.91C475.17,774.49 475.69,774.08 476.22,773.67C476.74,773.26 477.28,772.86 477.81,772.47C478.35,772.08 478.90,771.69 479.45,771.32C479.99,770.94 480.55,770.58 481.11,770.21C481.67,769.85 482.23,769.50 482.80,769.15C483.37,768.80 483.94,768.46 484.51,768.12C485.09,767.79 485.67,767.46 486.25,767.13C486.83,766.81 487.42,766.50 488.01,766.19C488.60,765.88 489.20,765.58 489.79,765.28C490.39,764.98 490.98,764.68 491.58,764.39C492.18,764.10 492.78,763.81 493.38,763.52C493.98,763.24 494.59,762.95 495.19,762.67C495.80,762.39 496.40,762.11 497.01,761.84C497.62,761.57 498.23,761.29 498.84,761.02C499.45,760.76 500.06,760.49 500.67,760.23C501.29,759.97 501.90,759.72 502.52,759.47C503.14,759.23 503.76,758.99 504.39,758.76C505.01,758.53 505.64,758.30 506.27,758.08C506.89,757.85 507.52,757.64 508.16,757.42C508.79,757.21 509.42,757.00 510.05,756.79C510.69,756.59 511.32,756.39 511.96,756.19C512.60,756.00 513.23,755.81 513.87,755.62C514.51,755.42 515.15,755.23 515.79,755.03C516.42,754.84 517.06,754.64 517.69,754.44C518.33,754.23 518.96,754.03 519.60,753.82C520.23,753.62 520.86,753.41 521.50,753.21C522.13,753.00 522.77,752.79 523.40,752.59C524.04,752.39 524.67,752.20 525.31,752.01C525.95,751.82 526.59,751.64 527.24,751.47C527.88,751.31 528.53,751.15 529.18,751.00C529.82,750.86 530.48,750.72 531.13,750.59C531.78,750.45 532.44,750.33 533.09,750.20C533.74,750.07 534.40,749.94 535.05,749.82C535.71,749.69 536.36,749.57 537.02,749.44C537.67,749.32 538.33,749.19 538.98,749.07C539.64,748.94 540.29,748.82 540.95,748.70C541.60,748.58 542.26,748.45 542.91,748.33C543.57,748.22 544.23,748.10 544.88,747.99C545.54,747.88 546.20,747.77 546.86,747.66C547.52,747.56 548.17,747.46 548.83,747.36C549.49,747.26 550.15,747.16 550.81,747.06C551.47,746.96 552.13,746.87 552.79,746.77C553.45,746.67 554.11,746.58 554.77,746.48C555.43,746.38 556.09,746.29 556.75,746.19C557.41,746.09 558.07,746.00 558.73,745.90C559.39,745.81 560.05,745.71 560.71,745.62C561.37,745.53 562.03,745.43 562.69,745.34C563.35,745.26 564.01,745.17 564.67,745.08C565.33,745.00 565.99,744.92 566.65,744.83C567.32,744.75 567.98,744.67 568.64,744.59C569.30,744.51 569.96,744.43 570.62,744.34C571.29,744.26 571.95,744.18 572.61,744.10C573.27,744.02 573.93,743.94 574.60,743.86C575.26,743.78 575.92,743.70 576.58,743.63C577.24,743.55 577.91,743.47 578.57,743.40C579.23,743.33 579.89,743.26 580.56,743.20C581.22,743.13 581.88,743.07 582.55,743.01C583.21,742.95 583.88,742.90 584.54,742.84C585.21,742.79 585.87,742.73 586.53,742.68C587.20,742.63 587.86,742.57 588.53,742.52C589.19,742.47 589.86,742.41 590.52,742.36C591.19,742.31 591.85,742.26 592.52,742.20C593.18,742.15 593.84,742.10 594.51,742.04C595.17,741.99 595.84,741.94 596.50,741.89C597.17,741.83 597.83,741.78 598.50,741.73C599.16,741.67 599.83,741.62 600.49,741.57C601.16,741.52 601.82,741.47 602.48,741.42C603.15,741.37 603.81,741.32 604.48,741.27C605.14,741.23 605.81,741.18 606.48,741.14C607.14,741.10 607.81,741.06 608.47,741.03C609.14,740.99 609.80,740.95 610.47,740.92C611.13,740.88 611.80,740.84 612.47,740.81C613.13,740.77 613.80,740.74 614.46,740.70C615.13,740.67 615.79,740.63 616.46,740.60C617.13,740.56 617.79,740.53 618.46,740.49C619.12,740.45 619.79,740.42 620.45,740.38C621.12,740.35 621.79,740.31 622.45,740.28C623.12,740.24 623.78,740.21 624.45,740.17C625.11,740.14 625.78,740.10 626.45,740.07C627.11,740.03 627.78,739.99 628.44,739.96C629.11,739.92 629.77,739.89 630.44,739.85C631.11,739.82 631.77,739.78 632.44,739.75C633.10,739.72 633.77,739.68 634.44,739.65C635.10,739.62 635.77,739.58 636.43,739.55C637.10,739.52 637.77,739.49 638.43,739.46C639.10,739.43 639.76,739.40 640.43,739.38C641.10,739.35 641.76,739.32 642.43,739.29C643.09,739.26 643.76,739.23 644.43,739.20C645.09,739.17 645.76,739.15 646.42,739.12C647.09,739.09 647.76,739.06 648.42,739.03C649.09,739.00 649.75,738.97 650.42,738.95C651.09,738.92 651.75,738.89 652.42,738.86C653.08,738.83 653.75,738.80 654.42,738.77C655.08,738.74 655.75,738.72 656.41,738.69C657.08,738.66 657.75,738.63 658.41,738.60C659.08,738.57 659.74,738.54 660.41,738.52C661.08,738.49 661.74,738.46 662.41,738.43C663.08,738.40 663.74,738.37 664.41,738.34C665.07,738.32 665.74,738.29 666.41,738.26C667.07,738.23 667.74,738.20 668.40,738.17C669.07,738.14 669.74,738.11 670.40,738.09C671.07,738.06 672.07,738.01 672.40,738.00" stroke="#000" stroke-width="1.7" stroke-dasharray="5.8 2.1 1.9 2.2"/>
<path d="M399.02,777.34C399.33,777.46 400.27,777.81 400.90,778.04C401.52,778.28 402.15,778.51 402.78,778.74C403.40,778.97 404.03,779.20 404.66,779.42C405.29,779.64 405.92,779.87 406.55,780.07C407.19,780.26 407.83,780.45 408.47,780.59C409.12,780.73 409.77,780.84 410.43,780.90C411.08,780.97 411.75,780.99 412.40,780.96C413.06,780.93 413.72,780.85 414.36,780.74C415.01,780.62 415.66,780.45 416.29,780.26C416.93,780.07 417.55,779.85 418.16,779.59C418.78,779.34 419.38,779.06 419.97,778.75C420.56,778.45 421.13,778.11 421.69,777.75C422.26,777.40 422.80,777.02 423.35,776.64C423.90,776.26 424.44,775.87 424.98,775.48C425.52,775.08 426.06,774.69 426.59,774.29C427.12,773.89 427.66,773.48 428.19,773.07C428.71,772.67 429.24,772.26 429.77,771.84C430.29,771.43 430.81,771.01 431.34,770.60C431.86,770.19 432.38,769.77 432.91,769.37C433.44,768.96 433.98,768.56 434.51,768.17C435.05,767.77 435.60,767.38 436.14,767.00C436.69,766.61 437.23,766.23 437.78,765.85C438.33,765.47 438.89,765.10 439.44,764.72C439.99,764.35 440.55,763.98 441.10,763.61C441.66,763.25 442.22,762.88 442.78,762.52C443.35,762.16 443.91,761.81 444.48,761.46C445.05,761.11 445.62,760.77 446.20,760.43C446.77,760.09 447.35,759.76 447.93,759.43C448.51,759.10 449.10,758.77 449.68,758.45C450.27,758.13 450.85,757.81 451.44,757.50C452.03,757.18 452.62,756.87 453.21,756.56C453.81,756.26 454.40,755.96 455.00,755.67C455.60,755.38 456.21,755.10 456.82,754.83C457.43,754.55 458.04,754.29 458.65,754.02C459.27,753.76 459.88,753.50 460.50,753.25C461.12,752.99 461.74,752.74 462.36,752.50C462.98,752.26 463.60,752.02 464.23,751.78C464.85,751.55 465.48,751.31 466.11,751.09C466.73,750.86 467.36,750.64 467.99,750.42C468.62,750.20 469.26,749.99 469.89,749.78C470.53,749.57 471.16,749.36 471.80,749.16C472.43,748.96 473.07,748.76 473.71,748.57C474.35,748.37 474.99,748.18 475.63,748.00C476.27,747.81 476.91,747.63 477.55,747.45C478.20,747.27 478.84,747.09 479.49,746.92C480.13,746.75 480.78,746.58 481.43,746.42C482.07,746.25 482.72,746.09 483.37,745.93C484.02,745.78 484.67,745.62 485.32,745.47C485.97,745.32 486.62,745.17 487.27,745.02C487.92,744.88 488.57,744.74 489.23,744.60C489.88,744.46 490.53,744.32 491.19,744.18C491.84,744.05 492.50,743.92 493.15,743.79C493.81,743.66 494.46,743.54 495.12,743.42C495.77,743.29 496.43,743.17 497.09,743.05C497.74,742.94 498.40,742.82 499.06,742.71C499.72,742.60 500.38,742.49 501.04,742.38C501.70,742.27 502.35,742.17 503.01,742.06C503.67,741.96 504.33,741.86 504.99,741.76C505.66,741.67 506.32,741.57 506.98,741.48C507.64,741.38 508.30,741.29 508.96,741.20C509.62,741.11 510.28,741.02 510.95,740.94C511.61,740.85 512.27,740.77 512.93,740.68C513.60,740.60 514.26,740.52 514.92,740.44C515.58,740.36 516.25,740.29 516.91,740.21C517.57,740.13 518.24,740.06 518.90,739.99C519.57,739.91 520.23,739.84 520.89,739.77C521.56,739.70 522.22,739.64 522.89,739.57C523.55,739.50 524.21,739.44 524.88,739.38C525.54,739.31 526.21,739.25 526.87,739.19C527.54,739.13 528.20,739.07 528.87,739.02C529.53,738.96 530.20,738.90 530.86,738.85C531.53,738.79 532.20,738.74 532.86,738.69C533.53,738.63 534.19,738.58 534.86,738.53C535.52,738.48 536.19,738.43 536.86,738.38C537.52,738.33 538.19,738.29 538.85,738.24C539.52,738.19 540.19,738.15 540.85,738.10C541.52,738.06 542.18,738.02 542.85,737.98C543.52,737.94 544.18,737.89 544.85,737.85C545.52,737.81 546.18,737.78 546.85,737.74C547.52,737.70 548.18,737.66 548.85,737.62C549.52,737.59 550.18,737.55 550.85,737.51C551.52,737.48 552.18,737.45 552.85,737.41C553.52,737.38 554.18,737.35 554.85,737.31C555.52,737.28 556.18,737.25 556.85,737.22C557.52,737.19 558.19,737.16 558.85,737.13C559.52,737.10 560.19,737.07 560.85,737.04C561.52,737.02 562.19,736.99 562.85,736.96C563.52,736.93 564.19,736.91 564.86,736.88C565.52,736.86 566.19,736.83 566.86,736.81C567.53,736.78 568.19,736.76 568.86,736.74C569.53,736.71 570.19,736.69 570.86,736.67C571.53,736.65 572.20,736.62 572.86,736.60C573.53,736.58 574.20,736.56 574.87,736.54C575.53,736.52 576.20,736.50 576.87,736.48C577.53,736.46 578.20,736.44 578.87,736.42C579.54,736.40 580.20,736.38 580.87,736.37C581.54,736.35 582.21,736.33 582.87,736.32C583.54,736.30 584.21,736.29 584.88,736.27C585.54,736.25 586.21,736.24 586.88,736.22C587.55,736.21 588.21,736.19 588.88,736.18C589.55,736.16 590.22,736.15 590.88,736.14C591.55,736.12 592.22,736.11 592.89,736.09C593.55,736.08 594.22,736.07 594.89,736.05C595.56,736.04 596.22,736.03 596.89,736.01C597.56,736.00 598.23,735.99 598.89,735.97C599.56,735.96 600.23,735.95 600.90,735.94C601.57,735.93 602.23,735.92 602.90,735.91C603.57,735.89 604.24,735.88 604.90,735.87C605.57,735.86 606.24,735.85 606.91,735.85C607.57,735.84 608.24,735.83 608.91,735.82C609.58,735.81 610.24,735.80 610.91,735.79C611.58,735.78 612.25,735.77 612.91,735.76C613.58,735.76 614.25,735.75 614.92,735.74C615.58,735.73 616.25,735.72 616.92,735.71C617.59,735.71 618.26,735.70 618.92,735.69C619.59,735.68 620.26,735.68 620.93,735.67C621.59,735.66 622.26,735.66 622.93,735.65C623.60,735.64 624.26,735.64 624.93,735.63C625.60,735.62 626.27,735.62 626.93,735.61C627.60,735.60 628.27,735.60 628.94,735.59C629.61,735.59 630.27,735.58 630.94,735.57C631.61,735.57 632.28,735.56 632.94,735.56C633.61,735.55 634.28,735.55 634.95,735.54C635.61,735.54 636.28,735.53 636.95,735.53C637.62,735.52 638.28,735.52 638.95,735.51C639.62,735.51 640.29,735.50 640.96,735.50C641.62,735.50 642.29,735.49 642.96,735.49C643.63,735.48 644.29,735.48 644.96,735.47C645.63,735.47 646.30,735.47 646.96,735.46C647.63,735.46 648.30,735.45 648.97,735.45C649.63,735.45 650.30,735.44 650.97,735.44C651.64,735.44 652.31,735.43 652.97,735.43C653.64,735.43 654.31,735.42 654.98,735.42C655.64,735.42 656.31,735.41 656.98,735.41C657.65,735.41 658.31,735.40 658.98,735.40C659.65,735.40 660.32,735.39 660.99,735.39C661.65,735.39 662.32,735.38 662.99,735.38C663.66,735.38 664.32,735.37 664.99,735.37C665.66,735.37 666.33,735.37 666.99,735.36C667.66,735.36 668.33,735.36 669.00,735.36C669.66,735.35 670.67,735.35 671.00,735.35" stroke="#00f" stroke-width="1.4" stroke-dasharray="none"/>
</g>
<g style="mix-blend-mode:multiply"><path d="M398.5 888.5v-4.0M398.5 719.5v4.0M412.2 888.5v-2.3M412.2 719.5v2.3M425.9 888.5v-2.3M425.9 719.5v2.3M439.6 888.5v-2.3M439.6 719.5v2.3M453.3 888.5v-4.0M453.3 719.5v4.0M467 888.5v-2.3M467 719.5v2.3M480.7 888.5v-2.3M480.7 719.5v2.3M494.4 888.5v-2.3M494.4 719.5v2.3M508.1 888.5v-4.0M508.1 719.5v4.0M521.8 888.5v-2.3M521.8 719.5v2.3M535.5 888.5v-2.3M535.5 719.5v2.3M549.2 888.5v-2.3M549.2 719.5v2.3M562.9 888.5v-4.0M562.9 719.5v4.0M576.6 888.5v-2.3M576.6 719.5v2.3M590.3 888.5v-2.3M590.3 719.5v2.3M604 888.5v-2.3M604 719.5v2.3M617.7 888.5v-4.0M617.7 719.5v4.0M631.4 888.5v-2.3M631.4 719.5v2.3M645.1 888.5v-2.3M645.1 719.5v2.3M658.8 888.5v-2.3M658.8 719.5v2.3M672.5 888.5v-4.0M672.5 719.5v4.0M398.5 888.5h4.0M672.5 888.5h-4.0M398.5 880.82h2.3M672.5 880.82h-2.3M398.5 873.14h2.3M672.5 873.14h-2.3M398.5 865.45h2.3M672.5 865.45h-2.3M398.5 857.77h4.0M672.5 857.77h-4.0M398.5 850.09h2.3M672.5 850.09h-2.3M398.5 842.41h2.3M672.5 842.41h-2.3M398.5 834.73h2.3M672.5 834.73h-2.3M398.5 827.05h4.0M672.5 827.05h-4.0M398.5 819.36h2.3M672.5 819.36h-2.3M398.5 811.68h2.3M672.5 811.68h-2.3M398.5 804h2.3M672.5 804h-2.3M398.5 796.32h4.0M672.5 796.32h-4.0M398.5 788.64h2.3M672.5 788.64h-2.3M398.5 780.95h2.3M672.5 780.95h-2.3M398.5 773.27h2.3M672.5 773.27h-2.3M398.5 765.59h4.0M672.5 765.59h-4.0M398.5 757.91h2.3M672.5 757.91h-2.3M398.5 750.23h2.3M672.5 750.23h-2.3M398.5 742.55h2.3M672.5 742.55h-2.3M398.5 734.86h4.0M672.5 734.86h-4.0M398.5 727.18h2.3M672.5 727.18h-2.3M398.5 719.5h2.3M672.5 719.5h-2.3" stroke="#333" stroke-width="0.9" fill="none"/>
<rect x="398.5" y="719.5" width="274" height="169" stroke="#333" stroke-width="1" fill="none"/></g>
<path d="M601 852.9h17.7" stroke="#f00" stroke-width="1.5" stroke-dasharray="6.3 2.5 6 20"/>
<text x="622" y="855.6" class="l">T/T<tspan font-size="7.6" dy="2.6" dx="0.3">c</tspan><tspan dy="-2.6" dx="0.3">=0.3</tspan></text>
<path d="M601 865.1h17.7" stroke="#000" stroke-width="1.5" stroke-dasharray="6.1 1.9 1.9 2"/>
<text x="622" y="867.8" class="l">T/T<tspan font-size="7.6" dy="2.6" dx="0.3">c</tspan><tspan dy="-2.6" dx="0.3">=0.6</tspan></text>
<path d="M601 877.3h17.7" stroke="#00f" stroke-width="1.5" stroke-dasharray="none"/>
<text x="622" y="880" class="l">T/T<tspan font-size="7.6" dy="2.6" dx="0.3">c</tspan><tspan dy="-2.6" dx="0.3">=0.9</tspan></text>
<text x="427.06" y="941" class="cb" font-size="16">(</text>
<text transform="translate(433.13 941) scale(1.08 1)" class="cb" font-size="13.4">h</text>
<text x="441.91" y="941" class="cb" font-size="16">)</text>
<text transform="translate(452.38 941) scale(1.15 1)" class="ci" font-size="13.4">z</text>
<path d="M463.12 935.5H472.23M463.12 939.5H472.23" stroke="#000" stroke-width="0.85"/>
<text x="476.87" y="941" class="cr" font-size="13.4">2</text>
<text x="483.86" y="941" class="cr" font-size="13.4">,</text>
<text transform="translate(492.2 941) scale(1.2 1)" class="ci" font-size="13.4">m</text>
<text x="504.23" y="935.7" class="cr" font-size="8.8">2</text>
<path d="M514.7 935.5H523.81M514.7 939.5H523.81" stroke="#000" stroke-width="0.85"/>
<path d="M529.14 937.5H538.26" stroke="#000" stroke-width="0.85"/>
<text x="539.09" y="941" class="cr" font-size="13.4">3</text>
<text x="547.42" y="941" class="cr" font-size="13.4">/</text>
<text x="552.77" y="941" class="cr" font-size="13.4">4</text>
<text x="559.77" y="941" class="cr" font-size="13.4">,</text>
<text transform="translate(567.65 941) scale(0.95 1)" class="ci" font-size="13.4">b</text>
<path d="M578.33 935.5H587.45M578.33 939.5H587.45" stroke="#000" stroke-width="0.85"/>
<text x="592.08" y="941" class="cr" font-size="13.4">0</text>
<text x="599.08" y="941" class="cr" font-size="13.4">.</text>
<text x="602.73" y="941" class="cr" font-size="13.4">0</text>
<text x="609.57" y="941" class="cr" font-size="13.4">4</text>
</svg>
</body></html>
